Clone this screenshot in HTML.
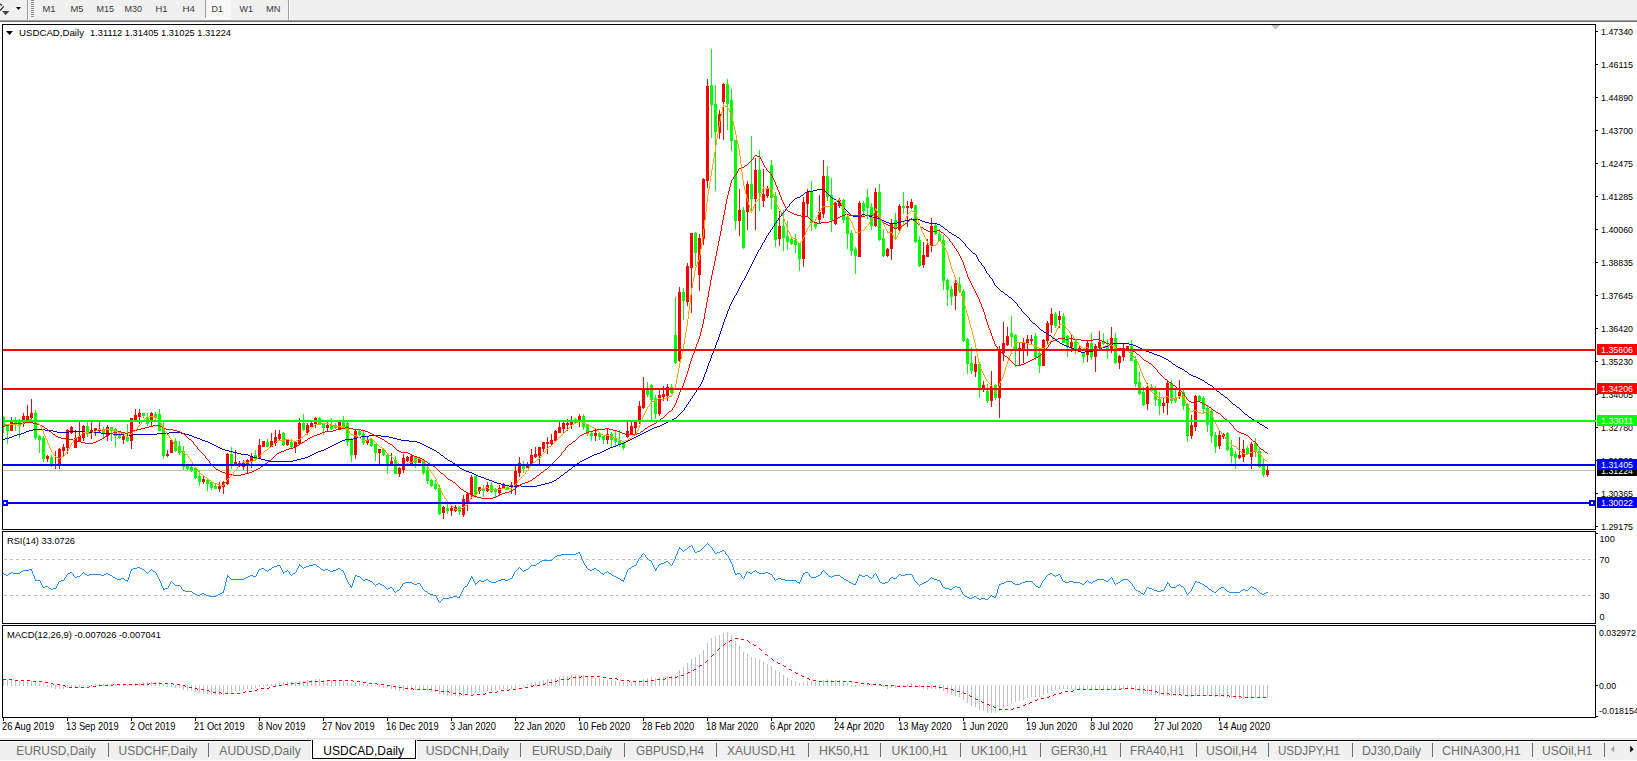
<!DOCTYPE html><html><head><meta charset="utf-8"><style>html,body{margin:0;padding:0;background:#fff;}body{width:1637px;height:761px;overflow:hidden;position:relative;}svg{position:absolute;left:0;top:0;display:block}text{font-family:"Liberation Sans", Arial, sans-serif;}</style></head><body>
<svg width="1637" height="761" viewBox="0 0 1637 761" shape-rendering="crispEdges">
<rect x="0" y="0" width="1637" height="20" fill="#f0f0f0"/>
<rect x="0" y="20" width="1637" height="1" fill="#a0a0a0"/>
<rect x="0" y="21" width="1637" height="1" fill="#696969"/>
<rect x="27" y="0" width="1" height="20" fill="#a0a0a0"/><rect x="28" y="0" width="1" height="20" fill="#ffffff"/>
<rect x="31" y="0" width="3" height="1" fill="#909090"/>
<rect x="31" y="2" width="3" height="1" fill="#909090"/>
<rect x="31" y="4" width="3" height="1" fill="#909090"/>
<rect x="31" y="6" width="3" height="1" fill="#909090"/>
<rect x="31" y="8" width="3" height="1" fill="#909090"/>
<rect x="31" y="10" width="3" height="1" fill="#909090"/>
<rect x="31" y="12" width="3" height="1" fill="#909090"/>
<rect x="31" y="14" width="3" height="1" fill="#909090"/>
<rect x="31" y="16" width="3" height="1" fill="#909090"/>
<g shape-rendering="auto"><path d="M0 4.2 L1.9 5.4 M3.7 6.4 L0.2 10.6" stroke="#fff" stroke-width="3.2" fill="none" opacity="0.85"/><path d="M0 4.2 L1.9 5.4 M3.7 6.4 L0.2 10.6" stroke="#2a2a2a" stroke-width="1.4" fill="none"/><path d="M2 11 L9.5 11 L5.6 15.3 Z" fill="#4a4a4a" stroke="#fff" stroke-width="1.2" stroke-linejoin="round" paint-order="stroke"/><path d="M16 7 L21 7 L18.5 10 Z" fill="#000" stroke="#fff" stroke-width="1" paint-order="stroke"/></g>
<rect x="205" y="0" width="1" height="18" fill="#a0a0a0"/>
<rect x="206" y="0" width="25" height="18" fill="#f7f7f7"/>
<rect x="205" y="18" width="26" height="1" fill="#ffffff"/>
<rect x="288" y="0" width="1" height="20" fill="#a0a0a0"/><rect x="289" y="0" width="1" height="20" fill="#ffffff"/>
<text x="42.5" y="12" font-size="9.6" fill="#3a3a3a" textLength="13" lengthAdjust="spacingAndGlyphs">M1</text>
<text x="70.5" y="12" font-size="9.6" fill="#3a3a3a" textLength="13" lengthAdjust="spacingAndGlyphs">M5</text>
<text x="96.5" y="12" font-size="9.6" fill="#3a3a3a" textLength="17.5" lengthAdjust="spacingAndGlyphs">M15</text>
<text x="124.5" y="12" font-size="9.6" fill="#3a3a3a" textLength="17.5" lengthAdjust="spacingAndGlyphs">M30</text>
<text x="155.5" y="12" font-size="9.6" fill="#3a3a3a" textLength="12" lengthAdjust="spacingAndGlyphs">H1</text>
<text x="182.5" y="12" font-size="9.6" fill="#3a3a3a" textLength="12.5" lengthAdjust="spacingAndGlyphs">H4</text>
<text x="211.5" y="12" font-size="9.6" fill="#3a3a3a" textLength="11.5" lengthAdjust="spacingAndGlyphs">D1</text>
<text x="239.5" y="12" font-size="9.6" fill="#3a3a3a" textLength="13.5" lengthAdjust="spacingAndGlyphs">W1</text>
<text x="266" y="12" font-size="9.6" fill="#3a3a3a" textLength="14.5" lengthAdjust="spacingAndGlyphs">MN</text>
<rect x="2.5" y="24.5" width="1593" height="505" fill="#fff" stroke="#000" stroke-width="1"/>
<rect x="2.5" y="531.5" width="1593" height="92" fill="#fff" stroke="#000" stroke-width="1"/>
<rect x="2.5" y="625.5" width="1593" height="92" fill="#fff" stroke="#000" stroke-width="1"/>
<rect x="3" y="470" width="1592" height="1" fill="#c0c0c0"/>
<rect x="3" y="416" width="1" height="17" fill="#00ff00"/>
<rect x="2" y="417" width="3" height="9" fill="#00ff00"/>
<rect x="7" y="425" width="1" height="19" fill="#00ff00"/>
<rect x="6" y="426" width="3" height="5" fill="#00ff00"/>
<rect x="11" y="417" width="1" height="14" fill="#ff0000"/>
<rect x="10" y="422" width="3" height="9" fill="#ff0000"/>
<rect x="15" y="417" width="1" height="14" fill="#00ff00"/>
<rect x="14" y="422" width="3" height="2" fill="#00ff00"/>
<rect x="19" y="419" width="1" height="19" fill="#00ff00"/>
<rect x="18" y="421" width="3" height="5" fill="#00ff00"/>
<rect x="23" y="413" width="1" height="14" fill="#ff0000"/>
<rect x="22" y="416" width="3" height="5" fill="#ff0000"/>
<rect x="27" y="405" width="1" height="15" fill="#ff0000"/>
<rect x="26" y="416" width="3" height="4" fill="#ff0000"/>
<rect x="31" y="399" width="1" height="20" fill="#ff0000"/>
<rect x="30" y="413" width="3" height="5" fill="#ff0000"/>
<rect x="35" y="410" width="1" height="30" fill="#00ff00"/>
<rect x="34" y="413" width="3" height="25" fill="#00ff00"/>
<rect x="39" y="435" width="1" height="18" fill="#00ff00"/>
<rect x="38" y="436" width="3" height="4" fill="#00ff00"/>
<rect x="43" y="436" width="1" height="26" fill="#00ff00"/>
<rect x="42" y="438" width="3" height="21" fill="#00ff00"/>
<rect x="47" y="455" width="1" height="7" fill="#ff0000"/>
<rect x="46" y="456" width="3" height="3" fill="#ff0000"/>
<rect x="51" y="455" width="1" height="12" fill="#00ff00"/>
<rect x="50" y="457" width="3" height="9" fill="#00ff00"/>
<rect x="55" y="451" width="1" height="18" fill="#ff0000"/>
<rect x="54" y="464" width="3" height="2" fill="#ff0000"/>
<rect x="59" y="448" width="1" height="21" fill="#ff0000"/>
<rect x="58" y="449" width="3" height="17" fill="#ff0000"/>
<rect x="63" y="444" width="1" height="13" fill="#ff0000"/>
<rect x="62" y="447" width="3" height="4" fill="#ff0000"/>
<rect x="67" y="429" width="1" height="25" fill="#ff0000"/>
<rect x="66" y="430" width="3" height="18" fill="#ff0000"/>
<rect x="71" y="426" width="1" height="8" fill="#ff0000"/>
<rect x="70" y="427" width="3" height="6" fill="#ff0000"/>
<rect x="75" y="430" width="1" height="18" fill="#ff0000"/>
<rect x="74" y="438" width="3" height="10" fill="#ff0000"/>
<rect x="79" y="422" width="1" height="19" fill="#ff0000"/>
<rect x="78" y="436" width="3" height="5" fill="#ff0000"/>
<rect x="83" y="425" width="1" height="16" fill="#ff0000"/>
<rect x="82" y="426" width="3" height="12" fill="#ff0000"/>
<rect x="87" y="420" width="1" height="17" fill="#00ff00"/>
<rect x="86" y="426" width="3" height="8" fill="#00ff00"/>
<rect x="91" y="422" width="1" height="17" fill="#ff0000"/>
<rect x="90" y="430" width="3" height="3" fill="#ff0000"/>
<rect x="95" y="428" width="1" height="8" fill="#ff0000"/>
<rect x="94" y="428" width="3" height="3" fill="#ff0000"/>
<rect x="99" y="422" width="1" height="11" fill="#ff0000"/>
<rect x="98" y="429" width="3" height="2" fill="#ff0000"/>
<rect x="103" y="427" width="1" height="11" fill="#00ff00"/>
<rect x="102" y="429" width="3" height="4" fill="#00ff00"/>
<rect x="107" y="425" width="1" height="16" fill="#ff0000"/>
<rect x="106" y="427" width="3" height="9" fill="#ff0000"/>
<rect x="111" y="427" width="1" height="14" fill="#00ff00"/>
<rect x="110" y="427" width="3" height="4" fill="#00ff00"/>
<rect x="115" y="428" width="1" height="19" fill="#00ff00"/>
<rect x="114" y="429" width="3" height="7" fill="#00ff00"/>
<rect x="119" y="432" width="1" height="7" fill="#00ff00"/>
<rect x="118" y="435" width="3" height="3" fill="#00ff00"/>
<rect x="123" y="435" width="1" height="9" fill="#ff0000"/>
<rect x="122" y="436" width="3" height="4" fill="#ff0000"/>
<rect x="127" y="424" width="1" height="18" fill="#00ff00"/>
<rect x="126" y="437" width="3" height="4" fill="#00ff00"/>
<rect x="131" y="418" width="1" height="31" fill="#ff0000"/>
<rect x="130" y="418" width="3" height="23" fill="#ff0000"/>
<rect x="135" y="409" width="1" height="12" fill="#ff0000"/>
<rect x="134" y="415" width="3" height="6" fill="#ff0000"/>
<rect x="139" y="409" width="1" height="15" fill="#ff0000"/>
<rect x="138" y="413" width="3" height="4" fill="#ff0000"/>
<rect x="143" y="413" width="1" height="5" fill="#00ff00"/>
<rect x="142" y="413" width="3" height="3" fill="#00ff00"/>
<rect x="147" y="413" width="1" height="13" fill="#00ff00"/>
<rect x="146" y="417" width="3" height="7" fill="#00ff00"/>
<rect x="151" y="412" width="1" height="15" fill="#ff0000"/>
<rect x="150" y="413" width="3" height="8" fill="#ff0000"/>
<rect x="155" y="412" width="1" height="10" fill="#00ff00"/>
<rect x="154" y="414" width="3" height="4" fill="#00ff00"/>
<rect x="159" y="409" width="1" height="22" fill="#00ff00"/>
<rect x="158" y="414" width="3" height="17" fill="#00ff00"/>
<rect x="163" y="422" width="1" height="37" fill="#00ff00"/>
<rect x="162" y="428" width="3" height="28" fill="#00ff00"/>
<rect x="167" y="450" width="1" height="7" fill="#ff0000"/>
<rect x="166" y="454" width="3" height="2" fill="#ff0000"/>
<rect x="171" y="440" width="1" height="13" fill="#ff0000"/>
<rect x="170" y="440" width="3" height="13" fill="#ff0000"/>
<rect x="175" y="438" width="1" height="14" fill="#00ff00"/>
<rect x="174" y="441" width="3" height="10" fill="#00ff00"/>
<rect x="179" y="441" width="1" height="14" fill="#00ff00"/>
<rect x="178" y="446" width="3" height="7" fill="#00ff00"/>
<rect x="183" y="446" width="1" height="24" fill="#00ff00"/>
<rect x="182" y="451" width="3" height="16" fill="#00ff00"/>
<rect x="187" y="465" width="1" height="6" fill="#00ff00"/>
<rect x="186" y="466" width="3" height="3" fill="#00ff00"/>
<rect x="191" y="466" width="1" height="6" fill="#00ff00"/>
<rect x="190" y="467" width="3" height="4" fill="#00ff00"/>
<rect x="195" y="467" width="1" height="12" fill="#00ff00"/>
<rect x="194" y="468" width="3" height="10" fill="#00ff00"/>
<rect x="199" y="470" width="1" height="16" fill="#00ff00"/>
<rect x="198" y="476" width="3" height="6" fill="#00ff00"/>
<rect x="203" y="475" width="1" height="9" fill="#ff0000"/>
<rect x="202" y="479" width="3" height="3" fill="#ff0000"/>
<rect x="207" y="478" width="1" height="13" fill="#00ff00"/>
<rect x="206" y="480" width="3" height="4" fill="#00ff00"/>
<rect x="211" y="481" width="1" height="9" fill="#00ff00"/>
<rect x="210" y="482" width="3" height="6" fill="#00ff00"/>
<rect x="215" y="484" width="1" height="5" fill="#00ff00"/>
<rect x="214" y="486" width="3" height="3" fill="#00ff00"/>
<rect x="219" y="482" width="1" height="10" fill="#ff0000"/>
<rect x="218" y="486" width="3" height="3" fill="#ff0000"/>
<rect x="223" y="481" width="1" height="13" fill="#ff0000"/>
<rect x="222" y="482" width="3" height="5" fill="#ff0000"/>
<rect x="227" y="453" width="1" height="32" fill="#ff0000"/>
<rect x="226" y="454" width="3" height="30" fill="#ff0000"/>
<rect x="231" y="447" width="1" height="22" fill="#00ff00"/>
<rect x="230" y="454" width="3" height="11" fill="#00ff00"/>
<rect x="235" y="450" width="1" height="15" fill="#ff0000"/>
<rect x="234" y="462" width="3" height="3" fill="#ff0000"/>
<rect x="239" y="461" width="1" height="6" fill="#ff0000"/>
<rect x="238" y="463" width="3" height="2" fill="#ff0000"/>
<rect x="243" y="460" width="1" height="10" fill="#ff0000"/>
<rect x="242" y="463" width="3" height="4" fill="#ff0000"/>
<rect x="247" y="459" width="1" height="15" fill="#ff0000"/>
<rect x="246" y="460" width="3" height="4" fill="#ff0000"/>
<rect x="251" y="453" width="1" height="15" fill="#ff0000"/>
<rect x="250" y="456" width="3" height="6" fill="#ff0000"/>
<rect x="255" y="450" width="1" height="11" fill="#00ff00"/>
<rect x="254" y="455" width="3" height="4" fill="#00ff00"/>
<rect x="259" y="439" width="1" height="20" fill="#ff0000"/>
<rect x="258" y="445" width="3" height="13" fill="#ff0000"/>
<rect x="263" y="441" width="1" height="6" fill="#ff0000"/>
<rect x="262" y="441" width="3" height="6" fill="#ff0000"/>
<rect x="267" y="439" width="1" height="8" fill="#00ff00"/>
<rect x="266" y="442" width="3" height="5" fill="#00ff00"/>
<rect x="271" y="433" width="1" height="14" fill="#ff0000"/>
<rect x="270" y="441" width="3" height="6" fill="#ff0000"/>
<rect x="275" y="430" width="1" height="16" fill="#ff0000"/>
<rect x="274" y="437" width="3" height="6" fill="#ff0000"/>
<rect x="279" y="430" width="1" height="11" fill="#ff0000"/>
<rect x="278" y="434" width="3" height="5" fill="#ff0000"/>
<rect x="283" y="432" width="1" height="14" fill="#00ff00"/>
<rect x="282" y="433" width="3" height="12" fill="#00ff00"/>
<rect x="287" y="439" width="1" height="7" fill="#ff0000"/>
<rect x="286" y="440" width="3" height="5" fill="#ff0000"/>
<rect x="291" y="439" width="1" height="9" fill="#00ff00"/>
<rect x="290" y="442" width="3" height="5" fill="#00ff00"/>
<rect x="295" y="441" width="1" height="12" fill="#ff0000"/>
<rect x="294" y="442" width="3" height="5" fill="#ff0000"/>
<rect x="299" y="418" width="1" height="26" fill="#ff0000"/>
<rect x="298" y="423" width="3" height="21" fill="#ff0000"/>
<rect x="303" y="414" width="1" height="17" fill="#00ff00"/>
<rect x="302" y="423" width="3" height="7" fill="#00ff00"/>
<rect x="307" y="423" width="1" height="12" fill="#ff0000"/>
<rect x="306" y="425" width="3" height="8" fill="#ff0000"/>
<rect x="311" y="422" width="1" height="5" fill="#ff0000"/>
<rect x="310" y="423" width="3" height="4" fill="#ff0000"/>
<rect x="315" y="417" width="1" height="11" fill="#ff0000"/>
<rect x="314" y="418" width="3" height="6" fill="#ff0000"/>
<rect x="319" y="417" width="1" height="8" fill="#00ff00"/>
<rect x="318" y="418" width="3" height="7" fill="#00ff00"/>
<rect x="323" y="423" width="1" height="12" fill="#00ff00"/>
<rect x="322" y="424" width="3" height="4" fill="#00ff00"/>
<rect x="327" y="422" width="1" height="9" fill="#ff0000"/>
<rect x="326" y="425" width="3" height="3" fill="#ff0000"/>
<rect x="331" y="418" width="1" height="12" fill="#00ff00"/>
<rect x="330" y="425" width="3" height="4" fill="#00ff00"/>
<rect x="335" y="423" width="1" height="6" fill="#00ff00"/>
<rect x="334" y="425" width="3" height="3" fill="#00ff00"/>
<rect x="339" y="422" width="1" height="8" fill="#ff0000"/>
<rect x="338" y="422" width="3" height="8" fill="#ff0000"/>
<rect x="343" y="416" width="1" height="12" fill="#00ff00"/>
<rect x="342" y="422" width="3" height="6" fill="#00ff00"/>
<rect x="347" y="422" width="1" height="24" fill="#00ff00"/>
<rect x="346" y="423" width="3" height="19" fill="#00ff00"/>
<rect x="351" y="438" width="1" height="24" fill="#00ff00"/>
<rect x="350" y="440" width="3" height="15" fill="#00ff00"/>
<rect x="355" y="430" width="1" height="29" fill="#ff0000"/>
<rect x="354" y="431" width="3" height="24" fill="#ff0000"/>
<rect x="359" y="430" width="1" height="6" fill="#00ff00"/>
<rect x="358" y="431" width="3" height="4" fill="#00ff00"/>
<rect x="363" y="431" width="1" height="14" fill="#00ff00"/>
<rect x="362" y="434" width="3" height="9" fill="#00ff00"/>
<rect x="367" y="436" width="1" height="9" fill="#ff0000"/>
<rect x="366" y="440" width="3" height="3" fill="#ff0000"/>
<rect x="371" y="439" width="1" height="8" fill="#00ff00"/>
<rect x="370" y="439" width="3" height="7" fill="#00ff00"/>
<rect x="375" y="444" width="1" height="17" fill="#00ff00"/>
<rect x="374" y="444" width="3" height="9" fill="#00ff00"/>
<rect x="379" y="449" width="1" height="15" fill="#ff0000"/>
<rect x="378" y="449" width="3" height="4" fill="#ff0000"/>
<rect x="383" y="449" width="1" height="7" fill="#00ff00"/>
<rect x="382" y="449" width="3" height="6" fill="#00ff00"/>
<rect x="387" y="453" width="1" height="21" fill="#00ff00"/>
<rect x="386" y="455" width="3" height="9" fill="#00ff00"/>
<rect x="391" y="453" width="1" height="12" fill="#ff0000"/>
<rect x="390" y="461" width="3" height="3" fill="#ff0000"/>
<rect x="395" y="456" width="1" height="18" fill="#00ff00"/>
<rect x="394" y="460" width="3" height="14" fill="#00ff00"/>
<rect x="399" y="467" width="1" height="10" fill="#ff0000"/>
<rect x="398" y="468" width="3" height="6" fill="#ff0000"/>
<rect x="403" y="454" width="1" height="19" fill="#ff0000"/>
<rect x="402" y="458" width="3" height="12" fill="#ff0000"/>
<rect x="407" y="456" width="1" height="6" fill="#ff0000"/>
<rect x="406" y="457" width="3" height="4" fill="#ff0000"/>
<rect x="411" y="455" width="1" height="9" fill="#ff0000"/>
<rect x="410" y="456" width="3" height="8" fill="#ff0000"/>
<rect x="415" y="456" width="1" height="12" fill="#00ff00"/>
<rect x="414" y="457" width="3" height="6" fill="#00ff00"/>
<rect x="419" y="458" width="1" height="5" fill="#ff0000"/>
<rect x="418" y="459" width="3" height="4" fill="#ff0000"/>
<rect x="423" y="460" width="1" height="15" fill="#00ff00"/>
<rect x="422" y="460" width="3" height="13" fill="#00ff00"/>
<rect x="427" y="466" width="1" height="18" fill="#00ff00"/>
<rect x="426" y="470" width="3" height="11" fill="#00ff00"/>
<rect x="431" y="479" width="1" height="8" fill="#00ff00"/>
<rect x="430" y="480" width="3" height="6" fill="#00ff00"/>
<rect x="435" y="480" width="1" height="10" fill="#00ff00"/>
<rect x="434" y="484" width="3" height="5" fill="#00ff00"/>
<rect x="439" y="485" width="1" height="30" fill="#00ff00"/>
<rect x="438" y="488" width="3" height="26" fill="#00ff00"/>
<rect x="443" y="506" width="1" height="13" fill="#ff0000"/>
<rect x="442" y="507" width="3" height="6" fill="#ff0000"/>
<rect x="447" y="502" width="1" height="12" fill="#00ff00"/>
<rect x="446" y="508" width="3" height="3" fill="#00ff00"/>
<rect x="451" y="505" width="1" height="11" fill="#ff0000"/>
<rect x="450" y="508" width="3" height="3" fill="#ff0000"/>
<rect x="455" y="505" width="1" height="7" fill="#ff0000"/>
<rect x="454" y="507" width="3" height="4" fill="#ff0000"/>
<rect x="459" y="506" width="1" height="9" fill="#00ff00"/>
<rect x="458" y="507" width="3" height="5" fill="#00ff00"/>
<rect x="463" y="495" width="1" height="22" fill="#ff0000"/>
<rect x="462" y="499" width="3" height="16" fill="#ff0000"/>
<rect x="467" y="493" width="1" height="18" fill="#ff0000"/>
<rect x="466" y="494" width="3" height="9" fill="#ff0000"/>
<rect x="471" y="475" width="1" height="24" fill="#ff0000"/>
<rect x="470" y="477" width="3" height="18" fill="#ff0000"/>
<rect x="475" y="476" width="1" height="22" fill="#00ff00"/>
<rect x="474" y="476" width="3" height="19" fill="#00ff00"/>
<rect x="479" y="487" width="1" height="7" fill="#ff0000"/>
<rect x="478" y="487" width="3" height="4" fill="#ff0000"/>
<rect x="483" y="485" width="1" height="12" fill="#00ff00"/>
<rect x="482" y="488" width="3" height="3" fill="#00ff00"/>
<rect x="487" y="482" width="1" height="10" fill="#ff0000"/>
<rect x="486" y="485" width="3" height="6" fill="#ff0000"/>
<rect x="491" y="482" width="1" height="11" fill="#00ff00"/>
<rect x="490" y="485" width="3" height="7" fill="#00ff00"/>
<rect x="495" y="488" width="1" height="9" fill="#00ff00"/>
<rect x="494" y="490" width="3" height="2" fill="#00ff00"/>
<rect x="499" y="485" width="1" height="10" fill="#ff0000"/>
<rect x="498" y="488" width="3" height="5" fill="#ff0000"/>
<rect x="503" y="483" width="1" height="6" fill="#ff0000"/>
<rect x="502" y="485" width="3" height="4" fill="#ff0000"/>
<rect x="507" y="485" width="1" height="5" fill="#00ff00"/>
<rect x="506" y="487" width="3" height="3" fill="#00ff00"/>
<rect x="511" y="482" width="1" height="12" fill="#ff0000"/>
<rect x="510" y="485" width="3" height="2" fill="#ff0000"/>
<rect x="515" y="466" width="1" height="29" fill="#ff0000"/>
<rect x="514" y="471" width="3" height="16" fill="#ff0000"/>
<rect x="519" y="457" width="1" height="20" fill="#ff0000"/>
<rect x="518" y="463" width="3" height="10" fill="#ff0000"/>
<rect x="523" y="461" width="1" height="12" fill="#00ff00"/>
<rect x="522" y="464" width="3" height="5" fill="#00ff00"/>
<rect x="527" y="462" width="1" height="6" fill="#ff0000"/>
<rect x="526" y="464" width="3" height="4" fill="#ff0000"/>
<rect x="531" y="449" width="1" height="17" fill="#ff0000"/>
<rect x="530" y="455" width="3" height="10" fill="#ff0000"/>
<rect x="535" y="447" width="1" height="11" fill="#ff0000"/>
<rect x="534" y="454" width="3" height="3" fill="#ff0000"/>
<rect x="539" y="447" width="1" height="17" fill="#ff0000"/>
<rect x="538" y="447" width="3" height="9" fill="#ff0000"/>
<rect x="543" y="442" width="1" height="10" fill="#ff0000"/>
<rect x="542" y="442" width="3" height="7" fill="#ff0000"/>
<rect x="547" y="437" width="1" height="17" fill="#ff0000"/>
<rect x="546" y="442" width="3" height="2" fill="#ff0000"/>
<rect x="551" y="434" width="1" height="12" fill="#ff0000"/>
<rect x="550" y="440" width="3" height="4" fill="#ff0000"/>
<rect x="555" y="430" width="1" height="11" fill="#ff0000"/>
<rect x="554" y="431" width="3" height="10" fill="#ff0000"/>
<rect x="559" y="422" width="1" height="11" fill="#ff0000"/>
<rect x="558" y="427" width="3" height="6" fill="#ff0000"/>
<rect x="563" y="422" width="1" height="12" fill="#ff0000"/>
<rect x="562" y="423" width="3" height="6" fill="#ff0000"/>
<rect x="567" y="419" width="1" height="12" fill="#ff0000"/>
<rect x="566" y="423" width="3" height="2" fill="#ff0000"/>
<rect x="571" y="416" width="1" height="13" fill="#ff0000"/>
<rect x="570" y="422" width="3" height="3" fill="#ff0000"/>
<rect x="575" y="418" width="1" height="6" fill="#00ff00"/>
<rect x="574" y="419" width="3" height="4" fill="#00ff00"/>
<rect x="579" y="414" width="1" height="13" fill="#ff0000"/>
<rect x="578" y="416" width="3" height="5" fill="#ff0000"/>
<rect x="583" y="414" width="1" height="16" fill="#00ff00"/>
<rect x="582" y="416" width="3" height="11" fill="#00ff00"/>
<rect x="587" y="424" width="1" height="12" fill="#00ff00"/>
<rect x="586" y="424" width="3" height="10" fill="#00ff00"/>
<rect x="591" y="432" width="1" height="9" fill="#00ff00"/>
<rect x="590" y="433" width="3" height="3" fill="#00ff00"/>
<rect x="595" y="429" width="1" height="12" fill="#ff0000"/>
<rect x="594" y="433" width="3" height="3" fill="#ff0000"/>
<rect x="599" y="432" width="1" height="8" fill="#00ff00"/>
<rect x="598" y="433" width="3" height="4" fill="#00ff00"/>
<rect x="603" y="435" width="1" height="9" fill="#00ff00"/>
<rect x="602" y="436" width="3" height="4" fill="#00ff00"/>
<rect x="607" y="428" width="1" height="16" fill="#ff0000"/>
<rect x="606" y="434" width="3" height="6" fill="#ff0000"/>
<rect x="611" y="432" width="1" height="15" fill="#00ff00"/>
<rect x="610" y="434" width="3" height="6" fill="#00ff00"/>
<rect x="615" y="431" width="1" height="16" fill="#00ff00"/>
<rect x="614" y="438" width="3" height="4" fill="#00ff00"/>
<rect x="619" y="430" width="1" height="17" fill="#00ff00"/>
<rect x="618" y="441" width="3" height="3" fill="#00ff00"/>
<rect x="623" y="442" width="1" height="8" fill="#00ff00"/>
<rect x="622" y="443" width="3" height="5" fill="#00ff00"/>
<rect x="627" y="422" width="1" height="16" fill="#ff0000"/>
<rect x="626" y="431" width="3" height="6" fill="#ff0000"/>
<rect x="631" y="422" width="1" height="12" fill="#ff0000"/>
<rect x="630" y="426" width="3" height="8" fill="#ff0000"/>
<rect x="635" y="421" width="1" height="13" fill="#ff0000"/>
<rect x="634" y="422" width="3" height="6" fill="#ff0000"/>
<rect x="639" y="401" width="1" height="23" fill="#ff0000"/>
<rect x="638" y="406" width="3" height="15" fill="#ff0000"/>
<rect x="643" y="377" width="1" height="32" fill="#ff0000"/>
<rect x="642" y="389" width="3" height="19" fill="#ff0000"/>
<rect x="647" y="382" width="1" height="15" fill="#00ff00"/>
<rect x="646" y="389" width="3" height="6" fill="#00ff00"/>
<rect x="651" y="384" width="1" height="36" fill="#00ff00"/>
<rect x="650" y="385" width="3" height="15" fill="#00ff00"/>
<rect x="655" y="395" width="1" height="24" fill="#00ff00"/>
<rect x="654" y="398" width="3" height="16" fill="#00ff00"/>
<rect x="659" y="390" width="1" height="26" fill="#ff0000"/>
<rect x="658" y="395" width="3" height="19" fill="#ff0000"/>
<rect x="663" y="386" width="1" height="15" fill="#ff0000"/>
<rect x="662" y="394" width="3" height="3" fill="#ff0000"/>
<rect x="667" y="384" width="1" height="17" fill="#ff0000"/>
<rect x="666" y="387" width="3" height="9" fill="#ff0000"/>
<rect x="671" y="384" width="1" height="10" fill="#00ff00"/>
<rect x="670" y="387" width="3" height="6" fill="#00ff00"/>
<rect x="675" y="297" width="1" height="67" fill="#00ff00"/>
<rect x="674" y="335" width="3" height="28" fill="#00ff00"/>
<rect x="679" y="287" width="1" height="75" fill="#ff0000"/>
<rect x="678" y="292" width="3" height="69" fill="#ff0000"/>
<rect x="683" y="288" width="1" height="32" fill="#00ff00"/>
<rect x="682" y="292" width="3" height="9" fill="#00ff00"/>
<rect x="687" y="263" width="1" height="43" fill="#ff0000"/>
<rect x="686" y="266" width="3" height="36" fill="#ff0000"/>
<rect x="691" y="233" width="1" height="80" fill="#ff0000"/>
<rect x="690" y="233" width="3" height="35" fill="#ff0000"/>
<rect x="695" y="232" width="1" height="34" fill="#00ff00"/>
<rect x="694" y="233" width="3" height="20" fill="#00ff00"/>
<rect x="699" y="234" width="1" height="57" fill="#ff0000"/>
<rect x="698" y="238" width="3" height="37" fill="#ff0000"/>
<rect x="703" y="178" width="1" height="67" fill="#ff0000"/>
<rect x="702" y="179" width="3" height="60" fill="#ff0000"/>
<rect x="707" y="79" width="1" height="109" fill="#ff0000"/>
<rect x="706" y="86" width="3" height="95" fill="#ff0000"/>
<rect x="711" y="49" width="1" height="89" fill="#00ff00"/>
<rect x="710" y="85" width="3" height="20" fill="#00ff00"/>
<rect x="715" y="85" width="1" height="106" fill="#00ff00"/>
<rect x="714" y="104" width="3" height="28" fill="#00ff00"/>
<rect x="719" y="110" width="1" height="29" fill="#ff0000"/>
<rect x="718" y="114" width="3" height="19" fill="#ff0000"/>
<rect x="723" y="83" width="1" height="57" fill="#ff0000"/>
<rect x="722" y="84" width="3" height="18" fill="#ff0000"/>
<rect x="727" y="79" width="1" height="51" fill="#00ff00"/>
<rect x="726" y="84" width="3" height="20" fill="#00ff00"/>
<rect x="731" y="89" width="1" height="62" fill="#00ff00"/>
<rect x="730" y="100" width="3" height="41" fill="#00ff00"/>
<rect x="735" y="140" width="1" height="90" fill="#00ff00"/>
<rect x="734" y="140" width="3" height="81" fill="#00ff00"/>
<rect x="739" y="189" width="1" height="47" fill="#ff0000"/>
<rect x="738" y="210" width="3" height="11" fill="#ff0000"/>
<rect x="743" y="207" width="1" height="42" fill="#00ff00"/>
<rect x="742" y="210" width="3" height="38" fill="#00ff00"/>
<rect x="747" y="181" width="1" height="49" fill="#ff0000"/>
<rect x="746" y="184" width="3" height="28" fill="#ff0000"/>
<rect x="751" y="136" width="1" height="75" fill="#00ff00"/>
<rect x="750" y="184" width="3" height="15" fill="#00ff00"/>
<rect x="755" y="158" width="1" height="72" fill="#ff0000"/>
<rect x="754" y="170" width="3" height="29" fill="#ff0000"/>
<rect x="759" y="150" width="1" height="61" fill="#00ff00"/>
<rect x="758" y="170" width="3" height="23" fill="#00ff00"/>
<rect x="763" y="169" width="1" height="38" fill="#ff0000"/>
<rect x="762" y="194" width="3" height="7" fill="#ff0000"/>
<rect x="767" y="186" width="1" height="12" fill="#ff0000"/>
<rect x="766" y="188" width="3" height="8" fill="#ff0000"/>
<rect x="771" y="160" width="1" height="49" fill="#00ff00"/>
<rect x="770" y="165" width="3" height="33" fill="#00ff00"/>
<rect x="775" y="192" width="1" height="55" fill="#00ff00"/>
<rect x="774" y="196" width="3" height="44" fill="#00ff00"/>
<rect x="779" y="211" width="1" height="35" fill="#ff0000"/>
<rect x="778" y="226" width="3" height="13" fill="#ff0000"/>
<rect x="783" y="210" width="1" height="41" fill="#00ff00"/>
<rect x="782" y="226" width="3" height="12" fill="#00ff00"/>
<rect x="787" y="221" width="1" height="29" fill="#00ff00"/>
<rect x="786" y="236" width="3" height="6" fill="#00ff00"/>
<rect x="791" y="238" width="1" height="7" fill="#00ff00"/>
<rect x="790" y="239" width="3" height="5" fill="#00ff00"/>
<rect x="795" y="234" width="1" height="19" fill="#00ff00"/>
<rect x="794" y="240" width="3" height="5" fill="#00ff00"/>
<rect x="799" y="243" width="1" height="28" fill="#00ff00"/>
<rect x="798" y="244" width="3" height="15" fill="#00ff00"/>
<rect x="803" y="197" width="1" height="70" fill="#ff0000"/>
<rect x="802" y="202" width="3" height="57" fill="#ff0000"/>
<rect x="807" y="189" width="1" height="28" fill="#ff0000"/>
<rect x="806" y="192" width="3" height="12" fill="#ff0000"/>
<rect x="811" y="181" width="1" height="50" fill="#00ff00"/>
<rect x="810" y="192" width="3" height="31" fill="#00ff00"/>
<rect x="815" y="223" width="1" height="6" fill="#00ff00"/>
<rect x="814" y="223" width="3" height="4" fill="#00ff00"/>
<rect x="819" y="195" width="1" height="29" fill="#ff0000"/>
<rect x="818" y="212" width="3" height="8" fill="#ff0000"/>
<rect x="823" y="160" width="1" height="58" fill="#ff0000"/>
<rect x="822" y="176" width="3" height="38" fill="#ff0000"/>
<rect x="827" y="166" width="1" height="35" fill="#00ff00"/>
<rect x="826" y="176" width="3" height="21" fill="#00ff00"/>
<rect x="831" y="178" width="1" height="54" fill="#00ff00"/>
<rect x="830" y="195" width="3" height="25" fill="#00ff00"/>
<rect x="835" y="201" width="1" height="24" fill="#ff0000"/>
<rect x="834" y="203" width="3" height="21" fill="#ff0000"/>
<rect x="839" y="198" width="1" height="10" fill="#ff0000"/>
<rect x="838" y="200" width="3" height="6" fill="#ff0000"/>
<rect x="843" y="199" width="1" height="24" fill="#00ff00"/>
<rect x="842" y="200" width="3" height="20" fill="#00ff00"/>
<rect x="847" y="214" width="1" height="35" fill="#00ff00"/>
<rect x="846" y="217" width="3" height="17" fill="#00ff00"/>
<rect x="851" y="230" width="1" height="26" fill="#00ff00"/>
<rect x="850" y="233" width="3" height="18" fill="#00ff00"/>
<rect x="855" y="247" width="1" height="27" fill="#00ff00"/>
<rect x="854" y="249" width="3" height="7" fill="#00ff00"/>
<rect x="859" y="201" width="1" height="56" fill="#ff0000"/>
<rect x="858" y="203" width="3" height="54" fill="#ff0000"/>
<rect x="863" y="201" width="1" height="16" fill="#00ff00"/>
<rect x="862" y="203" width="3" height="8" fill="#00ff00"/>
<rect x="867" y="189" width="1" height="30" fill="#00ff00"/>
<rect x="866" y="197" width="3" height="11" fill="#00ff00"/>
<rect x="871" y="203" width="1" height="27" fill="#00ff00"/>
<rect x="870" y="207" width="3" height="19" fill="#00ff00"/>
<rect x="875" y="188" width="1" height="39" fill="#ff0000"/>
<rect x="874" y="192" width="3" height="34" fill="#ff0000"/>
<rect x="879" y="184" width="1" height="57" fill="#00ff00"/>
<rect x="878" y="192" width="3" height="48" fill="#00ff00"/>
<rect x="883" y="229" width="1" height="28" fill="#00ff00"/>
<rect x="882" y="238" width="3" height="18" fill="#00ff00"/>
<rect x="887" y="248" width="1" height="9" fill="#ff0000"/>
<rect x="886" y="249" width="3" height="7" fill="#ff0000"/>
<rect x="891" y="219" width="1" height="41" fill="#ff0000"/>
<rect x="890" y="224" width="3" height="25" fill="#ff0000"/>
<rect x="895" y="213" width="1" height="26" fill="#00ff00"/>
<rect x="894" y="220" width="3" height="9" fill="#00ff00"/>
<rect x="899" y="204" width="1" height="27" fill="#ff0000"/>
<rect x="898" y="206" width="3" height="24" fill="#ff0000"/>
<rect x="903" y="192" width="1" height="22" fill="#00ff00"/>
<rect x="902" y="206" width="3" height="2" fill="#00ff00"/>
<rect x="907" y="201" width="1" height="26" fill="#ff0000"/>
<rect x="906" y="206" width="3" height="2" fill="#ff0000"/>
<rect x="911" y="199" width="1" height="10" fill="#ff0000"/>
<rect x="910" y="202" width="3" height="6" fill="#ff0000"/>
<rect x="915" y="205" width="1" height="38" fill="#00ff00"/>
<rect x="914" y="205" width="3" height="37" fill="#00ff00"/>
<rect x="919" y="236" width="1" height="31" fill="#00ff00"/>
<rect x="918" y="240" width="3" height="26" fill="#00ff00"/>
<rect x="923" y="242" width="1" height="26" fill="#ff0000"/>
<rect x="922" y="255" width="3" height="10" fill="#ff0000"/>
<rect x="927" y="239" width="1" height="18" fill="#ff0000"/>
<rect x="926" y="245" width="3" height="12" fill="#ff0000"/>
<rect x="931" y="218" width="1" height="34" fill="#ff0000"/>
<rect x="930" y="226" width="3" height="20" fill="#ff0000"/>
<rect x="935" y="224" width="1" height="11" fill="#00ff00"/>
<rect x="934" y="225" width="3" height="9" fill="#00ff00"/>
<rect x="939" y="229" width="1" height="12" fill="#00ff00"/>
<rect x="938" y="234" width="3" height="7" fill="#00ff00"/>
<rect x="943" y="235" width="1" height="55" fill="#00ff00"/>
<rect x="942" y="240" width="3" height="41" fill="#00ff00"/>
<rect x="947" y="279" width="1" height="27" fill="#00ff00"/>
<rect x="946" y="280" width="3" height="10" fill="#00ff00"/>
<rect x="951" y="286" width="1" height="19" fill="#00ff00"/>
<rect x="950" y="289" width="3" height="8" fill="#00ff00"/>
<rect x="955" y="279" width="1" height="31" fill="#ff0000"/>
<rect x="954" y="283" width="3" height="13" fill="#ff0000"/>
<rect x="959" y="277" width="1" height="16" fill="#00ff00"/>
<rect x="958" y="284" width="3" height="7" fill="#00ff00"/>
<rect x="963" y="289" width="1" height="53" fill="#00ff00"/>
<rect x="962" y="291" width="3" height="50" fill="#00ff00"/>
<rect x="967" y="338" width="1" height="36" fill="#00ff00"/>
<rect x="966" y="339" width="3" height="25" fill="#00ff00"/>
<rect x="971" y="347" width="1" height="27" fill="#00ff00"/>
<rect x="970" y="363" width="3" height="8" fill="#00ff00"/>
<rect x="975" y="356" width="1" height="21" fill="#ff0000"/>
<rect x="974" y="364" width="3" height="8" fill="#ff0000"/>
<rect x="979" y="362" width="1" height="36" fill="#00ff00"/>
<rect x="978" y="364" width="3" height="25" fill="#00ff00"/>
<rect x="983" y="381" width="1" height="11" fill="#ff0000"/>
<rect x="982" y="385" width="3" height="5" fill="#ff0000"/>
<rect x="987" y="384" width="1" height="19" fill="#00ff00"/>
<rect x="986" y="391" width="3" height="10" fill="#00ff00"/>
<rect x="991" y="371" width="1" height="36" fill="#ff0000"/>
<rect x="990" y="386" width="3" height="15" fill="#ff0000"/>
<rect x="995" y="384" width="1" height="16" fill="#00ff00"/>
<rect x="994" y="385" width="3" height="13" fill="#00ff00"/>
<rect x="999" y="346" width="1" height="72" fill="#ff0000"/>
<rect x="998" y="349" width="3" height="49" fill="#ff0000"/>
<rect x="1003" y="322" width="1" height="39" fill="#ff0000"/>
<rect x="1002" y="343" width="3" height="10" fill="#ff0000"/>
<rect x="1007" y="327" width="1" height="19" fill="#ff0000"/>
<rect x="1006" y="336" width="3" height="9" fill="#ff0000"/>
<rect x="1011" y="316" width="1" height="31" fill="#00ff00"/>
<rect x="1010" y="333" width="3" height="4" fill="#00ff00"/>
<rect x="1015" y="334" width="1" height="33" fill="#00ff00"/>
<rect x="1014" y="335" width="3" height="14" fill="#00ff00"/>
<rect x="1019" y="342" width="1" height="24" fill="#ff0000"/>
<rect x="1018" y="348" width="3" height="3" fill="#ff0000"/>
<rect x="1023" y="338" width="1" height="25" fill="#ff0000"/>
<rect x="1022" y="343" width="3" height="7" fill="#ff0000"/>
<rect x="1027" y="335" width="1" height="21" fill="#ff0000"/>
<rect x="1026" y="339" width="3" height="4" fill="#ff0000"/>
<rect x="1031" y="335" width="1" height="10" fill="#ff0000"/>
<rect x="1030" y="339" width="3" height="2" fill="#ff0000"/>
<rect x="1035" y="333" width="1" height="27" fill="#00ff00"/>
<rect x="1034" y="336" width="3" height="21" fill="#00ff00"/>
<rect x="1039" y="349" width="1" height="24" fill="#00ff00"/>
<rect x="1038" y="353" width="3" height="13" fill="#00ff00"/>
<rect x="1043" y="339" width="1" height="27" fill="#ff0000"/>
<rect x="1042" y="340" width="3" height="26" fill="#ff0000"/>
<rect x="1047" y="321" width="1" height="24" fill="#ff0000"/>
<rect x="1046" y="323" width="3" height="18" fill="#ff0000"/>
<rect x="1051" y="308" width="1" height="25" fill="#ff0000"/>
<rect x="1050" y="314" width="3" height="11" fill="#ff0000"/>
<rect x="1055" y="312" width="1" height="16" fill="#00ff00"/>
<rect x="1054" y="314" width="3" height="12" fill="#00ff00"/>
<rect x="1059" y="311" width="1" height="17" fill="#ff0000"/>
<rect x="1058" y="316" width="3" height="4" fill="#ff0000"/>
<rect x="1063" y="313" width="1" height="30" fill="#00ff00"/>
<rect x="1062" y="316" width="3" height="27" fill="#00ff00"/>
<rect x="1067" y="335" width="1" height="22" fill="#00ff00"/>
<rect x="1066" y="336" width="3" height="11" fill="#00ff00"/>
<rect x="1071" y="334" width="1" height="18" fill="#ff0000"/>
<rect x="1070" y="342" width="3" height="5" fill="#ff0000"/>
<rect x="1075" y="340" width="1" height="14" fill="#00ff00"/>
<rect x="1074" y="342" width="3" height="8" fill="#00ff00"/>
<rect x="1079" y="345" width="1" height="6" fill="#ff0000"/>
<rect x="1078" y="348" width="3" height="1" fill="#ff0000"/>
<rect x="1083" y="352" width="1" height="11" fill="#00ff00"/>
<rect x="1082" y="352" width="3" height="5" fill="#00ff00"/>
<rect x="1087" y="340" width="1" height="22" fill="#ff0000"/>
<rect x="1086" y="343" width="3" height="12" fill="#ff0000"/>
<rect x="1091" y="333" width="1" height="27" fill="#00ff00"/>
<rect x="1090" y="343" width="3" height="14" fill="#00ff00"/>
<rect x="1095" y="344" width="1" height="28" fill="#ff0000"/>
<rect x="1094" y="346" width="3" height="11" fill="#ff0000"/>
<rect x="1099" y="331" width="1" height="18" fill="#ff0000"/>
<rect x="1098" y="342" width="3" height="6" fill="#ff0000"/>
<rect x="1103" y="333" width="1" height="12" fill="#00ff00"/>
<rect x="1102" y="341" width="3" height="3" fill="#00ff00"/>
<rect x="1107" y="339" width="1" height="20" fill="#00ff00"/>
<rect x="1106" y="346" width="3" height="3" fill="#00ff00"/>
<rect x="1111" y="327" width="1" height="26" fill="#ff0000"/>
<rect x="1110" y="338" width="3" height="12" fill="#ff0000"/>
<rect x="1115" y="333" width="1" height="31" fill="#00ff00"/>
<rect x="1114" y="338" width="3" height="25" fill="#00ff00"/>
<rect x="1119" y="355" width="1" height="14" fill="#ff0000"/>
<rect x="1118" y="356" width="3" height="7" fill="#ff0000"/>
<rect x="1123" y="344" width="1" height="17" fill="#ff0000"/>
<rect x="1122" y="348" width="3" height="9" fill="#ff0000"/>
<rect x="1127" y="346" width="1" height="3" fill="#ff0000"/>
<rect x="1126" y="346" width="3" height="3" fill="#ff0000"/>
<rect x="1131" y="340" width="1" height="21" fill="#00ff00"/>
<rect x="1130" y="346" width="3" height="15" fill="#00ff00"/>
<rect x="1135" y="356" width="1" height="31" fill="#00ff00"/>
<rect x="1134" y="360" width="3" height="24" fill="#00ff00"/>
<rect x="1139" y="372" width="1" height="23" fill="#00ff00"/>
<rect x="1138" y="382" width="3" height="12" fill="#00ff00"/>
<rect x="1143" y="387" width="1" height="19" fill="#00ff00"/>
<rect x="1142" y="392" width="3" height="13" fill="#00ff00"/>
<rect x="1147" y="383" width="1" height="27" fill="#ff0000"/>
<rect x="1146" y="387" width="3" height="17" fill="#ff0000"/>
<rect x="1151" y="384" width="1" height="7" fill="#00ff00"/>
<rect x="1150" y="387" width="3" height="4" fill="#00ff00"/>
<rect x="1155" y="386" width="1" height="20" fill="#00ff00"/>
<rect x="1154" y="390" width="3" height="10" fill="#00ff00"/>
<rect x="1159" y="392" width="1" height="23" fill="#00ff00"/>
<rect x="1158" y="399" width="3" height="7" fill="#00ff00"/>
<rect x="1163" y="398" width="1" height="15" fill="#ff0000"/>
<rect x="1162" y="403" width="3" height="3" fill="#ff0000"/>
<rect x="1167" y="380" width="1" height="35" fill="#ff0000"/>
<rect x="1166" y="383" width="3" height="20" fill="#ff0000"/>
<rect x="1171" y="380" width="1" height="24" fill="#00ff00"/>
<rect x="1170" y="383" width="3" height="18" fill="#00ff00"/>
<rect x="1175" y="390" width="1" height="13" fill="#00ff00"/>
<rect x="1174" y="398" width="3" height="3" fill="#00ff00"/>
<rect x="1179" y="380" width="1" height="19" fill="#ff0000"/>
<rect x="1178" y="392" width="3" height="4" fill="#ff0000"/>
<rect x="1183" y="390" width="1" height="20" fill="#00ff00"/>
<rect x="1182" y="392" width="3" height="14" fill="#00ff00"/>
<rect x="1187" y="403" width="1" height="39" fill="#00ff00"/>
<rect x="1186" y="404" width="3" height="32" fill="#00ff00"/>
<rect x="1191" y="415" width="1" height="24" fill="#ff0000"/>
<rect x="1190" y="425" width="3" height="11" fill="#ff0000"/>
<rect x="1195" y="395" width="1" height="36" fill="#ff0000"/>
<rect x="1194" y="396" width="3" height="31" fill="#ff0000"/>
<rect x="1199" y="395" width="1" height="6" fill="#00ff00"/>
<rect x="1198" y="396" width="3" height="5" fill="#00ff00"/>
<rect x="1203" y="396" width="1" height="17" fill="#00ff00"/>
<rect x="1202" y="398" width="3" height="11" fill="#00ff00"/>
<rect x="1207" y="405" width="1" height="27" fill="#00ff00"/>
<rect x="1206" y="408" width="3" height="17" fill="#00ff00"/>
<rect x="1211" y="409" width="1" height="34" fill="#00ff00"/>
<rect x="1210" y="411" width="3" height="25" fill="#00ff00"/>
<rect x="1215" y="432" width="1" height="21" fill="#00ff00"/>
<rect x="1214" y="435" width="3" height="12" fill="#00ff00"/>
<rect x="1219" y="430" width="1" height="19" fill="#ff0000"/>
<rect x="1218" y="435" width="3" height="11" fill="#ff0000"/>
<rect x="1223" y="433" width="1" height="6" fill="#ff0000"/>
<rect x="1222" y="434" width="3" height="3" fill="#ff0000"/>
<rect x="1227" y="432" width="1" height="19" fill="#00ff00"/>
<rect x="1226" y="433" width="3" height="17" fill="#00ff00"/>
<rect x="1231" y="440" width="1" height="23" fill="#00ff00"/>
<rect x="1230" y="448" width="3" height="8" fill="#00ff00"/>
<rect x="1235" y="451" width="1" height="18" fill="#00ff00"/>
<rect x="1234" y="454" width="3" height="4" fill="#00ff00"/>
<rect x="1239" y="437" width="1" height="22" fill="#ff0000"/>
<rect x="1238" y="455" width="3" height="3" fill="#ff0000"/>
<rect x="1243" y="440" width="1" height="22" fill="#ff0000"/>
<rect x="1242" y="449" width="3" height="8" fill="#ff0000"/>
<rect x="1247" y="446" width="1" height="8" fill="#00ff00"/>
<rect x="1246" y="448" width="3" height="6" fill="#00ff00"/>
<rect x="1251" y="442" width="1" height="27" fill="#ff0000"/>
<rect x="1250" y="444" width="3" height="13" fill="#ff0000"/>
<rect x="1255" y="438" width="1" height="19" fill="#00ff00"/>
<rect x="1254" y="443" width="3" height="9" fill="#00ff00"/>
<rect x="1259" y="447" width="1" height="21" fill="#00ff00"/>
<rect x="1258" y="451" width="3" height="16" fill="#00ff00"/>
<rect x="1263" y="458" width="1" height="19" fill="#00ff00"/>
<rect x="1262" y="464" width="3" height="11" fill="#00ff00"/>
<rect x="1267" y="466" width="1" height="11" fill="#ff0000"/>
<rect x="1266" y="470" width="3" height="5" fill="#ff0000"/>
<path d="M817 189h7v1h-7zM813 190h4v1h-4zM824 190h1v1h-1zM807 191h6v1h-6zM825 191h1v1h-1zM805 192h2v1h-2zM826 192h1v1h-1zM804 193h1v1h-1zM827 193h1v1h-1zM803 194h1v1h-1zM828 194h1v1h-1zM801 195h2v1h-2zM829 195h1v1h-1zM800 196h1v1h-1zM830 196h1v1h-1zM797 197h3v1h-3zM831 197h1v1h-1zM795 198h2v1h-2zM832 198h2v1h-2zM794 199h1v1h-1zM834 199h2v1h-2zM793 200h1v1h-1zM836 200h1v1h-1zM792 201h1v1h-1zM837 201h2v1h-2zM791 202h1v1h-1zM839 202h1v1h-1zM790 203h1v1h-1zM840 203h1v1h-1zM789 204h1v1h-1zM841 204h1v1h-1zM789 205h1v1h-1zM841 205h1v1h-1zM788 206h1v1h-1zM842 206h1v1h-1zM787 207h1v1h-1zM843 207h1v1h-1zM786 208h1v1h-1zM844 208h1v1h-1zM785 209h1v1h-1zM845 209h1v1h-1zM785 210h1v1h-1zM846 210h1v1h-1zM784 211h1v1h-1zM847 211h1v1h-1zM783 212h1v1h-1zM848 212h1v1h-1zM782 213h1v1h-1zM849 213h1v1h-1zM781 214h1v1h-1zM850 214h1v1h-1zM862 214h3v1h-3zM781 215h1v1h-1zM851 215h2v1h-2zM860 215h2v1h-2zM865 215h4v1h-4zM780 216h1v1h-1zM853 216h7v1h-7zM869 216h4v1h-4zM779 217h1v1h-1zM873 217h4v1h-4zM778 218h1v1h-1zM877 218h3v1h-3zM778 219h1v1h-1zM880 219h2v1h-2zM909 219h11v1h-11zM777 220h1v1h-1zM882 220h2v1h-2zM905 220h4v1h-4zM920 220h2v1h-2zM776 221h1v1h-1zM884 221h2v1h-2zM901 221h4v1h-4zM922 221h3v1h-3zM776 222h1v1h-1zM886 222h3v1h-3zM897 222h4v1h-4zM925 222h4v1h-4zM775 223h1v1h-1zM889 223h8v1h-8zM929 223h8v1h-8zM774 224h1v1h-1zM937 224h3v1h-3zM774 225h1v1h-1zM940 225h1v1h-1zM773 226h1v1h-1zM941 226h2v1h-2zM772 227h1v1h-1zM943 227h1v1h-1zM772 228h1v1h-1zM944 228h1v1h-1zM771 229h1v1h-1zM945 229h2v1h-2zM770 230h1v1h-1zM947 230h1v1h-1zM770 231h1v1h-1zM948 231h1v1h-1zM769 232h1v1h-1zM949 232h2v1h-2zM768 233h1v1h-1zM951 233h1v1h-1zM768 234h1v1h-1zM952 234h2v1h-2zM767 235h1v1h-1zM954 235h2v1h-2zM766 236h1v1h-1zM956 236h1v1h-1zM766 237h1v1h-1zM957 237h2v1h-2zM765 238h1v1h-1zM959 238h1v1h-1zM765 239h1v1h-1zM960 239h1v1h-1zM764 240h1v1h-1zM961 240h1v1h-1zM764 241h1v1h-1zM962 241h1v1h-1zM763 242h1v1h-1zM963 242h1v1h-1zM762 243h1v1h-1zM964 243h1v1h-1zM762 244h1v1h-1zM965 244h1v1h-1zM761 245h1v1h-1zM965 245h1v1h-1zM761 246h1v1h-1zM966 246h1v1h-1zM760 247h1v1h-1zM967 247h1v1h-1zM760 248h1v1h-1zM968 248h1v1h-1zM759 249h1v1h-1zM969 249h1v1h-1zM758 250h1v1h-1zM970 250h1v1h-1zM758 251h1v1h-1zM971 251h1v1h-1zM757 252h1v1h-1zM972 252h1v1h-1zM757 253h1v1h-1zM973 253h2v1h-2zM756 254h1v1h-1zM975 254h1v1h-1zM756 255h1v1h-1zM976 255h1v1h-1zM755 256h1v1h-1zM976 256h1v1h-1zM755 257h1v1h-1zM977 257h1v1h-1zM754 258h1v1h-1zM977 258h1v1h-1zM754 259h1v1h-1zM978 259h1v1h-1zM753 260h1v1h-1zM978 260h1v1h-1zM753 261h1v1h-1zM979 261h1v1h-1zM752 262h1v1h-1zM980 262h1v1h-1zM752 263h1v1h-1zM981 263h1v1h-1zM751 264h1v1h-1zM981 264h1v1h-1zM751 265h1v1h-1zM982 265h1v1h-1zM750 266h1v1h-1zM983 266h1v1h-1zM750 267h1v1h-1zM984 267h1v1h-1zM749 268h1v1h-1zM984 268h1v1h-1zM749 269h1v1h-1zM985 269h1v1h-1zM748 270h1v1h-1zM985 270h1v1h-1zM748 271h1v1h-1zM986 271h1v1h-1zM747 272h1v1h-1zM986 272h1v1h-1zM747 273h1v1h-1zM987 273h1v1h-1zM746 274h1v1h-1zM988 274h1v1h-1zM746 275h1v1h-1zM989 275h1v1h-1zM745 276h1v1h-1zM989 276h1v1h-1zM745 277h1v1h-1zM990 277h1v1h-1zM744 278h1v1h-1zM991 278h1v1h-1zM744 279h1v1h-1zM992 279h1v1h-1zM743 280h1v1h-1zM992 280h1v1h-1zM742 281h1v1h-1zM993 281h1v1h-1zM742 282h1v1h-1zM993 282h1v1h-1zM741 283h1v1h-1zM994 283h1v1h-1zM741 284h1v1h-1zM994 284h1v1h-1zM740 285h1v1h-1zM995 285h1v1h-1zM740 286h1v1h-1zM996 286h1v1h-1zM739 287h1v1h-1zM997 287h1v1h-1zM739 288h1v1h-1zM998 288h1v1h-1zM738 289h1v1h-1zM999 289h1v1h-1zM738 290h1v1h-1zM1000 290h1v1h-1zM737 291h1v1h-1zM1001 291h2v1h-2zM737 292h1v1h-1zM1003 292h1v1h-1zM736 293h1v1h-1zM1004 293h1v1h-1zM736 294h1v1h-1zM1005 294h2v1h-2zM735 295h1v1h-1zM1007 295h1v1h-1zM734 296h1v1h-1zM1008 296h1v1h-1zM734 297h1v1h-1zM1009 297h2v1h-2zM733 298h1v1h-1zM1011 298h1v1h-1zM733 299h1v1h-1zM1012 299h1v1h-1zM732 300h1v1h-1zM1013 300h1v1h-1zM732 301h1v1h-1zM1014 301h1v1h-1zM731 302h1v1h-1zM1015 302h1v1h-1zM731 303h1v1h-1zM1016 303h1v1h-1zM730 304h1v1h-1zM1017 304h1v1h-1zM730 305h1v1h-1zM1017 305h1v1h-1zM729 306h1v1h-1zM1018 306h1v1h-1zM729 307h1v1h-1zM1019 307h1v1h-1zM729 308h1v1h-1zM1020 308h1v1h-1zM728 309h1v1h-1zM1021 309h1v1h-1zM728 310h1v1h-1zM1021 310h1v1h-1zM727 311h1v1h-1zM1022 311h1v1h-1zM727 312h1v1h-1zM1023 312h1v1h-1zM727 313h1v1h-1zM1024 313h1v1h-1zM726 314h1v1h-1zM1025 314h1v1h-1zM726 315h1v1h-1zM1026 315h1v1h-1zM726 316h1v1h-1zM1027 316h1v1h-1zM725 317h1v1h-1zM1028 317h1v1h-1zM725 318h1v1h-1zM1029 318h1v1h-1zM724 319h1v1h-1zM1029 319h1v1h-1zM724 320h1v1h-1zM1030 320h1v1h-1zM724 321h1v1h-1zM1031 321h1v1h-1zM723 322h1v1h-1zM1032 322h1v1h-1zM723 323h1v1h-1zM1033 323h2v1h-2zM723 324h1v1h-1zM1035 324h1v1h-1zM722 325h1v1h-1zM1036 325h1v1h-1zM722 326h1v1h-1zM1037 326h1v1h-1zM722 327h1v1h-1zM1038 327h1v1h-1zM721 328h1v1h-1zM1039 328h1v1h-1zM721 329h1v1h-1zM1040 329h1v1h-1zM721 330h1v1h-1zM1041 330h2v1h-2zM720 331h1v1h-1zM1043 331h1v1h-1zM720 332h1v1h-1zM1044 332h2v1h-2zM720 333h1v1h-1zM1046 333h2v1h-2zM719 334h1v1h-1zM1048 334h1v1h-1zM719 335h1v1h-1zM1049 335h2v1h-2zM719 336h1v1h-1zM1051 336h1v1h-1zM718 337h1v1h-1zM1052 337h1v1h-1zM718 338h1v1h-1zM1053 338h2v1h-2zM718 339h1v1h-1zM1055 339h1v1h-1zM717 340h1v1h-1zM1056 340h1v1h-1zM717 341h1v1h-1zM1057 341h2v1h-2zM716 342h1v1h-1zM1059 342h1v1h-1zM716 343h1v1h-1zM1060 343h2v1h-2zM1113 343h16v1h-16zM716 344h1v1h-1zM1062 344h2v1h-2zM1110 344h3v1h-3zM1129 344h4v1h-4zM715 345h1v1h-1zM1064 345h2v1h-2zM1108 345h2v1h-2zM1133 345h3v1h-3zM715 346h1v1h-1zM1066 346h3v1h-3zM1105 346h3v1h-3zM1136 346h2v1h-2zM715 347h1v1h-1zM1069 347h3v1h-3zM1102 347h3v1h-3zM1138 347h2v1h-2zM714 348h1v1h-1zM1072 348h2v1h-2zM1100 348h2v1h-2zM1140 348h2v1h-2zM714 349h1v1h-1zM1074 349h2v1h-2zM1097 349h3v1h-3zM1142 349h2v1h-2zM713 350h1v1h-1zM1076 350h2v1h-2zM1093 350h4v1h-4zM1144 350h2v1h-2zM713 351h1v1h-1zM1078 351h3v1h-3zM1085 351h8v1h-8zM1146 351h3v1h-3zM713 352h1v1h-1zM1081 352h4v1h-4zM1149 352h3v1h-3zM712 353h1v1h-1zM1152 353h2v1h-2zM712 354h1v1h-1zM1154 354h3v1h-3zM711 355h1v1h-1zM1157 355h3v1h-3zM711 356h1v1h-1zM1160 356h2v1h-2zM711 357h1v1h-1zM1162 357h2v1h-2zM710 358h1v1h-1zM1164 358h2v1h-2zM710 359h1v1h-1zM1166 359h2v1h-2zM710 360h1v1h-1zM1168 360h1v1h-1zM709 361h1v1h-1zM1169 361h2v1h-2zM709 362h1v1h-1zM1171 362h1v1h-1zM708 363h1v1h-1zM1172 363h1v1h-1zM708 364h1v1h-1zM1173 364h2v1h-2zM708 365h1v1h-1zM1175 365h1v1h-1zM707 366h1v1h-1zM1176 366h2v1h-2zM707 367h1v1h-1zM1178 367h2v1h-2zM707 368h1v1h-1zM1180 368h2v1h-2zM706 369h1v1h-1zM1182 369h2v1h-2zM706 370h1v1h-1zM1184 370h1v1h-1zM706 371h1v1h-1zM1185 371h2v1h-2zM705 372h1v1h-1zM1187 372h1v1h-1zM705 373h1v1h-1zM1188 373h1v1h-1zM704 374h1v1h-1zM1189 374h2v1h-2zM704 375h1v1h-1zM1191 375h2v1h-2zM704 376h1v1h-1zM1193 376h3v1h-3zM703 377h1v1h-1zM1196 377h2v1h-2zM703 378h1v1h-1zM1198 378h2v1h-2zM703 379h1v1h-1zM1200 379h2v1h-2zM702 380h1v1h-1zM1202 380h2v1h-2zM702 381h1v1h-1zM1204 381h1v1h-1zM701 382h1v1h-1zM1205 382h2v1h-2zM701 383h1v1h-1zM1207 383h1v1h-1zM700 384h1v1h-1zM1208 384h2v1h-2zM700 385h1v1h-1zM1210 385h2v1h-2zM699 386h1v1h-1zM1212 386h1v1h-1zM698 387h1v1h-1zM1213 387h1v1h-1zM698 388h1v1h-1zM1214 388h1v1h-1zM697 389h1v1h-1zM1215 389h1v1h-1zM696 390h1v1h-1zM1216 390h1v1h-1zM696 391h1v1h-1zM1217 391h2v1h-2zM695 392h1v1h-1zM1219 392h1v1h-1zM694 393h1v1h-1zM1220 393h1v1h-1zM694 394h1v1h-1zM1221 394h2v1h-2zM693 395h1v1h-1zM1223 395h1v1h-1zM692 396h1v1h-1zM1224 396h1v1h-1zM692 397h1v1h-1zM1225 397h2v1h-2zM691 398h1v1h-1zM1227 398h1v1h-1zM690 399h1v1h-1zM1228 399h1v1h-1zM690 400h1v1h-1zM1229 400h1v1h-1zM689 401h1v1h-1zM1230 401h1v1h-1zM688 402h1v1h-1zM1231 402h1v1h-1zM688 403h1v1h-1zM1232 403h1v1h-1zM687 404h1v1h-1zM1233 404h2v1h-2zM686 405h1v1h-1zM1235 405h1v1h-1zM686 406h1v1h-1zM1236 406h1v1h-1zM685 407h1v1h-1zM1237 407h2v1h-2zM684 408h1v1h-1zM1239 408h1v1h-1zM684 409h1v1h-1zM1240 409h1v1h-1zM683 410h1v1h-1zM1241 410h1v1h-1zM682 411h1v1h-1zM1242 411h1v1h-1zM681 412h1v1h-1zM1243 412h1v1h-1zM680 413h1v1h-1zM1244 413h1v1h-1zM679 414h1v1h-1zM1245 414h2v1h-2zM678 415h1v1h-1zM1247 415h1v1h-1zM677 416h1v1h-1zM1248 416h1v1h-1zM676 417h1v1h-1zM1249 417h2v1h-2zM674 418h2v1h-2zM1251 418h1v1h-1zM672 419h2v1h-2zM1252 419h2v1h-2zM670 420h2v1h-2zM1254 420h2v1h-2zM668 421h2v1h-2zM1256 421h1v1h-1zM666 422h2v1h-2zM1257 422h2v1h-2zM664 423h2v1h-2zM1259 423h1v1h-1zM662 424h2v1h-2zM1260 424h2v1h-2zM660 425h2v1h-2zM1262 425h2v1h-2zM657 426h3v1h-3zM1264 426h1v1h-1zM654 427h3v1h-3zM1265 427h2v1h-2zM652 428h2v1h-2zM1267 428h1v1h-1zM33 429h12v1h-12zM650 429h2v1h-2zM29 430h4v1h-4zM45 430h8v1h-8zM648 430h2v1h-2zM26 431h3v1h-3zM53 431h4v1h-4zM69 431h16v1h-16zM646 431h2v1h-2zM24 432h2v1h-2zM57 432h12v1h-12zM85 432h16v1h-16zM169 432h12v1h-12zM644 432h2v1h-2zM21 433h3v1h-3zM101 433h12v1h-12zM157 433h12v1h-12zM181 433h4v1h-4zM642 433h2v1h-2zM17 434h4v1h-4zM113 434h12v1h-12zM133 434h24v1h-24zM185 434h4v1h-4zM640 434h2v1h-2zM14 435h3v1h-3zM125 435h8v1h-8zM189 435h3v1h-3zM369 435h12v1h-12zM638 435h2v1h-2zM12 436h2v1h-2zM192 436h2v1h-2zM361 436h8v1h-8zM381 436h8v1h-8zM636 436h2v1h-2zM9 437h3v1h-3zM194 437h3v1h-3zM357 437h4v1h-4zM389 437h4v1h-4zM634 437h2v1h-2zM5 438h4v1h-4zM197 438h3v1h-3zM353 438h4v1h-4zM393 438h4v1h-4zM632 438h2v1h-2zM3 439h2v1h-2zM200 439h2v1h-2zM345 439h8v1h-8zM397 439h4v1h-4zM630 439h2v1h-2zM202 440h3v1h-3zM342 440h3v1h-3zM401 440h8v1h-8zM628 440h2v1h-2zM205 441h3v1h-3zM340 441h2v1h-2zM409 441h8v1h-8zM626 441h2v1h-2zM208 442h2v1h-2zM338 442h2v1h-2zM417 442h3v1h-3zM624 442h2v1h-2zM210 443h2v1h-2zM336 443h2v1h-2zM420 443h2v1h-2zM621 443h3v1h-3zM212 444h2v1h-2zM334 444h2v1h-2zM422 444h2v1h-2zM618 444h3v1h-3zM214 445h2v1h-2zM332 445h2v1h-2zM424 445h2v1h-2zM616 445h2v1h-2zM216 446h2v1h-2zM330 446h2v1h-2zM426 446h2v1h-2zM613 446h3v1h-3zM218 447h2v1h-2zM328 447h2v1h-2zM428 447h2v1h-2zM610 447h3v1h-3zM220 448h2v1h-2zM326 448h2v1h-2zM430 448h2v1h-2zM608 448h2v1h-2zM222 449h3v1h-3zM324 449h2v1h-2zM432 449h2v1h-2zM606 449h2v1h-2zM225 450h4v1h-4zM321 450h3v1h-3zM434 450h2v1h-2zM604 450h2v1h-2zM229 451h4v1h-4zM318 451h3v1h-3zM436 451h1v1h-1zM602 451h2v1h-2zM233 452h4v1h-4zM316 452h2v1h-2zM437 452h2v1h-2zM600 452h2v1h-2zM237 453h4v1h-4zM314 453h2v1h-2zM439 453h1v1h-1zM597 453h3v1h-3zM241 454h7v1h-7zM312 454h2v1h-2zM440 454h1v1h-1zM594 454h3v1h-3zM248 455h2v1h-2zM310 455h2v1h-2zM441 455h2v1h-2zM592 455h2v1h-2zM250 456h3v1h-3zM308 456h2v1h-2zM443 456h1v1h-1zM590 456h2v1h-2zM253 457h4v1h-4zM305 457h3v1h-3zM444 457h1v1h-1zM588 457h2v1h-2zM257 458h4v1h-4zM301 458h4v1h-4zM445 458h2v1h-2zM586 458h2v1h-2zM261 459h4v1h-4zM297 459h4v1h-4zM447 459h1v1h-1zM584 459h2v1h-2zM265 460h4v1h-4zM293 460h4v1h-4zM448 460h2v1h-2zM582 460h2v1h-2zM269 461h24v1h-24zM450 461h2v1h-2zM580 461h2v1h-2zM452 462h1v1h-1zM579 462h1v1h-1zM453 463h2v1h-2zM577 463h2v1h-2zM455 464h1v1h-1zM576 464h1v1h-1zM456 465h1v1h-1zM575 465h1v1h-1zM457 466h2v1h-2zM573 466h2v1h-2zM459 467h1v1h-1zM572 467h1v1h-1zM460 468h2v1h-2zM571 468h1v1h-1zM462 469h2v1h-2zM569 469h2v1h-2zM464 470h2v1h-2zM568 470h1v1h-1zM466 471h3v1h-3zM567 471h1v1h-1zM469 472h3v1h-3zM565 472h2v1h-2zM472 473h2v1h-2zM564 473h1v1h-1zM474 474h2v1h-2zM563 474h1v1h-1zM476 475h2v1h-2zM561 475h2v1h-2zM478 476h3v1h-3zM560 476h1v1h-1zM481 477h3v1h-3zM559 477h1v1h-1zM484 478h2v1h-2zM557 478h2v1h-2zM486 479h3v1h-3zM556 479h1v1h-1zM489 480h3v1h-3zM554 480h2v1h-2zM492 481h2v1h-2zM552 481h2v1h-2zM494 482h3v1h-3zM549 482h3v1h-3zM497 483h4v1h-4zM545 483h4v1h-4zM501 484h4v1h-4zM541 484h4v1h-4zM505 485h4v1h-4zM517 485h4v1h-4zM537 485h4v1h-4zM509 486h8v1h-8zM521 486h16v1h-16z" fill="#0000c8"/>
<path d="M755 155h2v1h-2zM754 156h1v1h-1zM757 156h3v1h-3zM753 157h1v1h-1zM760 157h1v1h-1zM753 158h1v1h-1zM760 158h1v1h-1zM752 159h1v1h-1zM761 159h1v1h-1zM751 160h1v1h-1zM761 160h1v1h-1zM750 161h1v1h-1zM762 161h1v1h-1zM749 162h1v1h-1zM762 162h1v1h-1zM748 163h1v1h-1zM763 163h1v1h-1zM747 164h1v1h-1zM763 164h1v1h-1zM745 165h2v1h-2zM764 165h1v1h-1zM744 166h1v1h-1zM764 166h1v1h-1zM741 167h3v1h-3zM765 167h1v1h-1zM739 168h2v1h-2zM766 168h1v1h-1zM738 169h1v1h-1zM766 169h1v1h-1zM738 170h1v1h-1zM767 170h1v1h-1zM737 171h1v1h-1zM768 171h1v1h-1zM737 172h1v1h-1zM769 172h1v1h-1zM736 173h1v1h-1zM770 173h1v1h-1zM736 174h1v1h-1zM771 174h1v1h-1zM735 175h1v1h-1zM771 175h1v1h-1zM734 176h1v1h-1zM772 176h1v1h-1zM733 177h1v1h-1zM772 177h1v1h-1zM733 178h1v1h-1zM773 178h1v1h-1zM732 179h1v1h-1zM773 179h1v1h-1zM731 180h1v1h-1zM774 180h1v1h-1zM731 181h1v1h-1zM774 181h1v1h-1zM731 182h1v1h-1zM775 182h1v1h-1zM730 183h1v1h-1zM775 183h1v1h-1zM730 184h1v1h-1zM775 184h1v1h-1zM730 185h1v1h-1zM776 185h1v1h-1zM730 186h1v1h-1zM776 186h1v1h-1zM729 187h1v1h-1zM777 187h1v1h-1zM729 188h1v1h-1zM777 188h1v1h-1zM729 189h1v1h-1zM777 189h1v1h-1zM729 190h1v1h-1zM778 190h1v1h-1zM728 191h1v1h-1zM778 191h1v1h-1zM728 192h1v1h-1zM779 192h1v1h-1zM728 193h1v1h-1zM779 193h1v1h-1zM728 194h1v1h-1zM779 194h1v1h-1zM727 195h1v1h-1zM780 195h1v1h-1zM727 196h1v1h-1zM780 196h1v1h-1zM727 197h1v1h-1zM781 197h1v1h-1zM727 198h1v1h-1zM781 198h1v1h-1zM726 199h1v1h-1zM781 199h1v1h-1zM726 200h1v1h-1zM782 200h1v1h-1zM726 201h1v1h-1zM782 201h1v1h-1zM726 202h1v1h-1zM783 202h1v1h-1zM726 203h1v1h-1zM783 203h1v1h-1zM725 204h1v1h-1zM784 204h1v1h-1zM725 205h1v1h-1zM784 205h1v1h-1zM725 206h1v1h-1zM785 206h1v1h-1zM725 207h1v1h-1zM785 207h1v1h-1zM725 208h1v1h-1zM786 208h1v1h-1zM725 209h1v1h-1zM786 209h1v1h-1zM724 210h1v1h-1zM787 210h1v1h-1zM724 211h1v1h-1zM788 211h2v1h-2zM724 212h1v1h-1zM790 212h2v1h-2zM724 213h1v1h-1zM792 213h2v1h-2zM724 214h1v1h-1zM794 214h3v1h-3zM845 214h4v1h-4zM873 214h3v1h-3zM723 215h1v1h-1zM797 215h4v1h-4zM842 215h3v1h-3zM849 215h12v1h-12zM865 215h8v1h-8zM876 215h1v1h-1zM723 216h1v1h-1zM801 216h7v1h-7zM840 216h2v1h-2zM861 216h4v1h-4zM877 216h1v1h-1zM723 217h1v1h-1zM808 217h1v1h-1zM838 217h2v1h-2zM878 217h1v1h-1zM723 218h1v1h-1zM809 218h1v1h-1zM836 218h2v1h-2zM879 218h1v1h-1zM911 218h1v1h-1zM723 219h1v1h-1zM810 219h1v1h-1zM834 219h2v1h-2zM880 219h1v1h-1zM910 219h1v1h-1zM912 219h1v1h-1zM722 220h1v1h-1zM811 220h1v1h-1zM832 220h2v1h-2zM881 220h1v1h-1zM909 220h1v1h-1zM913 220h2v1h-2zM722 221h1v1h-1zM812 221h2v1h-2zM829 221h3v1h-3zM882 221h1v1h-1zM908 221h1v1h-1zM915 221h1v1h-1zM722 222h1v1h-1zM814 222h3v1h-3zM821 222h8v1h-8zM883 222h1v1h-1zM907 222h1v1h-1zM916 222h1v1h-1zM722 223h1v1h-1zM817 223h4v1h-4zM884 223h2v1h-2zM905 223h2v1h-2zM917 223h1v1h-1zM722 224h1v1h-1zM886 224h2v1h-2zM904 224h1v1h-1zM918 224h1v1h-1zM721 225h1v1h-1zM888 225h2v1h-2zM902 225h2v1h-2zM919 225h1v1h-1zM721 226h1v1h-1zM890 226h2v1h-2zM900 226h2v1h-2zM920 226h1v1h-1zM721 227h1v1h-1zM892 227h2v1h-2zM897 227h3v1h-3zM921 227h2v1h-2zM721 228h1v1h-1zM894 228h3v1h-3zM923 228h1v1h-1zM721 229h1v1h-1zM924 229h2v1h-2zM721 230h1v1h-1zM926 230h2v1h-2zM937 230h3v1h-3zM720 231h1v1h-1zM928 231h2v1h-2zM933 231h4v1h-4zM940 231h1v1h-1zM720 232h1v1h-1zM930 232h3v1h-3zM941 232h2v1h-2zM720 233h1v1h-1zM943 233h1v1h-1zM720 234h1v1h-1zM944 234h1v1h-1zM720 235h1v1h-1zM945 235h1v1h-1zM719 236h1v1h-1zM946 236h1v1h-1zM719 237h1v1h-1zM947 237h1v1h-1zM719 238h1v1h-1zM948 238h1v1h-1zM719 239h1v1h-1zM949 239h1v1h-1zM719 240h1v1h-1zM949 240h1v1h-1zM718 241h1v1h-1zM950 241h1v1h-1zM718 242h1v1h-1zM951 242h1v1h-1zM718 243h1v1h-1zM952 243h1v1h-1zM718 244h1v1h-1zM952 244h1v1h-1zM718 245h1v1h-1zM953 245h1v1h-1zM717 246h1v1h-1zM954 246h1v1h-1zM717 247h1v1h-1zM954 247h1v1h-1zM717 248h1v1h-1zM955 248h1v1h-1zM717 249h1v1h-1zM956 249h1v1h-1zM717 250h1v1h-1zM956 250h1v1h-1zM716 251h1v1h-1zM957 251h1v1h-1zM716 252h1v1h-1zM958 252h1v1h-1zM716 253h1v1h-1zM958 253h1v1h-1zM716 254h1v1h-1zM959 254h1v1h-1zM716 255h1v1h-1zM959 255h1v1h-1zM715 256h1v1h-1zM960 256h1v1h-1zM715 257h1v1h-1zM960 257h1v1h-1zM715 258h1v1h-1zM961 258h1v1h-1zM715 259h1v1h-1zM961 259h1v1h-1zM715 260h1v1h-1zM962 260h1v1h-1zM714 261h1v1h-1zM962 261h1v1h-1zM714 262h1v1h-1zM963 262h1v1h-1zM714 263h1v1h-1zM963 263h1v1h-1zM714 264h1v1h-1zM963 264h1v1h-1zM714 265h1v1h-1zM964 265h1v1h-1zM713 266h1v1h-1zM964 266h1v1h-1zM713 267h1v1h-1zM964 267h1v1h-1zM713 268h1v1h-1zM965 268h1v1h-1zM713 269h1v1h-1zM965 269h1v1h-1zM712 270h1v1h-1zM965 270h1v1h-1zM712 271h1v1h-1zM966 271h1v1h-1zM712 272h1v1h-1zM966 272h1v1h-1zM712 273h1v1h-1zM966 273h1v1h-1zM712 274h1v1h-1zM967 274h1v1h-1zM711 275h1v1h-1zM967 275h1v1h-1zM711 276h1v1h-1zM967 276h1v1h-1zM711 277h1v1h-1zM968 277h1v1h-1zM711 278h1v1h-1zM968 278h1v1h-1zM711 279h1v1h-1zM969 279h1v1h-1zM710 280h1v1h-1zM969 280h1v1h-1zM710 281h1v1h-1zM970 281h1v1h-1zM710 282h1v1h-1zM970 282h1v1h-1zM710 283h1v1h-1zM971 283h1v1h-1zM710 284h1v1h-1zM971 284h1v1h-1zM710 285h1v1h-1zM972 285h1v1h-1zM709 286h1v1h-1zM972 286h1v1h-1zM709 287h1v1h-1zM973 287h1v1h-1zM709 288h1v1h-1zM973 288h1v1h-1zM709 289h1v1h-1zM974 289h1v1h-1zM709 290h1v1h-1zM974 290h1v1h-1zM708 291h1v1h-1zM975 291h1v1h-1zM708 292h1v1h-1zM975 292h1v1h-1zM708 293h1v1h-1zM976 293h1v1h-1zM708 294h1v1h-1zM976 294h1v1h-1zM708 295h1v1h-1zM977 295h1v1h-1zM708 296h1v1h-1zM977 296h1v1h-1zM707 297h1v1h-1zM978 297h1v1h-1zM707 298h1v1h-1zM978 298h1v1h-1zM707 299h1v1h-1zM979 299h1v1h-1zM707 300h1v1h-1zM979 300h1v1h-1zM707 301h1v1h-1zM979 301h1v1h-1zM706 302h1v1h-1zM980 302h1v1h-1zM706 303h1v1h-1zM980 303h1v1h-1zM706 304h1v1h-1zM981 304h1v1h-1zM706 305h1v1h-1zM981 305h1v1h-1zM706 306h1v1h-1zM981 306h1v1h-1zM706 307h1v1h-1zM982 307h1v1h-1zM705 308h1v1h-1zM982 308h1v1h-1zM705 309h1v1h-1zM983 309h1v1h-1zM705 310h1v1h-1zM983 310h1v1h-1zM705 311h1v1h-1zM983 311h1v1h-1zM705 312h1v1h-1zM984 312h1v1h-1zM704 313h1v1h-1zM984 313h1v1h-1zM704 314h1v1h-1zM984 314h1v1h-1zM704 315h1v1h-1zM985 315h1v1h-1zM704 316h1v1h-1zM985 316h1v1h-1zM704 317h1v1h-1zM985 317h1v1h-1zM704 318h1v1h-1zM985 318h1v1h-1zM703 319h1v1h-1zM986 319h1v1h-1zM703 320h1v1h-1zM986 320h1v1h-1zM703 321h1v1h-1zM986 321h1v1h-1zM703 322h1v1h-1zM987 322h1v1h-1zM703 323h1v1h-1zM987 323h1v1h-1zM702 324h1v1h-1zM987 324h1v1h-1zM702 325h1v1h-1zM988 325h1v1h-1zM702 326h1v1h-1zM988 326h1v1h-1zM702 327h1v1h-1zM988 327h1v1h-1zM701 328h1v1h-1zM989 328h1v1h-1zM701 329h1v1h-1zM989 329h1v1h-1zM701 330h1v1h-1zM990 330h1v1h-1zM701 331h1v1h-1zM990 331h1v1h-1zM700 332h1v1h-1zM990 332h1v1h-1zM700 333h1v1h-1zM991 333h1v1h-1zM700 334h1v1h-1zM991 334h1v1h-1zM700 335h1v1h-1zM991 335h1v1h-1zM699 336h1v1h-1zM992 336h1v1h-1zM699 337h1v1h-1zM992 337h1v1h-1zM699 338h1v1h-1zM992 338h1v1h-1zM1058 338h7v1h-7zM1069 338h4v1h-4zM698 339h1v1h-1zM993 339h1v1h-1zM1056 339h2v1h-2zM1065 339h4v1h-4zM1073 339h8v1h-8zM1093 339h7v1h-7zM698 340h1v1h-1zM993 340h1v1h-1zM1053 340h3v1h-3zM1081 340h12v1h-12zM1100 340h2v1h-2zM698 341h1v1h-1zM994 341h1v1h-1zM1051 341h2v1h-2zM1102 341h2v1h-2zM697 342h1v1h-1zM994 342h1v1h-1zM1050 342h1v1h-1zM1104 342h2v1h-2zM697 343h1v1h-1zM994 343h1v1h-1zM1050 343h1v1h-1zM1106 343h3v1h-3zM696 344h1v1h-1zM995 344h1v1h-1zM1049 344h1v1h-1zM1109 344h3v1h-3zM696 345h1v1h-1zM995 345h1v1h-1zM1048 345h1v1h-1zM1112 345h1v1h-1zM696 346h1v1h-1zM996 346h1v1h-1zM1048 346h1v1h-1zM1113 346h2v1h-2zM695 347h1v1h-1zM997 347h1v1h-1zM1047 347h1v1h-1zM1115 347h2v1h-2zM695 348h1v1h-1zM997 348h1v1h-1zM1046 348h1v1h-1zM1117 348h8v1h-8zM695 349h1v1h-1zM998 349h1v1h-1zM1045 349h1v1h-1zM1125 349h7v1h-7zM694 350h1v1h-1zM999 350h1v1h-1zM1045 350h1v1h-1zM1132 350h1v1h-1zM694 351h1v1h-1zM1000 351h1v1h-1zM1044 351h1v1h-1zM1133 351h2v1h-2zM694 352h1v1h-1zM1001 352h1v1h-1zM1043 352h1v1h-1zM1135 352h1v1h-1zM693 353h1v1h-1zM1002 353h1v1h-1zM1042 353h1v1h-1zM1136 353h1v1h-1zM693 354h1v1h-1zM1003 354h1v1h-1zM1041 354h1v1h-1zM1137 354h2v1h-2zM692 355h1v1h-1zM1004 355h1v1h-1zM1040 355h1v1h-1zM1139 355h1v1h-1zM692 356h1v1h-1zM1005 356h2v1h-2zM1038 356h2v1h-2zM1140 356h1v1h-1zM692 357h1v1h-1zM1007 357h1v1h-1zM1036 357h2v1h-2zM1141 357h1v1h-1zM691 358h1v1h-1zM1008 358h1v1h-1zM1034 358h2v1h-2zM1142 358h1v1h-1zM691 359h1v1h-1zM1009 359h1v1h-1zM1032 359h2v1h-2zM1143 359h1v1h-1zM691 360h1v1h-1zM1010 360h1v1h-1zM1030 360h2v1h-2zM1144 360h2v1h-2zM690 361h1v1h-1zM1011 361h1v1h-1zM1028 361h2v1h-2zM1146 361h2v1h-2zM690 362h1v1h-1zM1012 362h1v1h-1zM1026 362h2v1h-2zM1148 362h1v1h-1zM690 363h1v1h-1zM1013 363h1v1h-1zM1024 363h2v1h-2zM1149 363h2v1h-2zM689 364h1v1h-1zM1014 364h1v1h-1zM1021 364h3v1h-3zM1151 364h1v1h-1zM689 365h1v1h-1zM1015 365h6v1h-6zM1152 365h1v1h-1zM689 366h1v1h-1zM1153 366h1v1h-1zM689 367h1v1h-1zM1154 367h1v1h-1zM688 368h1v1h-1zM1155 368h1v1h-1zM688 369h1v1h-1zM1156 369h1v1h-1zM688 370h1v1h-1zM1157 370h1v1h-1zM687 371h1v1h-1zM1157 371h1v1h-1zM687 372h1v1h-1zM1158 372h1v1h-1zM687 373h1v1h-1zM1159 373h1v1h-1zM686 374h1v1h-1zM1160 374h1v1h-1zM686 375h1v1h-1zM1161 375h1v1h-1zM686 376h1v1h-1zM1162 376h1v1h-1zM685 377h1v1h-1zM1163 377h1v1h-1zM685 378h1v1h-1zM1164 378h1v1h-1zM685 379h1v1h-1zM1165 379h2v1h-2zM684 380h1v1h-1zM1167 380h1v1h-1zM684 381h1v1h-1zM1168 381h1v1h-1zM684 382h1v1h-1zM1169 382h2v1h-2zM683 383h1v1h-1zM1171 383h1v1h-1zM683 384h1v1h-1zM1172 384h1v1h-1zM683 385h1v1h-1zM1173 385h2v1h-2zM682 386h1v1h-1zM1175 386h1v1h-1zM682 387h1v1h-1zM1176 387h1v1h-1zM681 388h1v1h-1zM1177 388h2v1h-2zM681 389h1v1h-1zM1179 389h1v1h-1zM680 390h1v1h-1zM1180 390h1v1h-1zM680 391h1v1h-1zM1181 391h1v1h-1zM679 392h1v1h-1zM1182 392h1v1h-1zM679 393h1v1h-1zM1183 393h1v1h-1zM679 394h1v1h-1zM1184 394h1v1h-1zM678 395h1v1h-1zM1184 395h1v1h-1zM678 396h1v1h-1zM1185 396h1v1h-1zM678 397h1v1h-1zM1186 397h1v1h-1zM677 398h1v1h-1zM1186 398h1v1h-1zM677 399h1v1h-1zM1187 399h1v1h-1zM676 400h1v1h-1zM1188 400h1v1h-1zM676 401h1v1h-1zM1189 401h2v1h-2zM1197 401h3v1h-3zM676 402h1v1h-1zM1191 402h6v1h-6zM1200 402h2v1h-2zM675 403h1v1h-1zM1202 403h2v1h-2zM675 404h1v1h-1zM1204 404h2v1h-2zM674 405h1v1h-1zM1206 405h2v1h-2zM674 406h1v1h-1zM1208 406h1v1h-1zM673 407h1v1h-1zM1209 407h2v1h-2zM672 408h1v1h-1zM1211 408h1v1h-1zM672 409h1v1h-1zM1212 409h1v1h-1zM671 410h1v1h-1zM1213 410h2v1h-2zM669 411h2v1h-2zM1215 411h1v1h-1zM668 412h1v1h-1zM1216 412h2v1h-2zM667 413h1v1h-1zM1218 413h2v1h-2zM666 414h1v1h-1zM1220 414h1v1h-1zM665 415h1v1h-1zM1221 415h1v1h-1zM664 416h1v1h-1zM1222 416h1v1h-1zM663 417h1v1h-1zM1223 417h1v1h-1zM661 418h2v1h-2zM1224 418h1v1h-1zM660 419h1v1h-1zM1225 419h2v1h-2zM659 420h1v1h-1zM1227 420h1v1h-1zM657 421h2v1h-2zM1228 421h1v1h-1zM25 422h8v1h-8zM656 422h1v1h-1zM1229 422h1v1h-1zM13 423h12v1h-12zM33 423h4v1h-4zM654 423h2v1h-2zM1230 423h1v1h-1zM9 424h4v1h-4zM37 424h3v1h-3zM652 424h2v1h-2zM1231 424h1v1h-1zM5 425h4v1h-4zM40 425h2v1h-2zM153 425h7v1h-7zM650 425h2v1h-2zM1232 425h1v1h-1zM3 426h2v1h-2zM42 426h2v1h-2zM149 426h4v1h-4zM160 426h2v1h-2zM648 426h2v1h-2zM1233 426h1v1h-1zM44 427h1v1h-1zM145 427h4v1h-4zM162 427h2v1h-2zM345 427h4v1h-4zM647 427h1v1h-1zM1233 427h1v1h-1zM45 428h2v1h-2zM141 428h4v1h-4zM164 428h2v1h-2zM338 428h7v1h-7zM349 428h4v1h-4zM605 428h4v1h-4zM645 428h2v1h-2zM1234 428h1v1h-1zM47 429h1v1h-1zM137 429h4v1h-4zM166 429h7v1h-7zM336 429h2v1h-2zM353 429h8v1h-8zM597 429h8v1h-8zM609 429h4v1h-4zM644 429h1v1h-1zM1235 429h1v1h-1zM48 430h1v1h-1zM133 430h4v1h-4zM173 430h4v1h-4zM333 430h3v1h-3zM361 430h4v1h-4zM593 430h4v1h-4zM613 430h4v1h-4zM643 430h1v1h-1zM1236 430h1v1h-1zM49 431h2v1h-2zM117 431h4v1h-4zM130 431h3v1h-3zM177 431h3v1h-3zM325 431h8v1h-8zM365 431h3v1h-3zM589 431h4v1h-4zM617 431h3v1h-3zM641 431h2v1h-2zM1237 431h2v1h-2zM51 432h1v1h-1zM113 432h4v1h-4zM121 432h4v1h-4zM128 432h2v1h-2zM180 432h2v1h-2zM322 432h3v1h-3zM368 432h2v1h-2zM586 432h3v1h-3zM620 432h2v1h-2zM640 432h1v1h-1zM1239 432h2v1h-2zM52 433h1v1h-1zM110 433h3v1h-3zM125 433h3v1h-3zM182 433h2v1h-2zM320 433h2v1h-2zM370 433h2v1h-2zM584 433h2v1h-2zM622 433h3v1h-3zM637 433h3v1h-3zM1241 433h3v1h-3zM53 434h2v1h-2zM108 434h2v1h-2zM184 434h1v1h-1zM317 434h3v1h-3zM372 434h2v1h-2zM582 434h2v1h-2zM625 434h12v1h-12zM1244 434h2v1h-2zM55 435h1v1h-1zM107 435h1v1h-1zM185 435h1v1h-1zM314 435h3v1h-3zM374 435h2v1h-2zM580 435h2v1h-2zM1246 435h2v1h-2zM56 436h2v1h-2zM105 436h2v1h-2zM186 436h1v1h-1zM312 436h2v1h-2zM376 436h2v1h-2zM579 436h1v1h-1zM1248 436h1v1h-1zM58 437h3v1h-3zM104 437h1v1h-1zM187 437h1v1h-1zM310 437h2v1h-2zM378 437h2v1h-2zM578 437h1v1h-1zM1249 437h1v1h-1zM61 438h8v1h-8zM102 438h2v1h-2zM188 438h1v1h-1zM308 438h2v1h-2zM380 438h2v1h-2zM577 438h1v1h-1zM1250 438h1v1h-1zM69 439h4v1h-4zM100 439h2v1h-2zM189 439h2v1h-2zM307 439h1v1h-1zM382 439h2v1h-2zM576 439h1v1h-1zM1251 439h1v1h-1zM73 440h4v1h-4zM98 440h2v1h-2zM191 440h1v1h-1zM305 440h2v1h-2zM384 440h1v1h-1zM575 440h1v1h-1zM1252 440h1v1h-1zM77 441h4v1h-4zM96 441h2v1h-2zM192 441h1v1h-1zM304 441h1v1h-1zM385 441h2v1h-2zM573 441h2v1h-2zM1253 441h2v1h-2zM81 442h4v1h-4zM93 442h3v1h-3zM193 442h1v1h-1zM302 442h2v1h-2zM387 442h1v1h-1zM572 442h1v1h-1zM1255 442h1v1h-1zM85 443h8v1h-8zM193 443h1v1h-1zM300 443h2v1h-2zM388 443h2v1h-2zM571 443h1v1h-1zM1256 443h1v1h-1zM194 444h1v1h-1zM299 444h1v1h-1zM390 444h2v1h-2zM569 444h2v1h-2zM1257 444h1v1h-1zM195 445h1v1h-1zM297 445h2v1h-2zM392 445h1v1h-1zM568 445h1v1h-1zM1257 445h1v1h-1zM196 446h1v1h-1zM296 446h1v1h-1zM393 446h1v1h-1zM567 446h1v1h-1zM1258 446h1v1h-1zM197 447h1v1h-1zM293 447h3v1h-3zM394 447h1v1h-1zM566 447h1v1h-1zM1259 447h1v1h-1zM197 448h1v1h-1zM289 448h4v1h-4zM395 448h1v1h-1zM565 448h1v1h-1zM1260 448h1v1h-1zM198 449h1v1h-1zM286 449h3v1h-3zM396 449h1v1h-1zM565 449h1v1h-1zM1261 449h2v1h-2zM199 450h1v1h-1zM284 450h2v1h-2zM397 450h2v1h-2zM564 450h1v1h-1zM1263 450h1v1h-1zM200 451h1v1h-1zM281 451h3v1h-3zM399 451h2v1h-2zM563 451h1v1h-1zM1264 451h1v1h-1zM201 452h1v1h-1zM279 452h2v1h-2zM401 452h7v1h-7zM562 452h1v1h-1zM1265 452h2v1h-2zM202 453h1v1h-1zM277 453h2v1h-2zM408 453h2v1h-2zM561 453h1v1h-1zM1267 453h1v1h-1zM203 454h1v1h-1zM276 454h1v1h-1zM410 454h2v1h-2zM561 454h1v1h-1zM204 455h1v1h-1zM275 455h1v1h-1zM412 455h2v1h-2zM560 455h1v1h-1zM205 456h1v1h-1zM274 456h1v1h-1zM414 456h3v1h-3zM559 456h1v1h-1zM205 457h1v1h-1zM273 457h1v1h-1zM417 457h3v1h-3zM558 457h1v1h-1zM206 458h1v1h-1zM272 458h1v1h-1zM420 458h2v1h-2zM557 458h1v1h-1zM207 459h1v1h-1zM271 459h1v1h-1zM422 459h2v1h-2zM556 459h1v1h-1zM208 460h1v1h-1zM269 460h2v1h-2zM424 460h1v1h-1zM555 460h1v1h-1zM209 461h1v1h-1zM268 461h1v1h-1zM425 461h2v1h-2zM554 461h1v1h-1zM209 462h1v1h-1zM267 462h1v1h-1zM427 462h1v1h-1zM553 462h1v1h-1zM210 463h1v1h-1zM265 463h2v1h-2zM428 463h2v1h-2zM552 463h1v1h-1zM211 464h1v1h-1zM264 464h1v1h-1zM430 464h2v1h-2zM551 464h1v1h-1zM212 465h1v1h-1zM263 465h1v1h-1zM432 465h1v1h-1zM550 465h1v1h-1zM213 466h1v1h-1zM261 466h2v1h-2zM433 466h2v1h-2zM549 466h1v1h-1zM214 467h1v1h-1zM260 467h1v1h-1zM435 467h1v1h-1zM548 467h1v1h-1zM215 468h1v1h-1zM258 468h2v1h-2zM436 468h1v1h-1zM547 468h1v1h-1zM216 469h2v1h-2zM256 469h2v1h-2zM437 469h1v1h-1zM545 469h2v1h-2zM218 470h2v1h-2zM254 470h2v1h-2zM438 470h1v1h-1zM544 470h1v1h-1zM220 471h2v1h-2zM252 471h2v1h-2zM439 471h1v1h-1zM543 471h1v1h-1zM222 472h3v1h-3zM249 472h3v1h-3zM440 472h1v1h-1zM541 472h2v1h-2zM225 473h4v1h-4zM245 473h4v1h-4zM441 473h2v1h-2zM540 473h1v1h-1zM229 474h4v1h-4zM241 474h4v1h-4zM443 474h1v1h-1zM539 474h1v1h-1zM233 475h8v1h-8zM444 475h1v1h-1zM537 475h2v1h-2zM445 476h1v1h-1zM536 476h1v1h-1zM446 477h1v1h-1zM535 477h1v1h-1zM447 478h1v1h-1zM533 478h2v1h-2zM448 479h2v1h-2zM532 479h1v1h-1zM450 480h2v1h-2zM530 480h2v1h-2zM452 481h1v1h-1zM528 481h2v1h-2zM453 482h2v1h-2zM525 482h3v1h-3zM455 483h1v1h-1zM522 483h3v1h-3zM456 484h1v1h-1zM520 484h2v1h-2zM457 485h1v1h-1zM519 485h1v1h-1zM458 486h1v1h-1zM517 486h2v1h-2zM459 487h1v1h-1zM516 487h1v1h-1zM460 488h1v1h-1zM515 488h1v1h-1zM461 489h2v1h-2zM513 489h2v1h-2zM463 490h1v1h-1zM512 490h1v1h-1zM464 491h2v1h-2zM509 491h3v1h-3zM466 492h2v1h-2zM505 492h4v1h-4zM468 493h2v1h-2zM502 493h3v1h-3zM470 494h2v1h-2zM500 494h2v1h-2zM472 495h2v1h-2zM498 495h2v1h-2zM474 496h3v1h-3zM496 496h2v1h-2zM477 497h4v1h-4zM493 497h3v1h-3zM481 498h12v1h-12z" fill="#ff0000"/>
<path d="M723 104h1v1h-1zM723 105h2v1h-2zM723 106h1v1h-1zM725 106h2v1h-2zM722 107h1v1h-1zM727 107h1v1h-1zM722 108h1v1h-1zM728 108h1v1h-1zM722 109h1v1h-1zM728 109h1v1h-1zM722 110h1v1h-1zM729 110h1v1h-1zM722 111h1v1h-1zM729 111h1v1h-1zM721 112h1v1h-1zM730 112h1v1h-1zM721 113h1v1h-1zM730 113h1v1h-1zM721 114h1v1h-1zM731 114h1v1h-1zM721 115h1v1h-1zM731 115h1v1h-1zM720 116h1v1h-1zM731 116h1v1h-1zM720 117h1v1h-1zM732 117h1v1h-1zM720 118h1v1h-1zM732 118h1v1h-1zM720 119h1v1h-1zM732 119h1v1h-1zM720 120h1v1h-1zM732 120h1v1h-1zM719 121h1v1h-1zM733 121h1v1h-1zM719 122h1v1h-1zM733 122h1v1h-1zM719 123h1v1h-1zM733 123h1v1h-1zM719 124h1v1h-1zM733 124h1v1h-1zM719 125h1v1h-1zM733 125h1v1h-1zM719 126h1v1h-1zM734 126h1v1h-1zM718 127h1v1h-1zM734 127h1v1h-1zM718 128h1v1h-1zM734 128h1v1h-1zM718 129h1v1h-1zM734 129h1v1h-1zM718 130h1v1h-1zM735 130h1v1h-1zM718 131h1v1h-1zM735 131h1v1h-1zM718 132h1v1h-1zM735 132h1v1h-1zM717 133h1v1h-1zM735 133h1v1h-1zM717 134h1v1h-1zM735 134h1v1h-1zM717 135h1v1h-1zM736 135h1v1h-1zM717 136h1v1h-1zM736 136h1v1h-1zM717 137h1v1h-1zM736 137h1v1h-1zM717 138h1v1h-1zM736 138h1v1h-1zM716 139h1v1h-1zM736 139h1v1h-1zM716 140h1v1h-1zM737 140h1v1h-1zM716 141h1v1h-1zM737 141h1v1h-1zM716 142h1v1h-1zM737 142h1v1h-1zM716 143h1v1h-1zM737 143h1v1h-1zM716 144h1v1h-1zM738 144h1v1h-1zM715 145h1v1h-1zM738 145h1v1h-1zM715 146h1v1h-1zM738 146h1v1h-1zM715 147h1v1h-1zM738 147h1v1h-1zM715 148h1v1h-1zM738 148h1v1h-1zM715 149h1v1h-1zM739 149h1v1h-1zM715 150h1v1h-1zM739 150h1v1h-1zM715 151h1v1h-1zM739 151h1v1h-1zM714 152h1v1h-1zM739 152h1v1h-1zM714 153h1v1h-1zM739 153h1v1h-1zM714 154h1v1h-1zM739 154h1v1h-1zM714 155h1v1h-1zM739 155h1v1h-1zM714 156h1v1h-1zM740 156h1v1h-1zM714 157h1v1h-1zM740 157h1v1h-1zM713 158h1v1h-1zM740 158h1v1h-1zM713 159h1v1h-1zM740 159h1v1h-1zM713 160h1v1h-1zM740 160h1v1h-1zM713 161h1v1h-1zM740 161h1v1h-1zM713 162h1v1h-1zM740 162h1v1h-1zM713 163h1v1h-1zM740 163h1v1h-1zM712 164h1v1h-1zM741 164h1v1h-1zM712 165h1v1h-1zM741 165h1v1h-1zM712 166h1v1h-1zM741 166h1v1h-1zM712 167h1v1h-1zM741 167h1v1h-1zM712 168h1v1h-1zM741 168h1v1h-1zM712 169h1v1h-1zM741 169h1v1h-1zM711 170h1v1h-1zM741 170h1v1h-1zM711 171h1v1h-1zM741 171h1v1h-1zM711 172h1v1h-1zM742 172h1v1h-1zM711 173h1v1h-1zM742 173h1v1h-1zM711 174h1v1h-1zM742 174h1v1h-1zM711 175h1v1h-1zM742 175h1v1h-1zM710 176h1v1h-1zM742 176h1v1h-1zM710 177h1v1h-1zM742 177h1v1h-1zM710 178h1v1h-1zM742 178h1v1h-1zM710 179h1v1h-1zM742 179h1v1h-1zM710 180h1v1h-1zM743 180h1v1h-1zM710 181h1v1h-1zM743 181h1v1h-1zM709 182h1v1h-1zM743 182h1v1h-1zM709 183h1v1h-1zM743 183h1v1h-1zM709 184h1v1h-1zM743 184h1v1h-1zM709 185h1v1h-1zM743 185h1v1h-1zM709 186h1v1h-1zM744 186h1v1h-1zM709 187h1v1h-1zM744 187h1v1h-1zM763 187h2v1h-2zM709 188h1v1h-1zM744 188h1v1h-1zM763 188h1v1h-1zM765 188h7v1h-7zM708 189h1v1h-1zM744 189h1v1h-1zM762 189h1v1h-1zM771 189h1v1h-1zM708 190h1v1h-1zM745 190h1v1h-1zM762 190h1v1h-1zM772 190h1v1h-1zM708 191h1v1h-1zM745 191h1v1h-1zM762 191h1v1h-1zM772 191h1v1h-1zM708 192h1v1h-1zM745 192h1v1h-1zM761 192h1v1h-1zM772 192h1v1h-1zM708 193h1v1h-1zM745 193h1v1h-1zM761 193h1v1h-1zM772 193h1v1h-1zM708 194h1v1h-1zM746 194h1v1h-1zM760 194h1v1h-1zM773 194h1v1h-1zM707 195h1v1h-1zM746 195h1v1h-1zM760 195h1v1h-1zM773 195h1v1h-1zM707 196h1v1h-1zM746 196h1v1h-1zM760 196h1v1h-1zM773 196h1v1h-1zM707 197h1v1h-1zM746 197h1v1h-1zM759 197h1v1h-1zM774 197h1v1h-1zM707 198h1v1h-1zM747 198h1v1h-1zM759 198h1v1h-1zM774 198h1v1h-1zM707 199h1v1h-1zM747 199h1v1h-1zM758 199h1v1h-1zM774 199h1v1h-1zM838 199h2v1h-2zM707 200h1v1h-1zM747 200h1v1h-1zM757 200h1v1h-1zM774 200h1v1h-1zM836 200h2v1h-2zM839 200h1v1h-1zM707 201h1v1h-1zM747 201h1v1h-1zM756 201h1v1h-1zM775 201h1v1h-1zM835 201h1v1h-1zM840 201h1v1h-1zM707 202h1v1h-1zM748 202h1v1h-1zM755 202h1v1h-1zM775 202h1v1h-1zM834 202h1v1h-1zM840 202h1v1h-1zM706 203h1v1h-1zM748 203h1v1h-1zM755 203h1v1h-1zM776 203h1v1h-1zM833 203h1v1h-1zM841 203h1v1h-1zM706 204h1v1h-1zM748 204h1v1h-1zM754 204h1v1h-1zM776 204h1v1h-1zM833 204h1v1h-1zM841 204h1v1h-1zM706 205h1v1h-1zM749 205h1v1h-1zM754 205h1v1h-1zM777 205h1v1h-1zM832 205h1v1h-1zM842 205h1v1h-1zM706 206h1v1h-1zM749 206h1v1h-1zM753 206h1v1h-1zM777 206h1v1h-1zM823 206h9v1h-9zM842 206h1v1h-1zM706 207h1v1h-1zM749 207h1v1h-1zM753 207h1v1h-1zM778 207h1v1h-1zM822 207h1v1h-1zM843 207h1v1h-1zM706 208h1v1h-1zM750 208h1v1h-1zM753 208h1v1h-1zM778 208h1v1h-1zM821 208h1v1h-1zM843 208h1v1h-1zM875 208h1v1h-1zM706 209h1v1h-1zM750 209h1v1h-1zM752 209h1v1h-1zM779 209h1v1h-1zM821 209h1v1h-1zM844 209h1v1h-1zM875 209h2v1h-2zM706 210h1v1h-1zM750 210h1v1h-1zM752 210h1v1h-1zM780 210h1v1h-1zM820 210h1v1h-1zM844 210h1v1h-1zM874 210h1v1h-1zM876 210h1v1h-1zM911 210h1v1h-1zM706 211h1v1h-1zM751 211h1v1h-1zM780 211h1v1h-1zM819 211h1v1h-1zM845 211h1v1h-1zM874 211h1v1h-1zM877 211h1v1h-1zM910 211h1v1h-1zM912 211h2v1h-2zM705 212h1v1h-1zM751 212h1v1h-1zM781 212h1v1h-1zM819 212h1v1h-1zM845 212h1v1h-1zM874 212h1v1h-1zM877 212h1v1h-1zM909 212h1v1h-1zM914 212h2v1h-2zM705 213h1v1h-1zM781 213h1v1h-1zM818 213h1v1h-1zM846 213h1v1h-1zM873 213h1v1h-1zM878 213h1v1h-1zM908 213h1v1h-1zM915 213h1v1h-1zM705 214h1v1h-1zM782 214h1v1h-1zM818 214h1v1h-1zM846 214h1v1h-1zM873 214h1v1h-1zM878 214h1v1h-1zM907 214h1v1h-1zM916 214h1v1h-1zM705 215h1v1h-1zM782 215h1v1h-1zM817 215h1v1h-1zM847 215h1v1h-1zM873 215h1v1h-1zM879 215h1v1h-1zM907 215h1v1h-1zM916 215h1v1h-1zM705 216h1v1h-1zM783 216h1v1h-1zM817 216h1v1h-1zM848 216h1v1h-1zM872 216h1v1h-1zM879 216h1v1h-1zM906 216h1v1h-1zM916 216h1v1h-1zM705 217h1v1h-1zM783 217h1v1h-1zM816 217h1v1h-1zM848 217h1v1h-1zM872 217h1v1h-1zM880 217h1v1h-1zM906 217h1v1h-1zM917 217h1v1h-1zM705 218h1v1h-1zM783 218h1v1h-1zM816 218h1v1h-1zM849 218h1v1h-1zM872 218h1v1h-1zM880 218h1v1h-1zM905 218h1v1h-1zM917 218h1v1h-1zM705 219h1v1h-1zM784 219h1v1h-1zM815 219h1v1h-1zM850 219h1v1h-1zM871 219h1v1h-1zM881 219h1v1h-1zM905 219h1v1h-1zM917 219h1v1h-1zM704 220h1v1h-1zM784 220h1v1h-1zM815 220h1v1h-1zM850 220h1v1h-1zM871 220h1v1h-1zM881 220h1v1h-1zM904 220h1v1h-1zM918 220h1v1h-1zM704 221h1v1h-1zM784 221h1v1h-1zM813 221h2v1h-2zM851 221h1v1h-1zM870 221h1v1h-1zM882 221h1v1h-1zM904 221h1v1h-1zM918 221h1v1h-1zM704 222h1v1h-1zM785 222h1v1h-1zM812 222h1v1h-1zM851 222h1v1h-1zM869 222h1v1h-1zM882 222h1v1h-1zM903 222h1v1h-1zM918 222h1v1h-1zM704 223h1v1h-1zM785 223h1v1h-1zM811 223h1v1h-1zM852 223h1v1h-1zM869 223h1v1h-1zM883 223h1v1h-1zM903 223h1v1h-1zM919 223h1v1h-1zM704 224h1v1h-1zM786 224h1v1h-1zM810 224h1v1h-1zM852 224h1v1h-1zM868 224h1v1h-1zM883 224h1v1h-1zM903 224h1v1h-1zM919 224h1v1h-1zM704 225h1v1h-1zM786 225h1v1h-1zM809 225h1v1h-1zM852 225h1v1h-1zM867 225h1v1h-1zM884 225h1v1h-1zM902 225h1v1h-1zM919 225h1v1h-1zM704 226h1v1h-1zM786 226h1v1h-1zM809 226h1v1h-1zM853 226h1v1h-1zM866 226h1v1h-1zM884 226h1v1h-1zM902 226h1v1h-1zM920 226h1v1h-1zM704 227h1v1h-1zM787 227h1v1h-1zM808 227h1v1h-1zM853 227h1v1h-1zM865 227h1v1h-1zM885 227h1v1h-1zM901 227h1v1h-1zM920 227h1v1h-1zM704 228h1v1h-1zM787 228h1v1h-1zM807 228h1v1h-1zM854 228h1v1h-1zM865 228h1v1h-1zM885 228h1v1h-1zM901 228h1v1h-1zM921 228h1v1h-1zM703 229h1v1h-1zM787 229h1v1h-1zM807 229h1v1h-1zM854 229h1v1h-1zM864 229h1v1h-1zM886 229h1v1h-1zM900 229h1v1h-1zM921 229h1v1h-1zM703 230h1v1h-1zM788 230h1v1h-1zM806 230h1v1h-1zM854 230h1v1h-1zM862 230h2v1h-2zM886 230h1v1h-1zM900 230h1v1h-1zM921 230h1v1h-1zM703 231h1v1h-1zM788 231h1v1h-1zM806 231h1v1h-1zM855 231h1v1h-1zM860 231h2v1h-2zM887 231h1v1h-1zM899 231h1v1h-1zM922 231h1v1h-1zM703 232h1v1h-1zM789 232h1v1h-1zM805 232h1v1h-1zM855 232h5v1h-5zM887 232h5v1h-5zM899 232h1v1h-1zM922 232h1v1h-1zM703 233h1v1h-1zM789 233h1v1h-1zM805 233h1v1h-1zM892 233h1v1h-1zM898 233h1v1h-1zM923 233h1v1h-1zM703 234h1v1h-1zM790 234h1v1h-1zM805 234h1v1h-1zM892 234h1v1h-1zM898 234h1v1h-1zM923 234h1v1h-1zM703 235h1v1h-1zM790 235h1v1h-1zM804 235h1v1h-1zM893 235h1v1h-1zM897 235h1v1h-1zM924 235h1v1h-1zM703 236h1v1h-1zM791 236h1v1h-1zM804 236h1v1h-1zM893 236h1v1h-1zM897 236h1v1h-1zM924 236h1v1h-1zM702 237h1v1h-1zM791 237h2v1h-2zM803 237h1v1h-1zM894 237h1v1h-1zM896 237h1v1h-1zM925 237h1v1h-1zM702 238h1v1h-1zM793 238h3v1h-3zM803 238h1v1h-1zM894 238h1v1h-1zM896 238h1v1h-1zM925 238h1v1h-1zM702 239h1v1h-1zM796 239h1v1h-1zM802 239h1v1h-1zM895 239h1v1h-1zM926 239h1v1h-1zM702 240h1v1h-1zM796 240h1v1h-1zM802 240h1v1h-1zM926 240h1v1h-1zM939 240h1v1h-1zM702 241h1v1h-1zM797 241h1v1h-1zM801 241h1v1h-1zM927 241h1v1h-1zM938 241h1v1h-1zM940 241h1v1h-1zM702 242h1v1h-1zM798 242h1v1h-1zM800 242h1v1h-1zM927 242h1v1h-1zM937 242h1v1h-1zM941 242h1v1h-1zM701 243h1v1h-1zM798 243h1v1h-1zM800 243h1v1h-1zM928 243h1v1h-1zM937 243h1v1h-1zM941 243h1v1h-1zM701 244h1v1h-1zM799 244h1v1h-1zM929 244h1v1h-1zM936 244h1v1h-1zM942 244h1v1h-1zM701 245h1v1h-1zM930 245h1v1h-1zM933 245h3v1h-3zM943 245h1v1h-1zM701 246h1v1h-1zM931 246h2v1h-2zM944 246h1v1h-1zM701 247h1v1h-1zM944 247h1v1h-1zM701 248h1v1h-1zM945 248h1v1h-1zM700 249h1v1h-1zM945 249h1v1h-1zM700 250h1v1h-1zM946 250h1v1h-1zM700 251h1v1h-1zM946 251h1v1h-1zM700 252h1v1h-1zM947 252h1v1h-1zM700 253h1v1h-1zM947 253h1v1h-1zM700 254h1v1h-1zM947 254h1v1h-1zM699 255h1v1h-1zM948 255h1v1h-1zM699 256h1v1h-1zM948 256h1v1h-1zM699 257h1v1h-1zM948 257h1v1h-1zM699 258h1v1h-1zM948 258h1v1h-1zM699 259h1v1h-1zM949 259h1v1h-1zM698 260h1v1h-1zM949 260h1v1h-1zM698 261h1v1h-1zM949 261h1v1h-1zM697 262h1v1h-1zM950 262h1v1h-1zM697 263h1v1h-1zM950 263h1v1h-1zM697 264h1v1h-1zM950 264h1v1h-1zM696 265h1v1h-1zM950 265h1v1h-1zM696 266h1v1h-1zM951 266h1v1h-1zM695 267h1v1h-1zM951 267h1v1h-1zM695 268h1v1h-1zM951 268h1v1h-1zM695 269h1v1h-1zM952 269h1v1h-1zM695 270h1v1h-1zM952 270h1v1h-1zM694 271h1v1h-1zM952 271h1v1h-1zM694 272h1v1h-1zM953 272h1v1h-1zM694 273h1v1h-1zM953 273h1v1h-1zM694 274h1v1h-1zM954 274h1v1h-1zM694 275h1v1h-1zM954 275h1v1h-1zM694 276h1v1h-1zM954 276h1v1h-1zM693 277h1v1h-1zM955 277h1v1h-1zM693 278h1v1h-1zM955 278h1v1h-1zM693 279h1v1h-1zM955 279h1v1h-1zM693 280h1v1h-1zM956 280h1v1h-1zM693 281h1v1h-1zM956 281h1v1h-1zM692 282h1v1h-1zM957 282h1v1h-1zM692 283h1v1h-1zM957 283h1v1h-1zM692 284h1v1h-1zM957 284h1v1h-1zM692 285h1v1h-1zM958 285h1v1h-1zM692 286h1v1h-1zM958 286h1v1h-1zM692 287h1v1h-1zM959 287h1v1h-1zM691 288h1v1h-1zM959 288h1v1h-1zM691 289h1v1h-1zM959 289h1v1h-1zM691 290h1v1h-1zM960 290h1v1h-1zM691 291h1v1h-1zM960 291h1v1h-1zM691 292h1v1h-1zM960 292h1v1h-1zM691 293h1v1h-1zM961 293h1v1h-1zM691 294h1v1h-1zM961 294h1v1h-1zM690 295h1v1h-1zM961 295h1v1h-1zM690 296h1v1h-1zM962 296h1v1h-1zM690 297h1v1h-1zM962 297h1v1h-1zM690 298h1v1h-1zM962 298h1v1h-1zM690 299h1v1h-1zM963 299h1v1h-1zM690 300h1v1h-1zM963 300h1v1h-1zM690 301h1v1h-1zM963 301h1v1h-1zM690 302h1v1h-1zM964 302h1v1h-1zM689 303h1v1h-1zM964 303h1v1h-1zM689 304h1v1h-1zM964 304h1v1h-1zM689 305h1v1h-1zM964 305h1v1h-1zM689 306h1v1h-1zM965 306h1v1h-1zM689 307h1v1h-1zM965 307h1v1h-1zM689 308h1v1h-1zM965 308h1v1h-1zM689 309h1v1h-1zM966 309h1v1h-1zM689 310h1v1h-1zM966 310h1v1h-1zM688 311h1v1h-1zM966 311h1v1h-1zM688 312h1v1h-1zM966 312h1v1h-1zM688 313h1v1h-1zM967 313h1v1h-1zM688 314h1v1h-1zM967 314h1v1h-1zM688 315h1v1h-1zM967 315h1v1h-1zM688 316h1v1h-1zM968 316h1v1h-1zM688 317h1v1h-1zM968 317h1v1h-1zM688 318h1v1h-1zM968 318h1v1h-1zM687 319h1v1h-1zM968 319h1v1h-1zM687 320h1v1h-1zM969 320h1v1h-1zM687 321h1v1h-1zM969 321h1v1h-1zM687 322h1v1h-1zM969 322h1v1h-1zM687 323h1v1h-1zM969 323h1v1h-1zM687 324h1v1h-1zM970 324h1v1h-1zM1059 324h5v1h-5zM687 325h1v1h-1zM970 325h1v1h-1zM1059 325h1v1h-1zM1064 325h1v1h-1zM686 326h1v1h-1zM970 326h1v1h-1zM1058 326h1v1h-1zM1065 326h1v1h-1zM686 327h1v1h-1zM970 327h1v1h-1zM1058 327h1v1h-1zM1065 327h1v1h-1zM686 328h1v1h-1zM971 328h1v1h-1zM1057 328h1v1h-1zM1066 328h1v1h-1zM686 329h1v1h-1zM971 329h1v1h-1zM1057 329h1v1h-1zM1067 329h1v1h-1zM686 330h1v1h-1zM971 330h1v1h-1zM1056 330h1v1h-1zM1068 330h1v1h-1zM686 331h1v1h-1zM972 331h1v1h-1zM1056 331h1v1h-1zM1069 331h1v1h-1zM685 332h1v1h-1zM972 332h1v1h-1zM1055 332h1v1h-1zM1069 332h1v1h-1zM685 333h1v1h-1zM972 333h1v1h-1zM1055 333h1v1h-1zM1070 333h1v1h-1zM685 334h1v1h-1zM972 334h1v1h-1zM1054 334h1v1h-1zM1071 334h1v1h-1zM685 335h1v1h-1zM973 335h1v1h-1zM1054 335h1v1h-1zM1072 335h1v1h-1zM685 336h1v1h-1zM973 336h1v1h-1zM1053 336h1v1h-1zM1073 336h1v1h-1zM685 337h1v1h-1zM973 337h1v1h-1zM1053 337h1v1h-1zM1073 337h1v1h-1zM684 338h1v1h-1zM973 338h1v1h-1zM1052 338h1v1h-1zM1074 338h1v1h-1zM684 339h1v1h-1zM974 339h1v1h-1zM1052 339h1v1h-1zM1075 339h1v1h-1zM684 340h1v1h-1zM974 340h1v1h-1zM1051 340h1v1h-1zM1076 340h1v1h-1zM684 341h1v1h-1zM974 341h1v1h-1zM1050 341h1v1h-1zM1076 341h1v1h-1zM684 342h1v1h-1zM974 342h1v1h-1zM1015 342h10v1h-10zM1049 342h1v1h-1zM1077 342h1v1h-1zM684 343h1v1h-1zM975 343h1v1h-1zM1015 343h1v1h-1zM1025 343h4v1h-4zM1048 343h1v1h-1zM1078 343h1v1h-1zM683 344h1v1h-1zM975 344h1v1h-1zM1014 344h1v1h-1zM1029 344h4v1h-4zM1047 344h1v1h-1zM1078 344h1v1h-1zM1111 344h1v1h-1zM683 345h1v1h-1zM975 345h1v1h-1zM1014 345h1v1h-1zM1033 345h3v1h-3zM1046 345h1v1h-1zM1079 345h1v1h-1zM1109 345h2v1h-2zM1112 345h1v1h-1zM683 346h1v1h-1zM975 346h1v1h-1zM1013 346h1v1h-1zM1036 346h1v1h-1zM1045 346h1v1h-1zM1080 346h1v1h-1zM1103 346h2v1h-2zM1108 346h1v1h-1zM1113 346h2v1h-2zM683 347h1v1h-1zM975 347h1v1h-1zM1013 347h1v1h-1zM1037 347h2v1h-2zM1044 347h1v1h-1zM1081 347h2v1h-2zM1085 347h3v1h-3zM1101 347h2v1h-2zM1105 347h3v1h-3zM1115 347h1v1h-1zM683 348h1v1h-1zM976 348h1v1h-1zM1013 348h1v1h-1zM1039 348h5v1h-5zM1083 348h2v1h-2zM1088 348h1v1h-1zM1100 348h1v1h-1zM1116 348h1v1h-1zM683 349h1v1h-1zM976 349h1v1h-1zM1012 349h1v1h-1zM1089 349h2v1h-2zM1097 349h3v1h-3zM1117 349h2v1h-2zM682 350h1v1h-1zM976 350h1v1h-1zM1012 350h1v1h-1zM1091 350h6v1h-6zM1119 350h9v1h-9zM682 351h1v1h-1zM976 351h1v1h-1zM1011 351h1v1h-1zM1128 351h1v1h-1zM682 352h1v1h-1zM976 352h1v1h-1zM1011 352h1v1h-1zM1129 352h1v1h-1zM682 353h1v1h-1zM977 353h1v1h-1zM1011 353h1v1h-1zM1130 353h1v1h-1zM681 354h1v1h-1zM977 354h1v1h-1zM1010 354h1v1h-1zM1131 354h1v1h-1zM681 355h1v1h-1zM977 355h1v1h-1zM1010 355h1v1h-1zM1132 355h1v1h-1zM681 356h1v1h-1zM977 356h1v1h-1zM1009 356h1v1h-1zM1133 356h1v1h-1zM681 357h1v1h-1zM977 357h1v1h-1zM1009 357h1v1h-1zM1134 357h1v1h-1zM681 358h1v1h-1zM978 358h1v1h-1zM1009 358h1v1h-1zM1135 358h1v1h-1zM680 359h1v1h-1zM978 359h1v1h-1zM1008 359h1v1h-1zM1136 359h1v1h-1zM680 360h1v1h-1zM978 360h1v1h-1zM1008 360h1v1h-1zM1136 360h1v1h-1zM680 361h1v1h-1zM978 361h1v1h-1zM1007 361h1v1h-1zM1137 361h1v1h-1zM680 362h1v1h-1zM978 362h1v1h-1zM1007 362h1v1h-1zM1137 362h1v1h-1zM679 363h1v1h-1zM979 363h1v1h-1zM1007 363h1v1h-1zM1138 363h1v1h-1zM679 364h1v1h-1zM979 364h1v1h-1zM1006 364h1v1h-1zM1138 364h1v1h-1zM679 365h1v1h-1zM979 365h1v1h-1zM1006 365h1v1h-1zM1139 365h1v1h-1zM679 366h1v1h-1zM979 366h1v1h-1zM1006 366h1v1h-1zM1139 366h1v1h-1zM679 367h1v1h-1zM980 367h1v1h-1zM1005 367h1v1h-1zM1139 367h1v1h-1zM678 368h1v1h-1zM980 368h1v1h-1zM1005 368h1v1h-1zM1140 368h1v1h-1zM678 369h1v1h-1zM981 369h1v1h-1zM1005 369h1v1h-1zM1140 369h1v1h-1zM678 370h1v1h-1zM981 370h1v1h-1zM1005 370h1v1h-1zM1140 370h1v1h-1zM678 371h1v1h-1zM982 371h1v1h-1zM1004 371h1v1h-1zM1141 371h1v1h-1zM678 372h1v1h-1zM982 372h1v1h-1zM1004 372h1v1h-1zM1141 372h1v1h-1zM677 373h1v1h-1zM983 373h1v1h-1zM1004 373h1v1h-1zM1142 373h1v1h-1zM677 374h1v1h-1zM983 374h1v1h-1zM1003 374h1v1h-1zM1142 374h1v1h-1zM677 375h1v1h-1zM984 375h1v1h-1zM1003 375h1v1h-1zM1142 375h1v1h-1zM677 376h1v1h-1zM984 376h1v1h-1zM1003 376h1v1h-1zM1143 376h1v1h-1zM677 377h1v1h-1zM985 377h1v1h-1zM1002 377h1v1h-1zM1143 377h1v1h-1zM677 378h1v1h-1zM985 378h1v1h-1zM1002 378h1v1h-1zM1144 378h1v1h-1zM676 379h1v1h-1zM986 379h1v1h-1zM1001 379h1v1h-1zM1144 379h1v1h-1zM676 380h1v1h-1zM986 380h1v1h-1zM1001 380h1v1h-1zM1145 380h1v1h-1zM676 381h1v1h-1zM987 381h1v1h-1zM1000 381h1v1h-1zM1145 381h1v1h-1zM676 382h1v1h-1zM988 382h1v1h-1zM1000 382h1v1h-1zM1146 382h1v1h-1zM676 383h1v1h-1zM989 383h1v1h-1zM999 383h1v1h-1zM1146 383h1v1h-1zM675 384h1v1h-1zM990 384h1v1h-1zM999 384h1v1h-1zM1147 384h1v1h-1zM675 385h1v1h-1zM991 385h1v1h-1zM999 385h1v1h-1zM1147 385h1v1h-1zM675 386h1v1h-1zM992 386h1v1h-1zM998 386h1v1h-1zM1148 386h1v1h-1zM675 387h1v1h-1zM992 387h1v1h-1zM998 387h1v1h-1zM1148 387h1v1h-1zM674 388h1v1h-1zM993 388h1v1h-1zM997 388h1v1h-1zM1149 388h1v1h-1zM674 389h1v1h-1zM993 389h1v1h-1zM997 389h1v1h-1zM1150 389h1v1h-1zM673 390h1v1h-1zM994 390h1v1h-1zM996 390h1v1h-1zM1150 390h1v1h-1zM673 391h1v1h-1zM994 391h1v1h-1zM996 391h1v1h-1zM1151 391h1v1h-1zM673 392h1v1h-1zM995 392h1v1h-1zM1152 392h1v1h-1zM672 393h1v1h-1zM1153 393h1v1h-1zM672 394h1v1h-1zM1154 394h1v1h-1zM671 395h1v1h-1zM1155 395h1v1h-1zM669 396h3v1h-3zM1156 396h2v1h-2zM1165 396h3v1h-3zM1178 396h6v1h-6zM666 397h3v1h-3zM1158 397h7v1h-7zM1168 397h2v1h-2zM1176 397h2v1h-2zM1183 397h1v1h-1zM658 398h3v1h-3zM664 398h2v1h-2zM1170 398h6v1h-6zM1184 398h1v1h-1zM656 399h2v1h-2zM661 399h3v1h-3zM1184 399h1v1h-1zM654 400h2v1h-2zM1185 400h1v1h-1zM652 401h2v1h-2zM1185 401h1v1h-1zM651 402h1v1h-1zM1185 402h1v1h-1zM650 403h1v1h-1zM1186 403h1v1h-1zM649 404h1v1h-1zM1186 404h1v1h-1zM649 405h1v1h-1zM1187 405h1v1h-1zM648 406h1v1h-1zM1187 406h1v1h-1zM647 407h1v1h-1zM1188 407h1v1h-1zM647 408h1v1h-1zM1189 408h1v1h-1zM646 409h1v1h-1zM1189 409h1v1h-1zM646 410h1v1h-1zM1190 410h1v1h-1zM1193 410h3v1h-3zM645 411h1v1h-1zM1191 411h2v1h-2zM1196 411h2v1h-2zM1206 411h2v1h-2zM645 412h1v1h-1zM1198 412h3v1h-3zM1204 412h2v1h-2zM1208 412h2v1h-2zM644 413h1v1h-1zM1201 413h3v1h-3zM1210 413h2v1h-2zM644 414h1v1h-1zM1211 414h1v1h-1zM643 415h1v1h-1zM1212 415h1v1h-1zM149 416h7v1h-7zM643 416h1v1h-1zM1212 416h1v1h-1zM147 417h2v1h-2zM156 417h1v1h-1zM642 417h1v1h-1zM1213 417h1v1h-1zM145 418h2v1h-2zM157 418h1v1h-1zM642 418h1v1h-1zM1213 418h1v1h-1zM29 419h3v1h-3zM144 419h1v1h-1zM158 419h1v1h-1zM642 419h1v1h-1zM1213 419h1v1h-1zM27 420h2v1h-2zM32 420h2v1h-2zM143 420h1v1h-1zM159 420h1v1h-1zM641 420h1v1h-1zM1214 420h1v1h-1zM25 421h2v1h-2zM34 421h2v1h-2zM142 421h1v1h-1zM160 421h1v1h-1zM578 421h3v1h-3zM641 421h1v1h-1zM1214 421h1v1h-1zM24 422h1v1h-1zM36 422h1v1h-1zM141 422h1v1h-1zM160 422h1v1h-1zM576 422h2v1h-2zM581 422h3v1h-3zM640 422h1v1h-1zM1215 422h1v1h-1zM3 423h2v1h-2zM22 423h2v1h-2zM37 423h2v1h-2zM141 423h1v1h-1zM161 423h1v1h-1zM321 423h8v1h-8zM574 423h2v1h-2zM584 423h2v1h-2zM640 423h1v1h-1zM1215 423h1v1h-1zM5 424h12v1h-12zM20 424h2v1h-2zM39 424h1v1h-1zM140 424h1v1h-1zM161 424h1v1h-1zM315 424h6v1h-6zM329 424h3v1h-3zM572 424h2v1h-2zM586 424h2v1h-2zM640 424h1v1h-1zM1216 424h1v1h-1zM17 425h3v1h-3zM40 425h1v1h-1zM139 425h1v1h-1zM162 425h1v1h-1zM314 425h1v1h-1zM332 425h2v1h-2zM571 425h1v1h-1zM588 425h2v1h-2zM639 425h1v1h-1zM1216 425h1v1h-1zM40 426h1v1h-1zM138 426h1v1h-1zM162 426h1v1h-1zM313 426h1v1h-1zM334 426h10v1h-10zM570 426h1v1h-1zM590 426h2v1h-2zM639 426h1v1h-1zM1217 426h1v1h-1zM41 427h1v1h-1zM137 427h1v1h-1zM163 427h1v1h-1zM312 427h1v1h-1zM344 427h1v1h-1zM569 427h1v1h-1zM592 427h2v1h-2zM639 427h1v1h-1zM1217 427h1v1h-1zM41 428h1v1h-1zM137 428h1v1h-1zM163 428h1v1h-1zM311 428h1v1h-1zM345 428h2v1h-2zM568 428h1v1h-1zM594 428h2v1h-2zM638 428h1v1h-1zM1218 428h1v1h-1zM42 429h1v1h-1zM98 429h3v1h-3zM105 429h8v1h-8zM136 429h1v1h-1zM164 429h1v1h-1zM310 429h1v1h-1zM347 429h1v1h-1zM567 429h1v1h-1zM596 429h1v1h-1zM638 429h1v1h-1zM1218 429h1v1h-1zM42 430h1v1h-1zM96 430h2v1h-2zM101 430h4v1h-4zM113 430h3v1h-3zM135 430h1v1h-1zM164 430h1v1h-1zM309 430h1v1h-1zM348 430h1v1h-1zM566 430h1v1h-1zM597 430h1v1h-1zM637 430h1v1h-1zM1219 430h1v1h-1zM43 431h1v1h-1zM94 431h2v1h-2zM116 431h2v1h-2zM133 431h2v1h-2zM165 431h1v1h-1zM309 431h1v1h-1zM349 431h1v1h-1zM565 431h1v1h-1zM598 431h1v1h-1zM637 431h1v1h-1zM1220 431h1v1h-1zM43 432h1v1h-1zM83 432h6v1h-6zM92 432h2v1h-2zM118 432h3v1h-3zM132 432h1v1h-1zM166 432h1v1h-1zM308 432h1v1h-1zM349 432h1v1h-1zM564 432h1v1h-1zM599 432h1v1h-1zM636 432h1v1h-1zM1221 432h1v1h-1zM43 433h1v1h-1zM82 433h1v1h-1zM89 433h3v1h-3zM121 433h3v1h-3zM131 433h1v1h-1zM166 433h1v1h-1zM307 433h1v1h-1zM350 433h1v1h-1zM563 433h1v1h-1zM600 433h1v1h-1zM636 433h1v1h-1zM1221 433h1v1h-1zM44 434h1v1h-1zM81 434h1v1h-1zM124 434h1v1h-1zM129 434h2v1h-2zM167 434h1v1h-1zM305 434h2v1h-2zM351 434h2v1h-2zM562 434h1v1h-1zM601 434h2v1h-2zM635 434h1v1h-1zM1222 434h1v1h-1zM44 435h1v1h-1zM80 435h1v1h-1zM125 435h2v1h-2zM128 435h1v1h-1zM168 435h1v1h-1zM304 435h1v1h-1zM353 435h3v1h-3zM561 435h1v1h-1zM603 435h6v1h-6zM633 435h2v1h-2zM1223 435h1v1h-1zM45 436h1v1h-1zM78 436h2v1h-2zM127 436h1v1h-1zM169 436h1v1h-1zM303 436h1v1h-1zM356 436h2v1h-2zM560 436h1v1h-1zM609 436h3v1h-3zM632 436h1v1h-1zM1224 436h1v1h-1zM45 437h1v1h-1zM76 437h2v1h-2zM169 437h1v1h-1zM301 437h2v1h-2zM358 437h2v1h-2zM559 437h1v1h-1zM612 437h2v1h-2zM631 437h1v1h-1zM1225 437h1v1h-1zM46 438h1v1h-1zM75 438h1v1h-1zM170 438h1v1h-1zM300 438h1v1h-1zM360 438h1v1h-1zM370 438h2v1h-2zM558 438h1v1h-1zM614 438h3v1h-3zM629 438h2v1h-2zM1225 438h1v1h-1zM46 439h1v1h-1zM74 439h1v1h-1zM171 439h1v1h-1zM285 439h4v1h-4zM298 439h2v1h-2zM361 439h2v1h-2zM368 439h2v1h-2zM372 439h1v1h-1zM557 439h1v1h-1zM617 439h3v1h-3zM628 439h1v1h-1zM1226 439h1v1h-1zM47 440h1v1h-1zM73 440h1v1h-1zM172 440h1v1h-1zM278 440h7v1h-7zM289 440h4v1h-4zM296 440h2v1h-2zM363 440h5v1h-5zM373 440h1v1h-1zM556 440h1v1h-1zM620 440h2v1h-2zM625 440h3v1h-3zM1227 440h1v1h-1zM47 441h1v1h-1zM73 441h1v1h-1zM172 441h1v1h-1zM276 441h2v1h-2zM293 441h3v1h-3zM374 441h1v1h-1zM555 441h1v1h-1zM622 441h3v1h-3zM1228 441h1v1h-1zM47 442h1v1h-1zM72 442h1v1h-1zM173 442h1v1h-1zM275 442h1v1h-1zM375 442h1v1h-1zM554 442h1v1h-1zM1229 442h1v1h-1zM48 443h1v1h-1zM71 443h1v1h-1zM173 443h1v1h-1zM274 443h1v1h-1zM376 443h1v1h-1zM553 443h1v1h-1zM1230 443h1v1h-1zM48 444h1v1h-1zM71 444h1v1h-1zM174 444h1v1h-1zM273 444h1v1h-1zM377 444h1v1h-1zM552 444h1v1h-1zM1231 444h1v1h-1zM49 445h1v1h-1zM70 445h1v1h-1zM174 445h1v1h-1zM272 445h1v1h-1zM378 445h1v1h-1zM551 445h1v1h-1zM1232 445h2v1h-2zM49 446h1v1h-1zM70 446h1v1h-1zM175 446h1v1h-1zM271 446h1v1h-1zM379 446h1v1h-1zM549 446h2v1h-2zM1234 446h2v1h-2zM49 447h1v1h-1zM69 447h1v1h-1zM176 447h1v1h-1zM269 447h2v1h-2zM380 447h2v1h-2zM548 447h1v1h-1zM1236 447h1v1h-1zM50 448h1v1h-1zM69 448h1v1h-1zM177 448h1v1h-1zM268 448h1v1h-1zM382 448h2v1h-2zM547 448h1v1h-1zM1237 448h1v1h-1zM50 449h1v1h-1zM68 449h1v1h-1zM178 449h1v1h-1zM267 449h1v1h-1zM384 449h1v1h-1zM546 449h1v1h-1zM1238 449h1v1h-1zM51 450h1v1h-1zM68 450h1v1h-1zM179 450h1v1h-1zM265 450h2v1h-2zM385 450h1v1h-1zM545 450h1v1h-1zM1239 450h1v1h-1zM1254 450h2v1h-2zM51 451h1v1h-1zM67 451h1v1h-1zM180 451h2v1h-2zM264 451h1v1h-1zM385 451h1v1h-1zM545 451h1v1h-1zM1240 451h1v1h-1zM1252 451h2v1h-2zM1256 451h1v1h-1zM52 452h1v1h-1zM66 452h1v1h-1zM182 452h2v1h-2zM263 452h1v1h-1zM386 452h1v1h-1zM544 452h1v1h-1zM1241 452h2v1h-2zM1250 452h2v1h-2zM1257 452h2v1h-2zM53 453h1v1h-1zM65 453h1v1h-1zM184 453h1v1h-1zM262 453h1v1h-1zM387 453h1v1h-1zM543 453h1v1h-1zM1243 453h2v1h-2zM1248 453h2v1h-2zM1259 453h1v1h-1zM53 454h1v1h-1zM65 454h1v1h-1zM185 454h2v1h-2zM261 454h1v1h-1zM388 454h1v1h-1zM542 454h1v1h-1zM1245 454h3v1h-3zM1260 454h1v1h-1zM54 455h1v1h-1zM64 455h1v1h-1zM187 455h1v1h-1zM260 455h1v1h-1zM389 455h2v1h-2zM541 455h1v1h-1zM1261 455h1v1h-1zM55 456h1v1h-1zM62 456h2v1h-2zM188 456h1v1h-1zM259 456h1v1h-1zM391 456h1v1h-1zM541 456h1v1h-1zM1261 456h1v1h-1zM56 457h2v1h-2zM60 457h2v1h-2zM188 457h1v1h-1zM258 457h1v1h-1zM392 457h1v1h-1zM540 457h1v1h-1zM1262 457h1v1h-1zM58 458h2v1h-2zM189 458h1v1h-1zM257 458h1v1h-1zM393 458h1v1h-1zM418 458h2v1h-2zM539 458h1v1h-1zM1263 458h1v1h-1zM190 459h1v1h-1zM256 459h1v1h-1zM394 459h1v1h-1zM416 459h2v1h-2zM420 459h1v1h-1zM537 459h2v1h-2zM1264 459h1v1h-1zM190 460h1v1h-1zM253 460h3v1h-3zM395 460h1v1h-1zM414 460h2v1h-2zM421 460h2v1h-2zM536 460h1v1h-1zM1265 460h2v1h-2zM191 461h1v1h-1zM243 461h2v1h-2zM249 461h4v1h-4zM396 461h1v1h-1zM412 461h2v1h-2zM423 461h1v1h-1zM535 461h1v1h-1zM1267 461h1v1h-1zM192 462h1v1h-1zM242 462h1v1h-1zM245 462h4v1h-4zM397 462h1v1h-1zM409 462h3v1h-3zM424 462h1v1h-1zM533 462h2v1h-2zM192 463h1v1h-1zM241 463h1v1h-1zM398 463h1v1h-1zM406 463h3v1h-3zM425 463h1v1h-1zM532 463h1v1h-1zM193 464h1v1h-1zM240 464h1v1h-1zM399 464h2v1h-2zM404 464h2v1h-2zM425 464h1v1h-1zM531 464h1v1h-1zM194 465h1v1h-1zM239 465h1v1h-1zM401 465h3v1h-3zM426 465h1v1h-1zM530 465h1v1h-1zM194 466h1v1h-1zM238 466h1v1h-1zM427 466h1v1h-1zM530 466h1v1h-1zM195 467h1v1h-1zM237 467h1v1h-1zM428 467h1v1h-1zM529 467h1v1h-1zM196 468h1v1h-1zM237 468h1v1h-1zM428 468h1v1h-1zM528 468h1v1h-1zM197 469h1v1h-1zM236 469h1v1h-1zM429 469h1v1h-1zM528 469h1v1h-1zM197 470h1v1h-1zM235 470h1v1h-1zM430 470h1v1h-1zM527 470h1v1h-1zM198 471h1v1h-1zM234 471h1v1h-1zM430 471h1v1h-1zM526 471h1v1h-1zM199 472h1v1h-1zM233 472h1v1h-1zM431 472h1v1h-1zM525 472h1v1h-1zM200 473h1v1h-1zM233 473h1v1h-1zM432 473h1v1h-1zM525 473h1v1h-1zM201 474h2v1h-2zM232 474h1v1h-1zM433 474h1v1h-1zM524 474h1v1h-1zM203 475h1v1h-1zM231 475h1v1h-1zM433 475h1v1h-1zM523 475h1v1h-1zM204 476h1v1h-1zM230 476h1v1h-1zM434 476h1v1h-1zM522 476h1v1h-1zM205 477h2v1h-2zM229 477h1v1h-1zM435 477h1v1h-1zM521 477h1v1h-1zM207 478h1v1h-1zM228 478h1v1h-1zM435 478h1v1h-1zM520 478h1v1h-1zM208 479h1v1h-1zM227 479h1v1h-1zM436 479h1v1h-1zM519 479h1v1h-1zM209 480h2v1h-2zM226 480h1v1h-1zM436 480h1v1h-1zM518 480h1v1h-1zM211 481h1v1h-1zM226 481h1v1h-1zM436 481h1v1h-1zM517 481h1v1h-1zM212 482h2v1h-2zM225 482h1v1h-1zM437 482h1v1h-1zM517 482h1v1h-1zM214 483h3v1h-3zM224 483h1v1h-1zM437 483h1v1h-1zM516 483h1v1h-1zM217 484h4v1h-4zM224 484h1v1h-1zM438 484h1v1h-1zM515 484h1v1h-1zM221 485h3v1h-3zM438 485h1v1h-1zM514 485h1v1h-1zM438 486h1v1h-1zM513 486h1v1h-1zM439 487h1v1h-1zM485 487h3v1h-3zM512 487h1v1h-1zM439 488h1v1h-1zM482 488h3v1h-3zM488 488h1v1h-1zM501 488h4v1h-4zM509 488h3v1h-3zM440 489h1v1h-1zM480 489h2v1h-2zM489 489h2v1h-2zM493 489h8v1h-8zM505 489h4v1h-4zM440 490h1v1h-1zM479 490h1v1h-1zM491 490h2v1h-2zM441 491h1v1h-1zM478 491h1v1h-1zM441 492h1v1h-1zM477 492h1v1h-1zM442 493h1v1h-1zM477 493h1v1h-1zM442 494h1v1h-1zM476 494h1v1h-1zM443 495h1v1h-1zM474 495h2v1h-2zM444 496h1v1h-1zM472 496h2v1h-2zM444 497h1v1h-1zM471 497h1v1h-1zM445 498h1v1h-1zM470 498h1v1h-1zM446 499h1v1h-1zM470 499h1v1h-1zM446 500h1v1h-1zM469 500h1v1h-1zM447 501h1v1h-1zM469 501h1v1h-1zM448 502h1v1h-1zM468 502h1v1h-1zM449 503h1v1h-1zM468 503h1v1h-1zM450 504h1v1h-1zM467 504h1v1h-1zM451 505h1v1h-1zM465 505h2v1h-2zM452 506h1v1h-1zM464 506h1v1h-1zM453 507h1v1h-1zM462 507h2v1h-2zM454 508h1v1h-1zM460 508h2v1h-2zM455 509h5v1h-5z" fill="#ffa500"/>
<rect x="2" y="24" width="1" height="506" fill="#000"/>
<rect x="3" y="349" width="1593" height="2" fill="#ff0000"/>
<rect x="3" y="388" width="1593" height="2" fill="#ff0000"/>
<rect x="3" y="420" width="1593" height="2" fill="#00ff00"/>
<rect x="3" y="464" width="1593" height="2" fill="#0000ff"/>
<rect x="3" y="502" width="1593" height="2" fill="#0000ff"/>
<rect x="2" y="500" width="6" height="6" fill="#0000ff"/><rect x="4" y="502" width="2" height="2" fill="#fff"/>
<rect x="1589" y="500" width="6" height="6" fill="#0000ff"/><rect x="1591" y="502" width="2" height="2" fill="#fff"/>
<path d="M1271 25 H1280 L1275.5 29.5 Z" fill="#c0c0c0" shape-rendering="auto"/>
<rect x="1596" y="31" width="2" height="1" fill="#000"/>
<text x="1601" y="35" font-size="9.6" fill="#000" textLength="32" lengthAdjust="spacingAndGlyphs">1.47340</text>
<rect x="1596" y="64" width="2" height="1" fill="#000"/>
<text x="1601" y="68" font-size="9.6" fill="#000" textLength="32" lengthAdjust="spacingAndGlyphs">1.46115</text>
<rect x="1596" y="97" width="2" height="1" fill="#000"/>
<text x="1601" y="101" font-size="9.6" fill="#000" textLength="32" lengthAdjust="spacingAndGlyphs">1.44890</text>
<rect x="1596" y="130" width="2" height="1" fill="#000"/>
<text x="1601" y="134" font-size="9.6" fill="#000" textLength="32" lengthAdjust="spacingAndGlyphs">1.43700</text>
<rect x="1596" y="163" width="2" height="1" fill="#000"/>
<text x="1601" y="167" font-size="9.6" fill="#000" textLength="32" lengthAdjust="spacingAndGlyphs">1.42475</text>
<rect x="1596" y="196" width="2" height="1" fill="#000"/>
<text x="1601" y="200" font-size="9.6" fill="#000" textLength="32" lengthAdjust="spacingAndGlyphs">1.41285</text>
<rect x="1596" y="229" width="2" height="1" fill="#000"/>
<text x="1601" y="233" font-size="9.6" fill="#000" textLength="32" lengthAdjust="spacingAndGlyphs">1.40060</text>
<rect x="1596" y="262" width="2" height="1" fill="#000"/>
<text x="1601" y="266" font-size="9.6" fill="#000" textLength="32" lengthAdjust="spacingAndGlyphs">1.38835</text>
<rect x="1596" y="295" width="2" height="1" fill="#000"/>
<text x="1601" y="299" font-size="9.6" fill="#000" textLength="32" lengthAdjust="spacingAndGlyphs">1.37645</text>
<rect x="1596" y="328" width="2" height="1" fill="#000"/>
<text x="1601" y="332" font-size="9.6" fill="#000" textLength="32" lengthAdjust="spacingAndGlyphs">1.36420</text>
<rect x="1596" y="361" width="2" height="1" fill="#000"/>
<text x="1601" y="365" font-size="9.6" fill="#000" textLength="32" lengthAdjust="spacingAndGlyphs">1.35230</text>
<rect x="1596" y="394" width="2" height="1" fill="#000"/>
<text x="1601" y="398" font-size="9.6" fill="#000" textLength="32" lengthAdjust="spacingAndGlyphs">1.34005</text>
<rect x="1596" y="427" width="2" height="1" fill="#000"/>
<text x="1601" y="431" font-size="9.6" fill="#000" textLength="32" lengthAdjust="spacingAndGlyphs">1.32780</text>
<rect x="1596" y="460" width="2" height="1" fill="#000"/>
<text x="1601" y="464" font-size="9.6" fill="#000" textLength="32" lengthAdjust="spacingAndGlyphs">1.31560</text>
<rect x="1596" y="493" width="2" height="1" fill="#000"/>
<text x="1601" y="497" font-size="9.6" fill="#000" textLength="32" lengthAdjust="spacingAndGlyphs">1.30365</text>
<rect x="1596" y="526" width="2" height="1" fill="#000"/>
<text x="1601" y="530" font-size="9.6" fill="#000" textLength="32" lengthAdjust="spacingAndGlyphs">1.29175</text>
<rect x="1597" y="465" width="40" height="11" fill="#000000"/>
<text x="1601" y="474" font-size="9.6" fill="#fff" textLength="32" lengthAdjust="spacingAndGlyphs">1.31224</text>
<rect x="1597" y="344" width="40" height="11" fill="#ff0000"/>
<text x="1601" y="353" font-size="9.6" fill="#fff" textLength="32" lengthAdjust="spacingAndGlyphs">1.35606</text>
<rect x="1597" y="383" width="40" height="11" fill="#ff0000"/>
<text x="1601" y="392" font-size="9.6" fill="#fff" textLength="32" lengthAdjust="spacingAndGlyphs">1.34206</text>
<rect x="1597" y="415" width="40" height="11" fill="#00ff00"/>
<text x="1601" y="424" font-size="9.6" fill="#fff" textLength="32" lengthAdjust="spacingAndGlyphs">1.33011</text>
<rect x="1597" y="459" width="40" height="11" fill="#0000ff"/>
<text x="1601" y="468" font-size="9.6" fill="#fff" textLength="32" lengthAdjust="spacingAndGlyphs">1.31405</text>
<rect x="1597" y="497" width="40" height="11" fill="#0000ff"/>
<text x="1601" y="506" font-size="9.6" fill="#fff" textLength="32" lengthAdjust="spacingAndGlyphs">1.30022</text>
<path d="M6 31 L13 31 L9.5 35 Z" fill="#000" shape-rendering="auto"/>
<text x="19" y="36" font-size="9.6" fill="#000" textLength="65" lengthAdjust="spacingAndGlyphs">USDCAD,Daily</text>
<text x="90" y="36" font-size="9.6" fill="#000" textLength="141" lengthAdjust="spacingAndGlyphs">1.31112 1.31405 1.31025 1.31224</text>
<text x="7" y="544" font-size="9.6" fill="#000" textLength="68" lengthAdjust="spacingAndGlyphs">RSI(14) 33.0726</text>
<line x1="4" y1="559.5" x2="1595" y2="559.5" stroke="#c0c0c0" stroke-dasharray="3,3"/>
<line x1="4" y1="595.5" x2="1595" y2="595.5" stroke="#c0c0c0" stroke-dasharray="3,3"/>
<rect x="1596" y="533" width="2" height="1" fill="#000"/>
<text x="1599.5" y="542" font-size="9.6" fill="#000" transform="translate(1599.5 0) scale(0.95 1) translate(-1599.5 0)">100</text>
<text x="1599.5" y="563" font-size="9.6" fill="#000" transform="translate(1599.5 0) scale(0.95 1) translate(-1599.5 0)">70</text>
<text x="1599.5" y="599" font-size="9.6" fill="#000" transform="translate(1599.5 0) scale(0.95 1) translate(-1599.5 0)">30</text>
<text x="1599.5" y="620" font-size="9.6" fill="#000" transform="translate(1599.5 0) scale(0.95 1) translate(-1599.5 0)">0</text>
<text x="7" y="638" font-size="9.6" fill="#000" textLength="154" lengthAdjust="spacingAndGlyphs">MACD(12,26,9) -0.007026 -0.007041</text>
<text x="1599" y="636" font-size="9.6" fill="#000" transform="translate(1599 0) scale(0.92 1) translate(-1599 0)">0.032972</text>
<rect x="1596" y="685" width="2" height="1" fill="#000"/>
<text x="1599" y="689" font-size="9.6" fill="#000" transform="translate(1599 0) scale(0.92 1) translate(-1599 0)">0.00</text>
<rect x="1596" y="716" width="2" height="1" fill="#000"/>
<text x="1599" y="714" font-size="9.6" fill="#000" transform="translate(1599 0) scale(0.92 1) translate(-1599 0)">-0.018154</text>
<path d="M707 543h1v1h-1zM706 544h1v1h-1zM708 544h1v1h-1zM691 545h1v1h-1zM705 545h1v1h-1zM709 545h1v1h-1zM689 546h2v1h-2zM692 546h1v1h-1zM704 546h1v1h-1zM710 546h1v1h-1zM679 547h1v1h-1zM688 547h1v1h-1zM692 547h1v1h-1zM703 547h1v1h-1zM711 547h1v1h-1zM679 548h2v1h-2zM687 548h1v1h-1zM693 548h1v1h-1zM702 548h1v1h-1zM712 548h1v1h-1zM678 549h1v1h-1zM681 549h1v1h-1zM685 549h2v1h-2zM693 549h1v1h-1zM701 549h1v1h-1zM712 549h1v1h-1zM678 550h1v1h-1zM682 550h1v1h-1zM684 550h1v1h-1zM694 550h1v1h-1zM700 550h1v1h-1zM713 550h1v1h-1zM722 550h2v1h-2zM677 551h1v1h-1zM683 551h1v1h-1zM694 551h1v1h-1zM697 551h3v1h-3zM714 551h1v1h-1zM720 551h2v1h-2zM724 551h1v1h-1zM578 552h2v1h-2zM677 552h1v1h-1zM695 552h2v1h-2zM714 552h1v1h-1zM717 552h3v1h-3zM725 552h1v1h-1zM576 553h2v1h-2zM579 553h1v1h-1zM643 553h1v1h-1zM677 553h1v1h-1zM715 553h2v1h-2zM725 553h1v1h-1zM561 554h15v1h-15zM580 554h1v1h-1zM642 554h1v1h-1zM644 554h1v1h-1zM676 554h1v1h-1zM726 554h1v1h-1zM557 555h4v1h-4zM580 555h1v1h-1zM641 555h1v1h-1zM645 555h1v1h-1zM676 555h1v1h-1zM727 555h1v1h-1zM555 556h2v1h-2zM581 556h1v1h-1zM641 556h1v1h-1zM645 556h1v1h-1zM675 556h1v1h-1zM728 556h1v1h-1zM554 557h1v1h-1zM581 557h1v1h-1zM640 557h1v1h-1zM646 557h1v1h-1zM675 557h1v1h-1zM728 557h1v1h-1zM553 558h1v1h-1zM581 558h1v1h-1zM639 558h1v1h-1zM647 558h1v1h-1zM675 558h1v1h-1zM729 558h1v1h-1zM552 559h1v1h-1zM582 559h1v1h-1zM638 559h1v1h-1zM648 559h1v1h-1zM674 559h1v1h-1zM729 559h1v1h-1zM542 560h10v1h-10zM582 560h1v1h-1zM638 560h1v1h-1zM649 560h2v1h-2zM674 560h1v1h-1zM730 560h1v1h-1zM540 561h2v1h-2zM583 561h1v1h-1zM637 561h1v1h-1zM651 561h1v1h-1zM666 561h2v1h-2zM673 561h1v1h-1zM730 561h1v1h-1zM539 562h1v1h-1zM583 562h1v1h-1zM637 562h1v1h-1zM651 562h1v1h-1zM664 562h2v1h-2zM668 562h1v1h-1zM673 562h1v1h-1zM731 562h1v1h-1zM537 563h2v1h-2zM584 563h1v1h-1zM636 563h1v1h-1zM652 563h1v1h-1zM661 563h3v1h-3zM669 563h1v1h-1zM672 563h1v1h-1zM731 563h1v1h-1zM299 564h1v1h-1zM313 564h3v1h-3zM536 564h1v1h-1zM584 564h1v1h-1zM636 564h1v1h-1zM652 564h1v1h-1zM659 564h2v1h-2zM670 564h1v1h-1zM672 564h1v1h-1zM732 564h1v1h-1zM277 565h3v1h-3zM299 565h2v1h-2zM309 565h4v1h-4zM316 565h1v1h-1zM531 565h5v1h-5zM585 565h1v1h-1zM634 565h2v1h-2zM653 565h1v1h-1zM658 565h1v1h-1zM671 565h1v1h-1zM732 565h1v1h-1zM274 566h3v1h-3zM280 566h1v1h-1zM298 566h1v1h-1zM301 566h1v1h-1zM306 566h3v1h-3zM317 566h2v1h-2zM530 566h1v1h-1zM586 566h1v1h-1zM632 566h2v1h-2zM653 566h1v1h-1zM658 566h1v1h-1zM732 566h1v1h-1zM137 567h3v1h-3zM272 567h2v1h-2zM280 567h1v1h-1zM298 567h1v1h-1zM302 567h1v1h-1zM304 567h2v1h-2zM319 567h1v1h-1zM519 567h1v1h-1zM529 567h1v1h-1zM586 567h1v1h-1zM631 567h1v1h-1zM654 567h1v1h-1zM657 567h1v1h-1zM733 567h1v1h-1zM133 568h4v1h-4zM140 568h2v1h-2zM261 568h3v1h-3zM271 568h1v1h-1zM281 568h1v1h-1zM297 568h1v1h-1zM303 568h1v1h-1zM320 568h1v1h-1zM338 568h2v1h-2zM518 568h1v1h-1zM520 568h1v1h-1zM528 568h1v1h-1zM587 568h1v1h-1zM594 568h2v1h-2zM629 568h2v1h-2zM654 568h1v1h-1zM656 568h1v1h-1zM733 568h1v1h-1zM29 569h3v1h-3zM131 569h2v1h-2zM142 569h2v1h-2zM151 569h1v1h-1zM259 569h2v1h-2zM264 569h1v1h-1zM269 569h2v1h-2zM281 569h1v1h-1zM297 569h1v1h-1zM321 569h2v1h-2zM325 569h3v1h-3zM336 569h2v1h-2zM340 569h1v1h-1zM517 569h1v1h-1zM521 569h1v1h-1zM526 569h2v1h-2zM588 569h2v1h-2zM592 569h2v1h-2zM596 569h1v1h-1zM628 569h1v1h-1zM655 569h2v1h-2zM733 569h1v1h-1zM23 570h6v1h-6zM31 570h1v1h-1zM131 570h1v1h-1zM144 570h1v1h-1zM150 570h1v1h-1zM152 570h1v1h-1zM258 570h1v1h-1zM265 570h2v1h-2zM268 570h1v1h-1zM282 570h1v1h-1zM287 570h1v1h-1zM296 570h1v1h-1zM323 570h2v1h-2zM328 570h2v1h-2zM333 570h3v1h-3zM341 570h2v1h-2zM516 570h1v1h-1zM522 570h1v1h-1zM524 570h2v1h-2zM590 570h2v1h-2zM597 570h2v1h-2zM627 570h1v1h-1zM655 570h1v1h-1zM734 570h1v1h-1zM755 570h1v1h-1zM823 570h1v1h-1zM21 571h2v1h-2zM32 571h1v1h-1zM130 571h1v1h-1zM145 571h1v1h-1zM149 571h1v1h-1zM153 571h2v1h-2zM258 571h1v1h-1zM267 571h1v1h-1zM282 571h1v1h-1zM285 571h2v1h-2zM288 571h1v1h-1zM296 571h1v1h-1zM330 571h3v1h-3zM343 571h1v1h-1zM515 571h1v1h-1zM523 571h1v1h-1zM599 571h1v1h-1zM607 571h1v1h-1zM627 571h1v1h-1zM734 571h1v1h-1zM747 571h1v1h-1zM753 571h2v1h-2zM756 571h1v1h-1zM822 571h1v1h-1zM824 571h1v1h-1zM11 572h2v1h-2zM20 572h1v1h-1zM32 572h1v1h-1zM70 572h2v1h-2zM83 572h1v1h-1zM130 572h1v1h-1zM146 572h1v1h-1zM148 572h1v1h-1zM155 572h1v1h-1zM257 572h1v1h-1zM283 572h2v1h-2zM289 572h1v1h-1zM295 572h1v1h-1zM343 572h1v1h-1zM514 572h1v1h-1zM600 572h1v1h-1zM605 572h2v1h-2zM608 572h1v1h-1zM626 572h1v1h-1zM734 572h1v1h-1zM746 572h1v1h-1zM748 572h2v1h-2zM752 572h1v1h-1zM757 572h2v1h-2zM765 572h3v1h-3zM805 572h3v1h-3zM821 572h1v1h-1zM825 572h1v1h-1zM3 573h1v1h-1zM9 573h2v1h-2zM13 573h7v1h-7zM32 573h1v1h-1zM68 573h2v1h-2zM72 573h1v1h-1zM82 573h1v1h-1zM84 573h1v1h-1zM106 573h2v1h-2zM130 573h1v1h-1zM147 573h1v1h-1zM156 573h1v1h-1zM257 573h1v1h-1zM283 573h1v1h-1zM289 573h1v1h-1zM293 573h2v1h-2zM344 573h1v1h-1zM514 573h1v1h-1zM601 573h2v1h-2zM604 573h1v1h-1zM609 573h2v1h-2zM626 573h1v1h-1zM735 573h1v1h-1zM737 573h3v1h-3zM746 573h1v1h-1zM750 573h2v1h-2zM759 573h6v1h-6zM768 573h2v1h-2zM803 573h2v1h-2zM808 573h1v1h-1zM821 573h1v1h-1zM826 573h1v1h-1zM875 573h1v1h-1zM1050 573h2v1h-2zM4 574h2v1h-2zM8 574h1v1h-1zM33 574h1v1h-1zM67 574h1v1h-1zM73 574h1v1h-1zM81 574h1v1h-1zM85 574h2v1h-2zM89 574h12v1h-12zM104 574h2v1h-2zM108 574h2v1h-2zM129 574h1v1h-1zM156 574h1v1h-1zM256 574h1v1h-1zM290 574h1v1h-1zM292 574h1v1h-1zM344 574h1v1h-1zM513 574h1v1h-1zM603 574h1v1h-1zM611 574h1v1h-1zM626 574h1v1h-1zM735 574h2v1h-2zM740 574h1v1h-1zM745 574h1v1h-1zM770 574h2v1h-2zM803 574h1v1h-1zM809 574h1v1h-1zM820 574h1v1h-1zM827 574h1v1h-1zM859 574h1v1h-1zM874 574h1v1h-1zM876 574h1v1h-1zM899 574h2v1h-2zM905 574h7v1h-7zM1048 574h2v1h-2zM1052 574h1v1h-1zM1058 574h2v1h-2zM6 575h2v1h-2zM33 575h1v1h-1zM66 575h1v1h-1zM73 575h1v1h-1zM80 575h1v1h-1zM87 575h2v1h-2zM101 575h3v1h-3zM110 575h2v1h-2zM129 575h1v1h-1zM157 575h1v1h-1zM227 575h1v1h-1zM250 575h3v1h-3zM256 575h1v1h-1zM291 575h1v1h-1zM345 575h1v1h-1zM355 575h2v1h-2zM513 575h1v1h-1zM612 575h2v1h-2zM625 575h1v1h-1zM741 575h1v1h-1zM745 575h1v1h-1zM772 575h1v1h-1zM802 575h1v1h-1zM809 575h1v1h-1zM818 575h2v1h-2zM828 575h1v1h-1zM834 575h6v1h-6zM859 575h3v1h-3zM865 575h3v1h-3zM873 575h1v1h-1zM876 575h1v1h-1zM898 575h1v1h-1zM901 575h4v1h-4zM912 575h1v1h-1zM1047 575h1v1h-1zM1053 575h2v1h-2zM1056 575h2v1h-2zM1060 575h1v1h-1zM34 576h1v1h-1zM66 576h1v1h-1zM74 576h1v1h-1zM77 576h3v1h-3zM112 576h1v1h-1zM129 576h1v1h-1zM157 576h1v1h-1zM227 576h2v1h-2zM248 576h2v1h-2zM253 576h3v1h-3zM345 576h1v1h-1zM355 576h1v1h-1zM357 576h3v1h-3zM471 576h1v1h-1zM512 576h1v1h-1zM614 576h2v1h-2zM625 576h1v1h-1zM741 576h1v1h-1zM744 576h1v1h-1zM772 576h1v1h-1zM802 576h1v1h-1zM810 576h1v1h-1zM816 576h2v1h-2zM829 576h2v1h-2zM832 576h2v1h-2zM840 576h1v1h-1zM858 576h1v1h-1zM862 576h3v1h-3zM868 576h1v1h-1zM873 576h1v1h-1zM877 576h1v1h-1zM897 576h1v1h-1zM912 576h1v1h-1zM1046 576h1v1h-1zM1055 576h1v1h-1zM1060 576h1v1h-1zM34 577h1v1h-1zM65 577h1v1h-1zM75 577h2v1h-2zM113 577h2v1h-2zM128 577h1v1h-1zM158 577h1v1h-1zM227 577h1v1h-1zM229 577h1v1h-1zM246 577h2v1h-2zM345 577h1v1h-1zM354 577h1v1h-1zM360 577h1v1h-1zM471 577h2v1h-2zM512 577h1v1h-1zM616 577h2v1h-2zM624 577h1v1h-1zM742 577h1v1h-1zM744 577h1v1h-1zM773 577h1v1h-1zM801 577h1v1h-1zM811 577h5v1h-5zM831 577h1v1h-1zM841 577h2v1h-2zM858 577h1v1h-1zM869 577h2v1h-2zM872 577h1v1h-1zM877 577h1v1h-1zM891 577h2v1h-2zM896 577h1v1h-1zM913 577h1v1h-1zM931 577h1v1h-1zM1045 577h1v1h-1zM1061 577h1v1h-1zM1111 577h1v1h-1zM34 578h1v1h-1zM64 578h1v1h-1zM115 578h2v1h-2zM121 578h3v1h-3zM128 578h1v1h-1zM158 578h1v1h-1zM226 578h1v1h-1zM230 578h1v1h-1zM244 578h2v1h-2zM346 578h1v1h-1zM354 578h1v1h-1zM361 578h1v1h-1zM470 578h1v1h-1zM472 578h1v1h-1zM510 578h2v1h-2zM618 578h2v1h-2zM624 578h1v1h-1zM743 578h1v1h-1zM774 578h1v1h-1zM778 578h3v1h-3zM801 578h1v1h-1zM843 578h1v1h-1zM857 578h1v1h-1zM871 578h1v1h-1zM878 578h1v1h-1zM890 578h1v1h-1zM893 578h3v1h-3zM913 578h1v1h-1zM930 578h1v1h-1zM932 578h2v1h-2zM1045 578h1v1h-1zM1061 578h1v1h-1zM1110 578h1v1h-1zM1112 578h1v1h-1zM35 579h1v1h-1zM64 579h1v1h-1zM117 579h4v1h-4zM124 579h1v1h-1zM128 579h1v1h-1zM159 579h1v1h-1zM226 579h1v1h-1zM231 579h13v1h-13zM346 579h1v1h-1zM354 579h1v1h-1zM362 579h1v1h-1zM365 579h3v1h-3zM470 579h1v1h-1zM473 579h1v1h-1zM486 579h2v1h-2zM501 579h4v1h-4zM508 579h2v1h-2zM620 579h1v1h-1zM624 579h1v1h-1zM774 579h1v1h-1zM776 579h2v1h-2zM781 579h4v1h-4zM801 579h1v1h-1zM844 579h2v1h-2zM857 579h1v1h-1zM878 579h1v1h-1zM889 579h1v1h-1zM914 579h1v1h-1zM929 579h1v1h-1zM934 579h3v1h-3zM1044 579h1v1h-1zM1062 579h1v1h-1zM1097 579h7v1h-7zM1109 579h1v1h-1zM1112 579h1v1h-1zM1123 579h5v1h-5zM35 580h5v1h-5zM61 580h3v1h-3zM125 580h3v1h-3zM159 580h1v1h-1zM226 580h1v1h-1zM347 580h1v1h-1zM353 580h1v1h-1zM363 580h2v1h-2zM368 580h2v1h-2zM469 580h1v1h-1zM473 580h1v1h-1zM479 580h2v1h-2zM484 580h2v1h-2zM488 580h1v1h-1zM498 580h3v1h-3zM505 580h3v1h-3zM621 580h3v1h-3zM775 580h1v1h-1zM785 580h11v1h-11zM800 580h1v1h-1zM846 580h2v1h-2zM857 580h1v1h-1zM879 580h1v1h-1zM889 580h1v1h-1zM914 580h1v1h-1zM928 580h1v1h-1zM937 580h3v1h-3zM1043 580h1v1h-1zM1062 580h1v1h-1zM1087 580h1v1h-1zM1095 580h2v1h-2zM1104 580h2v1h-2zM1108 580h1v1h-1zM1113 580h1v1h-1zM1121 580h2v1h-2zM1128 580h1v1h-1zM40 581h1v1h-1zM59 581h2v1h-2zM127 581h1v1h-1zM160 581h1v1h-1zM171 581h1v1h-1zM226 581h1v1h-1zM347 581h1v1h-1zM353 581h1v1h-1zM370 581h2v1h-2zM469 581h1v1h-1zM474 581h1v1h-1zM478 581h1v1h-1zM481 581h3v1h-3zM489 581h2v1h-2zM496 581h2v1h-2zM623 581h1v1h-1zM796 581h1v1h-1zM800 581h1v1h-1zM848 581h1v1h-1zM856 581h1v1h-1zM879 581h1v1h-1zM888 581h1v1h-1zM915 581h1v1h-1zM926 581h2v1h-2zM940 581h1v1h-1zM1006 581h6v1h-6zM1025 581h7v1h-7zM1042 581h1v1h-1zM1063 581h2v1h-2zM1069 581h4v1h-4zM1086 581h1v1h-1zM1088 581h1v1h-1zM1093 581h2v1h-2zM1106 581h2v1h-2zM1113 581h1v1h-1zM1120 581h1v1h-1zM1129 581h1v1h-1zM1195 581h2v1h-2zM40 582h1v1h-1zM58 582h1v1h-1zM160 582h1v1h-1zM170 582h1v1h-1zM172 582h1v1h-1zM225 582h1v1h-1zM348 582h1v1h-1zM353 582h1v1h-1zM372 582h1v1h-1zM405 582h7v1h-7zM468 582h1v1h-1zM474 582h1v1h-1zM477 582h1v1h-1zM491 582h5v1h-5zM797 582h3v1h-3zM849 582h2v1h-2zM856 582h1v1h-1zM880 582h2v1h-2zM885 582h3v1h-3zM916 582h1v1h-1zM924 582h2v1h-2zM940 582h1v1h-1zM1004 582h2v1h-2zM1012 582h1v1h-1zM1022 582h3v1h-3zM1032 582h1v1h-1zM1042 582h1v1h-1zM1065 582h4v1h-4zM1073 582h7v1h-7zM1085 582h1v1h-1zM1089 582h2v1h-2zM1092 582h1v1h-1zM1114 582h1v1h-1zM1118 582h2v1h-2zM1130 582h1v1h-1zM1167 582h1v1h-1zM1195 582h1v1h-1zM1197 582h3v1h-3zM41 583h1v1h-1zM58 583h1v1h-1zM161 583h1v1h-1zM170 583h1v1h-1zM173 583h1v1h-1zM225 583h1v1h-1zM348 583h1v1h-1zM352 583h1v1h-1zM373 583h1v1h-1zM378 583h2v1h-2zM403 583h2v1h-2zM412 583h2v1h-2zM417 583h3v1h-3zM468 583h1v1h-1zM475 583h2v1h-2zM799 583h1v1h-1zM851 583h2v1h-2zM855 583h1v1h-1zM882 583h3v1h-3zM917 583h1v1h-1zM922 583h2v1h-2zM941 583h1v1h-1zM1001 583h3v1h-3zM1013 583h2v1h-2zM1020 583h2v1h-2zM1033 583h1v1h-1zM1041 583h1v1h-1zM1080 583h2v1h-2zM1084 583h1v1h-1zM1091 583h1v1h-1zM1114 583h1v1h-1zM1116 583h2v1h-2zM1131 583h1v1h-1zM1167 583h2v1h-2zM1194 583h1v1h-1zM1200 583h2v1h-2zM41 584h1v1h-1zM57 584h1v1h-1zM161 584h1v1h-1zM169 584h1v1h-1zM174 584h1v1h-1zM225 584h1v1h-1zM349 584h1v1h-1zM352 584h1v1h-1zM374 584h1v1h-1zM376 584h2v1h-2zM380 584h2v1h-2zM402 584h1v1h-1zM414 584h3v1h-3zM420 584h1v1h-1zM467 584h1v1h-1zM475 584h1v1h-1zM853 584h3v1h-3zM918 584h1v1h-1zM920 584h2v1h-2zM941 584h1v1h-1zM999 584h2v1h-2zM1015 584h5v1h-5zM1034 584h1v1h-1zM1041 584h1v1h-1zM1082 584h2v1h-2zM1115 584h1v1h-1zM1132 584h1v1h-1zM1166 584h1v1h-1zM1169 584h1v1h-1zM1179 584h1v1h-1zM1194 584h1v1h-1zM1202 584h2v1h-2zM42 585h1v1h-1zM57 585h1v1h-1zM161 585h1v1h-1zM169 585h1v1h-1zM175 585h5v1h-5zM225 585h1v1h-1zM350 585h1v1h-1zM352 585h1v1h-1zM375 585h1v1h-1zM382 585h2v1h-2zM402 585h1v1h-1zM420 585h1v1h-1zM467 585h1v1h-1zM919 585h1v1h-1zM942 585h1v1h-1zM999 585h1v1h-1zM1035 585h1v1h-1zM1040 585h1v1h-1zM1132 585h1v1h-1zM1166 585h1v1h-1zM1169 585h1v1h-1zM1177 585h2v1h-2zM1180 585h1v1h-1zM1193 585h1v1h-1zM1204 585h1v1h-1zM42 586h1v1h-1zM45 586h3v1h-3zM56 586h1v1h-1zM162 586h1v1h-1zM168 586h1v1h-1zM180 586h1v1h-1zM224 586h1v1h-1zM350 586h2v1h-2zM384 586h1v1h-1zM401 586h1v1h-1zM421 586h1v1h-1zM465 586h2v1h-2zM942 586h1v1h-1zM955 586h2v1h-2zM998 586h1v1h-1zM1036 586h2v1h-2zM1040 586h1v1h-1zM1133 586h1v1h-1zM1165 586h1v1h-1zM1170 586h1v1h-1zM1176 586h1v1h-1zM1181 586h2v1h-2zM1193 586h1v1h-1zM1205 586h2v1h-2zM1251 586h1v1h-1zM43 587h2v1h-2zM48 587h1v1h-1zM56 587h1v1h-1zM162 587h1v1h-1zM168 587h1v1h-1zM181 587h1v1h-1zM224 587h1v1h-1zM351 587h1v1h-1zM385 587h1v1h-1zM390 587h2v1h-2zM400 587h1v1h-1zM422 587h1v1h-1zM464 587h1v1h-1zM943 587h2v1h-2zM953 587h2v1h-2zM957 587h3v1h-3zM998 587h1v1h-1zM1038 587h2v1h-2zM1134 587h1v1h-1zM1147 587h2v1h-2zM1165 587h1v1h-1zM1171 587h5v1h-5zM1183 587h1v1h-1zM1192 587h1v1h-1zM1207 587h1v1h-1zM1221 587h3v1h-3zM1250 587h1v1h-1zM1252 587h2v1h-2zM49 588h2v1h-2zM53 588h3v1h-3zM163 588h1v1h-1zM165 588h3v1h-3zM181 588h1v1h-1zM224 588h1v1h-1zM386 588h1v1h-1zM388 588h2v1h-2zM392 588h1v1h-1zM400 588h1v1h-1zM422 588h1v1h-1zM463 588h1v1h-1zM945 588h4v1h-4zM952 588h1v1h-1zM960 588h1v1h-1zM998 588h1v1h-1zM1134 588h1v1h-1zM1146 588h1v1h-1zM1149 588h3v1h-3zM1164 588h1v1h-1zM1184 588h1v1h-1zM1192 588h1v1h-1zM1208 588h1v1h-1zM1219 588h2v1h-2zM1224 588h1v1h-1zM1249 588h1v1h-1zM1254 588h2v1h-2zM51 589h2v1h-2zM163 589h2v1h-2zM182 589h1v1h-1zM224 589h1v1h-1zM387 589h1v1h-1zM393 589h1v1h-1zM399 589h1v1h-1zM423 589h1v1h-1zM463 589h1v1h-1zM949 589h3v1h-3zM960 589h1v1h-1zM997 589h1v1h-1zM1135 589h1v1h-1zM1146 589h1v1h-1zM1152 589h2v1h-2zM1164 589h1v1h-1zM1184 589h1v1h-1zM1191 589h1v1h-1zM1209 589h2v1h-2zM1218 589h1v1h-1zM1225 589h1v1h-1zM1243 589h2v1h-2zM1248 589h1v1h-1zM1256 589h1v1h-1zM183 590h2v1h-2zM223 590h1v1h-1zM393 590h1v1h-1zM397 590h2v1h-2zM424 590h1v1h-1zM462 590h1v1h-1zM961 590h1v1h-1zM997 590h1v1h-1zM1136 590h2v1h-2zM1145 590h1v1h-1zM1154 590h3v1h-3zM1161 590h3v1h-3zM1185 590h1v1h-1zM1191 590h1v1h-1zM1211 590h1v1h-1zM1217 590h1v1h-1zM1226 590h1v1h-1zM1241 590h2v1h-2zM1245 590h3v1h-3zM1257 590h1v1h-1zM185 591h7v1h-7zM223 591h1v1h-1zM394 591h1v1h-1zM396 591h1v1h-1zM425 591h2v1h-2zM462 591h1v1h-1zM961 591h1v1h-1zM997 591h1v1h-1zM1138 591h2v1h-2zM1145 591h1v1h-1zM1157 591h4v1h-4zM1185 591h1v1h-1zM1190 591h1v1h-1zM1212 591h2v1h-2zM1216 591h1v1h-1zM1227 591h2v1h-2zM1240 591h1v1h-1zM1258 591h1v1h-1zM192 592h1v1h-1zM222 592h2v1h-2zM395 592h1v1h-1zM427 592h1v1h-1zM461 592h1v1h-1zM962 592h1v1h-1zM997 592h1v1h-1zM1140 592h1v1h-1zM1144 592h1v1h-1zM1186 592h1v1h-1zM1189 592h1v1h-1zM1214 592h2v1h-2zM1229 592h11v1h-11zM1259 592h1v1h-1zM1266 592h2v1h-2zM193 593h2v1h-2zM202 593h2v1h-2zM220 593h2v1h-2zM428 593h2v1h-2zM461 593h1v1h-1zM962 593h1v1h-1zM996 593h1v1h-1zM1141 593h2v1h-2zM1144 593h1v1h-1zM1186 593h1v1h-1zM1188 593h1v1h-1zM1260 593h2v1h-2zM1264 593h2v1h-2zM195 594h2v1h-2zM200 594h2v1h-2zM204 594h2v1h-2zM218 594h2v1h-2zM430 594h3v1h-3zM460 594h1v1h-1zM963 594h1v1h-1zM996 594h1v1h-1zM1143 594h1v1h-1zM1187 594h1v1h-1zM1262 594h2v1h-2zM197 595h3v1h-3zM206 595h3v1h-3zM216 595h2v1h-2zM433 595h3v1h-3zM460 595h1v1h-1zM964 595h1v1h-1zM991 595h1v1h-1zM996 595h1v1h-1zM209 596h7v1h-7zM436 596h1v1h-1zM453 596h4v1h-4zM459 596h1v1h-1zM965 596h2v1h-2zM974 596h2v1h-2zM990 596h1v1h-1zM992 596h2v1h-2zM995 596h1v1h-1zM436 597h1v1h-1zM449 597h4v1h-4zM457 597h3v1h-3zM967 597h2v1h-2zM972 597h2v1h-2zM976 597h1v1h-1zM989 597h1v1h-1zM994 597h2v1h-2zM437 598h1v1h-1zM443 598h6v1h-6zM969 598h3v1h-3zM977 598h2v1h-2zM981 598h4v1h-4zM988 598h1v1h-1zM437 599h1v1h-1zM442 599h1v1h-1zM979 599h2v1h-2zM985 599h3v1h-3zM438 600h1v1h-1zM441 600h1v1h-1zM438 601h1v1h-1zM440 601h1v1h-1zM439 602h1v1h-1z" fill="#1e90ff"/>
<rect x="3" y="680" width="1" height="6" fill="#c0c0c0"/>
<rect x="7" y="680" width="1" height="6" fill="#c0c0c0"/>
<rect x="11" y="680" width="1" height="6" fill="#c0c0c0"/>
<rect x="15" y="681" width="1" height="5" fill="#c0c0c0"/>
<rect x="19" y="681" width="1" height="5" fill="#c0c0c0"/>
<rect x="23" y="681" width="1" height="5" fill="#c0c0c0"/>
<rect x="27" y="681" width="1" height="5" fill="#c0c0c0"/>
<rect x="31" y="681" width="1" height="5" fill="#c0c0c0"/>
<rect x="35" y="682" width="1" height="4" fill="#c0c0c0"/>
<rect x="39" y="683" width="1" height="3" fill="#c0c0c0"/>
<rect x="43" y="684" width="1" height="2" fill="#c0c0c0"/>
<rect x="47" y="685" width="1" height="2" fill="#c0c0c0"/>
<rect x="51" y="685" width="1" height="3" fill="#c0c0c0"/>
<rect x="55" y="685" width="1" height="4" fill="#c0c0c0"/>
<rect x="59" y="685" width="1" height="4" fill="#c0c0c0"/>
<rect x="63" y="685" width="1" height="4" fill="#c0c0c0"/>
<rect x="67" y="685" width="1" height="3" fill="#c0c0c0"/>
<rect x="71" y="685" width="1" height="2" fill="#c0c0c0"/>
<rect x="75" y="685" width="1" height="2" fill="#c0c0c0"/>
<rect x="79" y="685" width="1" height="2" fill="#c0c0c0"/>
<rect x="83" y="685" width="1" height="1" fill="#c0c0c0"/>
<rect x="87" y="685" width="1" height="1" fill="#c0c0c0"/>
<rect x="91" y="685" width="1" height="1" fill="#c0c0c0"/>
<rect x="95" y="684" width="1" height="2" fill="#c0c0c0"/>
<rect x="99" y="684" width="1" height="2" fill="#c0c0c0"/>
<rect x="103" y="684" width="1" height="2" fill="#c0c0c0"/>
<rect x="107" y="684" width="1" height="2" fill="#c0c0c0"/>
<rect x="111" y="684" width="1" height="2" fill="#c0c0c0"/>
<rect x="115" y="684" width="1" height="2" fill="#c0c0c0"/>
<rect x="119" y="684" width="1" height="2" fill="#c0c0c0"/>
<rect x="123" y="685" width="1" height="1" fill="#c0c0c0"/>
<rect x="127" y="685" width="1" height="1" fill="#c0c0c0"/>
<rect x="131" y="684" width="1" height="2" fill="#c0c0c0"/>
<rect x="135" y="683" width="1" height="3" fill="#c0c0c0"/>
<rect x="139" y="683" width="1" height="3" fill="#c0c0c0"/>
<rect x="143" y="682" width="1" height="4" fill="#c0c0c0"/>
<rect x="147" y="682" width="1" height="4" fill="#c0c0c0"/>
<rect x="151" y="682" width="1" height="4" fill="#c0c0c0"/>
<rect x="155" y="682" width="1" height="4" fill="#c0c0c0"/>
<rect x="159" y="682" width="1" height="4" fill="#c0c0c0"/>
<rect x="163" y="684" width="1" height="2" fill="#c0c0c0"/>
<rect x="167" y="685" width="1" height="2" fill="#c0c0c0"/>
<rect x="171" y="685" width="1" height="2" fill="#c0c0c0"/>
<rect x="175" y="685" width="1" height="3" fill="#c0c0c0"/>
<rect x="179" y="685" width="1" height="3" fill="#c0c0c0"/>
<rect x="183" y="685" width="1" height="5" fill="#c0c0c0"/>
<rect x="187" y="685" width="1" height="6" fill="#c0c0c0"/>
<rect x="191" y="685" width="1" height="6" fill="#c0c0c0"/>
<rect x="195" y="685" width="1" height="7" fill="#c0c0c0"/>
<rect x="199" y="685" width="1" height="8" fill="#c0c0c0"/>
<rect x="203" y="685" width="1" height="9" fill="#c0c0c0"/>
<rect x="207" y="685" width="1" height="9" fill="#c0c0c0"/>
<rect x="211" y="685" width="1" height="10" fill="#c0c0c0"/>
<rect x="215" y="685" width="1" height="10" fill="#c0c0c0"/>
<rect x="219" y="685" width="1" height="10" fill="#c0c0c0"/>
<rect x="223" y="685" width="1" height="10" fill="#c0c0c0"/>
<rect x="227" y="685" width="1" height="8" fill="#c0c0c0"/>
<rect x="231" y="685" width="1" height="7" fill="#c0c0c0"/>
<rect x="235" y="685" width="1" height="6" fill="#c0c0c0"/>
<rect x="239" y="685" width="1" height="6" fill="#c0c0c0"/>
<rect x="243" y="685" width="1" height="5" fill="#c0c0c0"/>
<rect x="247" y="685" width="1" height="4" fill="#c0c0c0"/>
<rect x="251" y="685" width="1" height="4" fill="#c0c0c0"/>
<rect x="255" y="685" width="1" height="3" fill="#c0c0c0"/>
<rect x="259" y="685" width="1" height="2" fill="#c0c0c0"/>
<rect x="263" y="685" width="1" height="1" fill="#c0c0c0"/>
<rect x="267" y="684" width="1" height="2" fill="#c0c0c0"/>
<rect x="271" y="684" width="1" height="2" fill="#c0c0c0"/>
<rect x="275" y="683" width="1" height="3" fill="#c0c0c0"/>
<rect x="279" y="682" width="1" height="4" fill="#c0c0c0"/>
<rect x="283" y="682" width="1" height="4" fill="#c0c0c0"/>
<rect x="287" y="682" width="1" height="4" fill="#c0c0c0"/>
<rect x="291" y="682" width="1" height="4" fill="#c0c0c0"/>
<rect x="295" y="682" width="1" height="4" fill="#c0c0c0"/>
<rect x="299" y="681" width="1" height="5" fill="#c0c0c0"/>
<rect x="303" y="681" width="1" height="5" fill="#c0c0c0"/>
<rect x="307" y="680" width="1" height="6" fill="#c0c0c0"/>
<rect x="311" y="680" width="1" height="6" fill="#c0c0c0"/>
<rect x="315" y="679" width="1" height="7" fill="#c0c0c0"/>
<rect x="319" y="679" width="1" height="7" fill="#c0c0c0"/>
<rect x="323" y="680" width="1" height="6" fill="#c0c0c0"/>
<rect x="327" y="680" width="1" height="6" fill="#c0c0c0"/>
<rect x="331" y="680" width="1" height="6" fill="#c0c0c0"/>
<rect x="335" y="680" width="1" height="6" fill="#c0c0c0"/>
<rect x="339" y="680" width="1" height="6" fill="#c0c0c0"/>
<rect x="343" y="681" width="1" height="5" fill="#c0c0c0"/>
<rect x="347" y="682" width="1" height="4" fill="#c0c0c0"/>
<rect x="351" y="683" width="1" height="3" fill="#c0c0c0"/>
<rect x="355" y="683" width="1" height="3" fill="#c0c0c0"/>
<rect x="359" y="683" width="1" height="3" fill="#c0c0c0"/>
<rect x="363" y="684" width="1" height="2" fill="#c0c0c0"/>
<rect x="367" y="684" width="1" height="2" fill="#c0c0c0"/>
<rect x="371" y="685" width="1" height="1" fill="#c0c0c0"/>
<rect x="375" y="685" width="1" height="1" fill="#c0c0c0"/>
<rect x="379" y="685" width="1" height="2" fill="#c0c0c0"/>
<rect x="383" y="685" width="1" height="3" fill="#c0c0c0"/>
<rect x="387" y="685" width="1" height="3" fill="#c0c0c0"/>
<rect x="391" y="685" width="1" height="4" fill="#c0c0c0"/>
<rect x="395" y="685" width="1" height="5" fill="#c0c0c0"/>
<rect x="399" y="685" width="1" height="6" fill="#c0c0c0"/>
<rect x="403" y="685" width="1" height="5" fill="#c0c0c0"/>
<rect x="407" y="685" width="1" height="5" fill="#c0c0c0"/>
<rect x="411" y="685" width="1" height="5" fill="#c0c0c0"/>
<rect x="415" y="685" width="1" height="5" fill="#c0c0c0"/>
<rect x="419" y="685" width="1" height="5" fill="#c0c0c0"/>
<rect x="423" y="685" width="1" height="5" fill="#c0c0c0"/>
<rect x="427" y="685" width="1" height="6" fill="#c0c0c0"/>
<rect x="431" y="685" width="1" height="7" fill="#c0c0c0"/>
<rect x="435" y="685" width="1" height="7" fill="#c0c0c0"/>
<rect x="439" y="685" width="1" height="9" fill="#c0c0c0"/>
<rect x="443" y="685" width="1" height="10" fill="#c0c0c0"/>
<rect x="447" y="685" width="1" height="11" fill="#c0c0c0"/>
<rect x="451" y="685" width="1" height="11" fill="#c0c0c0"/>
<rect x="455" y="685" width="1" height="11" fill="#c0c0c0"/>
<rect x="459" y="685" width="1" height="12" fill="#c0c0c0"/>
<rect x="463" y="685" width="1" height="11" fill="#c0c0c0"/>
<rect x="467" y="685" width="1" height="10" fill="#c0c0c0"/>
<rect x="471" y="685" width="1" height="9" fill="#c0c0c0"/>
<rect x="475" y="685" width="1" height="8" fill="#c0c0c0"/>
<rect x="479" y="685" width="1" height="7" fill="#c0c0c0"/>
<rect x="483" y="685" width="1" height="7" fill="#c0c0c0"/>
<rect x="487" y="685" width="1" height="6" fill="#c0c0c0"/>
<rect x="491" y="685" width="1" height="6" fill="#c0c0c0"/>
<rect x="495" y="685" width="1" height="5" fill="#c0c0c0"/>
<rect x="499" y="685" width="1" height="5" fill="#c0c0c0"/>
<rect x="503" y="685" width="1" height="4" fill="#c0c0c0"/>
<rect x="507" y="685" width="1" height="4" fill="#c0c0c0"/>
<rect x="511" y="685" width="1" height="4" fill="#c0c0c0"/>
<rect x="515" y="685" width="1" height="3" fill="#c0c0c0"/>
<rect x="519" y="685" width="1" height="1" fill="#c0c0c0"/>
<rect x="523" y="685" width="1" height="1" fill="#c0c0c0"/>
<rect x="527" y="684" width="1" height="2" fill="#c0c0c0"/>
<rect x="531" y="683" width="1" height="3" fill="#c0c0c0"/>
<rect x="535" y="682" width="1" height="4" fill="#c0c0c0"/>
<rect x="539" y="681" width="1" height="5" fill="#c0c0c0"/>
<rect x="543" y="680" width="1" height="6" fill="#c0c0c0"/>
<rect x="547" y="679" width="1" height="7" fill="#c0c0c0"/>
<rect x="551" y="679" width="1" height="7" fill="#c0c0c0"/>
<rect x="555" y="678" width="1" height="8" fill="#c0c0c0"/>
<rect x="559" y="677" width="1" height="9" fill="#c0c0c0"/>
<rect x="563" y="676" width="1" height="10" fill="#c0c0c0"/>
<rect x="567" y="676" width="1" height="10" fill="#c0c0c0"/>
<rect x="571" y="675" width="1" height="11" fill="#c0c0c0"/>
<rect x="575" y="675" width="1" height="11" fill="#c0c0c0"/>
<rect x="579" y="675" width="1" height="11" fill="#c0c0c0"/>
<rect x="583" y="675" width="1" height="11" fill="#c0c0c0"/>
<rect x="587" y="676" width="1" height="10" fill="#c0c0c0"/>
<rect x="591" y="677" width="1" height="9" fill="#c0c0c0"/>
<rect x="595" y="678" width="1" height="8" fill="#c0c0c0"/>
<rect x="599" y="678" width="1" height="8" fill="#c0c0c0"/>
<rect x="603" y="679" width="1" height="7" fill="#c0c0c0"/>
<rect x="607" y="680" width="1" height="6" fill="#c0c0c0"/>
<rect x="611" y="680" width="1" height="6" fill="#c0c0c0"/>
<rect x="615" y="681" width="1" height="5" fill="#c0c0c0"/>
<rect x="619" y="682" width="1" height="4" fill="#c0c0c0"/>
<rect x="623" y="682" width="1" height="4" fill="#c0c0c0"/>
<rect x="627" y="682" width="1" height="4" fill="#c0c0c0"/>
<rect x="631" y="682" width="1" height="4" fill="#c0c0c0"/>
<rect x="635" y="681" width="1" height="5" fill="#c0c0c0"/>
<rect x="639" y="680" width="1" height="6" fill="#c0c0c0"/>
<rect x="643" y="679" width="1" height="7" fill="#c0c0c0"/>
<rect x="647" y="678" width="1" height="8" fill="#c0c0c0"/>
<rect x="651" y="677" width="1" height="9" fill="#c0c0c0"/>
<rect x="655" y="678" width="1" height="8" fill="#c0c0c0"/>
<rect x="659" y="677" width="1" height="9" fill="#c0c0c0"/>
<rect x="663" y="677" width="1" height="9" fill="#c0c0c0"/>
<rect x="667" y="676" width="1" height="10" fill="#c0c0c0"/>
<rect x="671" y="676" width="1" height="10" fill="#c0c0c0"/>
<rect x="675" y="675" width="1" height="11" fill="#c0c0c0"/>
<rect x="679" y="670" width="1" height="16" fill="#c0c0c0"/>
<rect x="683" y="667" width="1" height="19" fill="#c0c0c0"/>
<rect x="687" y="663" width="1" height="23" fill="#c0c0c0"/>
<rect x="691" y="659" width="1" height="27" fill="#c0c0c0"/>
<rect x="695" y="657" width="1" height="29" fill="#c0c0c0"/>
<rect x="699" y="655" width="1" height="31" fill="#c0c0c0"/>
<rect x="703" y="650" width="1" height="36" fill="#c0c0c0"/>
<rect x="707" y="643" width="1" height="43" fill="#c0c0c0"/>
<rect x="711" y="638" width="1" height="48" fill="#c0c0c0"/>
<rect x="715" y="636" width="1" height="50" fill="#c0c0c0"/>
<rect x="719" y="635" width="1" height="51" fill="#c0c0c0"/>
<rect x="723" y="633" width="1" height="53" fill="#c0c0c0"/>
<rect x="727" y="632" width="1" height="54" fill="#c0c0c0"/>
<rect x="731" y="635" width="1" height="51" fill="#c0c0c0"/>
<rect x="735" y="641" width="1" height="45" fill="#c0c0c0"/>
<rect x="739" y="646" width="1" height="40" fill="#c0c0c0"/>
<rect x="743" y="652" width="1" height="34" fill="#c0c0c0"/>
<rect x="747" y="654" width="1" height="32" fill="#c0c0c0"/>
<rect x="751" y="657" width="1" height="29" fill="#c0c0c0"/>
<rect x="755" y="658" width="1" height="28" fill="#c0c0c0"/>
<rect x="759" y="660" width="1" height="26" fill="#c0c0c0"/>
<rect x="763" y="662" width="1" height="24" fill="#c0c0c0"/>
<rect x="767" y="664" width="1" height="22" fill="#c0c0c0"/>
<rect x="771" y="666" width="1" height="20" fill="#c0c0c0"/>
<rect x="775" y="670" width="1" height="16" fill="#c0c0c0"/>
<rect x="779" y="672" width="1" height="14" fill="#c0c0c0"/>
<rect x="783" y="675" width="1" height="11" fill="#c0c0c0"/>
<rect x="787" y="678" width="1" height="8" fill="#c0c0c0"/>
<rect x="791" y="680" width="1" height="6" fill="#c0c0c0"/>
<rect x="795" y="681" width="1" height="5" fill="#c0c0c0"/>
<rect x="799" y="683" width="1" height="3" fill="#c0c0c0"/>
<rect x="803" y="682" width="1" height="4" fill="#c0c0c0"/>
<rect x="807" y="681" width="1" height="5" fill="#c0c0c0"/>
<rect x="811" y="681" width="1" height="5" fill="#c0c0c0"/>
<rect x="815" y="682" width="1" height="4" fill="#c0c0c0"/>
<rect x="819" y="682" width="1" height="4" fill="#c0c0c0"/>
<rect x="823" y="680" width="1" height="6" fill="#c0c0c0"/>
<rect x="827" y="679" width="1" height="7" fill="#c0c0c0"/>
<rect x="831" y="680" width="1" height="6" fill="#c0c0c0"/>
<rect x="835" y="680" width="1" height="6" fill="#c0c0c0"/>
<rect x="839" y="680" width="1" height="6" fill="#c0c0c0"/>
<rect x="843" y="681" width="1" height="5" fill="#c0c0c0"/>
<rect x="847" y="683" width="1" height="3" fill="#c0c0c0"/>
<rect x="851" y="685" width="1" height="1" fill="#c0c0c0"/>
<rect x="855" y="685" width="1" height="2" fill="#c0c0c0"/>
<rect x="859" y="685" width="1" height="1" fill="#c0c0c0"/>
<rect x="863" y="685" width="1" height="1" fill="#c0c0c0"/>
<rect x="867" y="684" width="1" height="2" fill="#c0c0c0"/>
<rect x="871" y="684" width="1" height="2" fill="#c0c0c0"/>
<rect x="875" y="683" width="1" height="3" fill="#c0c0c0"/>
<rect x="879" y="685" width="1" height="1" fill="#c0c0c0"/>
<rect x="883" y="685" width="1" height="2" fill="#c0c0c0"/>
<rect x="887" y="685" width="1" height="4" fill="#c0c0c0"/>
<rect x="891" y="685" width="1" height="3" fill="#c0c0c0"/>
<rect x="895" y="685" width="1" height="3" fill="#c0c0c0"/>
<rect x="899" y="685" width="1" height="2" fill="#c0c0c0"/>
<rect x="903" y="685" width="1" height="1" fill="#c0c0c0"/>
<rect x="907" y="684" width="1" height="2" fill="#c0c0c0"/>
<rect x="911" y="683" width="1" height="3" fill="#c0c0c0"/>
<rect x="915" y="685" width="1" height="1" fill="#c0c0c0"/>
<rect x="919" y="685" width="1" height="3" fill="#c0c0c0"/>
<rect x="923" y="685" width="1" height="4" fill="#c0c0c0"/>
<rect x="927" y="685" width="1" height="5" fill="#c0c0c0"/>
<rect x="931" y="685" width="1" height="4" fill="#c0c0c0"/>
<rect x="935" y="685" width="1" height="4" fill="#c0c0c0"/>
<rect x="939" y="685" width="1" height="4" fill="#c0c0c0"/>
<rect x="943" y="685" width="1" height="6" fill="#c0c0c0"/>
<rect x="947" y="685" width="1" height="8" fill="#c0c0c0"/>
<rect x="951" y="685" width="1" height="10" fill="#c0c0c0"/>
<rect x="955" y="685" width="1" height="11" fill="#c0c0c0"/>
<rect x="959" y="685" width="1" height="12" fill="#c0c0c0"/>
<rect x="963" y="685" width="1" height="15" fill="#c0c0c0"/>
<rect x="967" y="685" width="1" height="18" fill="#c0c0c0"/>
<rect x="971" y="685" width="1" height="21" fill="#c0c0c0"/>
<rect x="975" y="685" width="1" height="22" fill="#c0c0c0"/>
<rect x="979" y="685" width="1" height="25" fill="#c0c0c0"/>
<rect x="983" y="685" width="1" height="26" fill="#c0c0c0"/>
<rect x="987" y="685" width="1" height="28" fill="#c0c0c0"/>
<rect x="991" y="685" width="1" height="28" fill="#c0c0c0"/>
<rect x="995" y="685" width="1" height="28" fill="#c0c0c0"/>
<rect x="999" y="685" width="1" height="26" fill="#c0c0c0"/>
<rect x="1003" y="685" width="1" height="23" fill="#c0c0c0"/>
<rect x="1007" y="685" width="1" height="21" fill="#c0c0c0"/>
<rect x="1011" y="685" width="1" height="19" fill="#c0c0c0"/>
<rect x="1015" y="685" width="1" height="17" fill="#c0c0c0"/>
<rect x="1019" y="685" width="1" height="16" fill="#c0c0c0"/>
<rect x="1023" y="685" width="1" height="15" fill="#c0c0c0"/>
<rect x="1027" y="685" width="1" height="13" fill="#c0c0c0"/>
<rect x="1031" y="685" width="1" height="12" fill="#c0c0c0"/>
<rect x="1035" y="685" width="1" height="12" fill="#c0c0c0"/>
<rect x="1039" y="685" width="1" height="12" fill="#c0c0c0"/>
<rect x="1043" y="685" width="1" height="10" fill="#c0c0c0"/>
<rect x="1047" y="685" width="1" height="8" fill="#c0c0c0"/>
<rect x="1051" y="685" width="1" height="6" fill="#c0c0c0"/>
<rect x="1055" y="685" width="1" height="5" fill="#c0c0c0"/>
<rect x="1059" y="685" width="1" height="4" fill="#c0c0c0"/>
<rect x="1063" y="685" width="1" height="4" fill="#c0c0c0"/>
<rect x="1067" y="685" width="1" height="4" fill="#c0c0c0"/>
<rect x="1071" y="685" width="1" height="4" fill="#c0c0c0"/>
<rect x="1075" y="685" width="1" height="5" fill="#c0c0c0"/>
<rect x="1079" y="685" width="1" height="5" fill="#c0c0c0"/>
<rect x="1083" y="685" width="1" height="5" fill="#c0c0c0"/>
<rect x="1087" y="685" width="1" height="5" fill="#c0c0c0"/>
<rect x="1091" y="685" width="1" height="5" fill="#c0c0c0"/>
<rect x="1095" y="685" width="1" height="5" fill="#c0c0c0"/>
<rect x="1099" y="685" width="1" height="5" fill="#c0c0c0"/>
<rect x="1103" y="685" width="1" height="4" fill="#c0c0c0"/>
<rect x="1107" y="685" width="1" height="4" fill="#c0c0c0"/>
<rect x="1111" y="685" width="1" height="4" fill="#c0c0c0"/>
<rect x="1115" y="685" width="1" height="4" fill="#c0c0c0"/>
<rect x="1119" y="685" width="1" height="5" fill="#c0c0c0"/>
<rect x="1123" y="685" width="1" height="4" fill="#c0c0c0"/>
<rect x="1127" y="685" width="1" height="4" fill="#c0c0c0"/>
<rect x="1131" y="685" width="1" height="4" fill="#c0c0c0"/>
<rect x="1135" y="685" width="1" height="6" fill="#c0c0c0"/>
<rect x="1139" y="685" width="1" height="7" fill="#c0c0c0"/>
<rect x="1143" y="685" width="1" height="9" fill="#c0c0c0"/>
<rect x="1147" y="685" width="1" height="9" fill="#c0c0c0"/>
<rect x="1151" y="685" width="1" height="10" fill="#c0c0c0"/>
<rect x="1155" y="685" width="1" height="10" fill="#c0c0c0"/>
<rect x="1159" y="685" width="1" height="11" fill="#c0c0c0"/>
<rect x="1163" y="685" width="1" height="11" fill="#c0c0c0"/>
<rect x="1167" y="685" width="1" height="11" fill="#c0c0c0"/>
<rect x="1171" y="685" width="1" height="11" fill="#c0c0c0"/>
<rect x="1175" y="685" width="1" height="11" fill="#c0c0c0"/>
<rect x="1179" y="685" width="1" height="10" fill="#c0c0c0"/>
<rect x="1183" y="685" width="1" height="10" fill="#c0c0c0"/>
<rect x="1187" y="685" width="1" height="12" fill="#c0c0c0"/>
<rect x="1191" y="685" width="1" height="12" fill="#c0c0c0"/>
<rect x="1195" y="685" width="1" height="11" fill="#c0c0c0"/>
<rect x="1199" y="685" width="1" height="10" fill="#c0c0c0"/>
<rect x="1203" y="685" width="1" height="10" fill="#c0c0c0"/>
<rect x="1207" y="685" width="1" height="10" fill="#c0c0c0"/>
<rect x="1211" y="685" width="1" height="11" fill="#c0c0c0"/>
<rect x="1215" y="685" width="1" height="12" fill="#c0c0c0"/>
<rect x="1219" y="685" width="1" height="12" fill="#c0c0c0"/>
<rect x="1223" y="685" width="1" height="12" fill="#c0c0c0"/>
<rect x="1227" y="685" width="1" height="13" fill="#c0c0c0"/>
<rect x="1231" y="685" width="1" height="13" fill="#c0c0c0"/>
<rect x="1235" y="685" width="1" height="14" fill="#c0c0c0"/>
<rect x="1239" y="685" width="1" height="14" fill="#c0c0c0"/>
<rect x="1243" y="685" width="1" height="14" fill="#c0c0c0"/>
<rect x="1247" y="685" width="1" height="13" fill="#c0c0c0"/>
<rect x="1251" y="685" width="1" height="13" fill="#c0c0c0"/>
<rect x="1255" y="685" width="1" height="12" fill="#c0c0c0"/>
<rect x="1259" y="685" width="1" height="13" fill="#c0c0c0"/>
<rect x="1263" y="685" width="1" height="13" fill="#c0c0c0"/>
<rect x="1267" y="685" width="1" height="13" fill="#c0c0c0"/>
<path d="M735 638h3v1h-3zM741 639h3v1h-3zM730 640h2v1h-2zM747 640h1v1h-1zM729 641h1v1h-1zM748 641h1v1h-1zM749 642h1v1h-1zM725 643h1v1h-1zM724 644h1v1h-1zM753 644h1v1h-1zM723 645h1v1h-1zM754 645h2v1h-2zM719 648h1v1h-1zM759 648h1v1h-1zM718 649h1v1h-1zM760 649h1v1h-1zM717 650h1v1h-1zM761 650h1v1h-1zM713 654h1v1h-1zM765 654h2v1h-2zM712 655h1v1h-1zM767 655h1v1h-1zM711 656h1v1h-1zM771 658h1v1h-1zM772 659h1v1h-1zM707 660h1v1h-1zM773 660h1v1h-1zM706 661h1v1h-1zM705 662h1v1h-1zM777 662h1v1h-1zM778 663h2v1h-2zM700 665h2v1h-2zM783 665h1v1h-1zM699 666h1v1h-1zM784 666h2v1h-2zM694 669h2v1h-2zM789 669h2v1h-2zM693 670h1v1h-1zM791 670h1v1h-1zM688 672h2v1h-2zM795 672h1v1h-1zM687 673h1v1h-1zM796 673h2v1h-2zM681 675h3v1h-3zM801 675h1v1h-1zM581 676h1v1h-1zM585 676h3v1h-3zM591 676h3v1h-3zM597 676h3v1h-3zM677 676h1v1h-1zM802 676h2v1h-2zM573 677h3v1h-3zM579 677h2v1h-2zM603 677h3v1h-3zM669 677h3v1h-3zM675 677h2v1h-2zM569 678h1v1h-1zM609 678h3v1h-3zM615 678h2v1h-2zM665 678h1v1h-1zM807 678h2v1h-2zM3 679h3v1h-3zM9 679h3v1h-3zM561 679h3v1h-3zM567 679h2v1h-2zM617 679h1v1h-1zM657 679h3v1h-3zM663 679h2v1h-2zM809 679h1v1h-1zM15 680h3v1h-3zM21 680h3v1h-3zM27 680h3v1h-3zM327 680h3v1h-3zM333 680h3v1h-3zM339 680h3v1h-3zM345 680h3v1h-3zM351 680h2v1h-2zM557 680h1v1h-1zM621 680h3v1h-3zM627 680h2v1h-2zM651 680h3v1h-3zM813 680h3v1h-3zM33 681h3v1h-3zM39 681h3v1h-3zM309 681h3v1h-3zM315 681h3v1h-3zM321 681h3v1h-3zM353 681h1v1h-1zM357 681h3v1h-3zM555 681h2v1h-2zM629 681h1v1h-1zM633 681h3v1h-3zM639 681h3v1h-3zM645 681h3v1h-3zM819 681h3v1h-3zM825 681h3v1h-3zM831 681h3v1h-3zM837 681h3v1h-3zM843 681h3v1h-3zM849 681h3v1h-3zM45 682h3v1h-3zM303 682h3v1h-3zM363 682h3v1h-3zM549 682h3v1h-3zM855 682h3v1h-3zM51 683h2v1h-2zM149 683h1v1h-1zM153 683h3v1h-3zM159 683h3v1h-3zM165 683h3v1h-3zM171 683h2v1h-2zM291 683h3v1h-3zM297 683h3v1h-3zM369 683h3v1h-3zM375 683h2v1h-2zM545 683h1v1h-1zM861 683h3v1h-3zM867 683h2v1h-2zM53 684h1v1h-1zM57 684h3v1h-3zM113 684h1v1h-1zM117 684h3v1h-3zM123 684h3v1h-3zM129 684h3v1h-3zM135 684h3v1h-3zM141 684h3v1h-3zM147 684h2v1h-2zM173 684h1v1h-1zM177 684h3v1h-3zM285 684h3v1h-3zM377 684h1v1h-1zM381 684h3v1h-3zM543 684h2v1h-2zM869 684h1v1h-1zM873 684h3v1h-3zM879 684h2v1h-2zM63 685h2v1h-2zM99 685h3v1h-3zM105 685h3v1h-3zM111 685h2v1h-2zM183 685h2v1h-2zM279 685h3v1h-3zM387 685h3v1h-3zM533 685h1v1h-1zM537 685h3v1h-3zM881 685h1v1h-1zM885 685h3v1h-3zM891 685h3v1h-3zM65 686h1v1h-1zM89 686h1v1h-1zM93 686h3v1h-3zM185 686h1v1h-1zM273 686h3v1h-3zM393 686h3v1h-3zM531 686h2v1h-2zM897 686h3v1h-3zM903 686h3v1h-3zM909 686h3v1h-3zM915 686h3v1h-3zM921 686h3v1h-3zM927 686h3v1h-3zM933 686h3v1h-3zM69 687h3v1h-3zM75 687h3v1h-3zM81 687h3v1h-3zM87 687h2v1h-2zM189 687h3v1h-3zM269 687h1v1h-1zM399 687h3v1h-3zM525 687h3v1h-3zM939 687h3v1h-3zM195 688h2v1h-2zM261 688h3v1h-3zM267 688h2v1h-2zM405 688h3v1h-3zM411 688h2v1h-2zM519 688h3v1h-3zM945 688h3v1h-3zM1121 688h1v1h-1zM1125 688h3v1h-3zM1131 688h3v1h-3zM197 689h1v1h-1zM201 689h3v1h-3zM257 689h1v1h-1zM413 689h1v1h-1zM417 689h3v1h-3zM423 689h3v1h-3zM429 689h3v1h-3zM509 689h1v1h-1zM513 689h3v1h-3zM951 689h2v1h-2zM1077 689h3v1h-3zM1083 689h3v1h-3zM1089 689h3v1h-3zM1095 689h3v1h-3zM1101 689h3v1h-3zM1107 689h3v1h-3zM1113 689h3v1h-3zM1119 689h2v1h-2zM1137 689h3v1h-3zM1143 689h2v1h-2zM207 690h2v1h-2zM255 690h2v1h-2zM435 690h3v1h-3zM501 690h3v1h-3zM507 690h2v1h-2zM953 690h1v1h-1zM1073 690h1v1h-1zM1145 690h1v1h-1zM1149 690h3v1h-3zM209 691h1v1h-1zM245 691h1v1h-1zM249 691h3v1h-3zM441 691h3v1h-3zM447 691h2v1h-2zM497 691h1v1h-1zM957 691h3v1h-3zM1065 691h3v1h-3zM1071 691h2v1h-2zM1155 691h2v1h-2zM213 692h3v1h-3zM219 692h2v1h-2zM243 692h2v1h-2zM449 692h1v1h-1zM489 692h3v1h-3zM495 692h2v1h-2zM963 692h1v1h-1zM1061 692h1v1h-1zM1157 692h1v1h-1zM221 693h1v1h-1zM225 693h3v1h-3zM231 693h3v1h-3zM237 693h3v1h-3zM453 693h3v1h-3zM459 693h2v1h-2zM485 693h1v1h-1zM964 693h2v1h-2zM1059 693h2v1h-2zM1161 693h3v1h-3zM1167 693h2v1h-2zM461 694h1v1h-1zM465 694h3v1h-3zM473 694h1v1h-1zM477 694h3v1h-3zM483 694h2v1h-2zM1054 694h2v1h-2zM1169 694h1v1h-1zM1173 694h3v1h-3zM1179 694h2v1h-2zM471 695h2v1h-2zM969 695h1v1h-1zM1053 695h1v1h-1zM1181 695h1v1h-1zM1185 695h3v1h-3zM1191 695h3v1h-3zM1197 695h3v1h-3zM1203 695h3v1h-3zM1209 695h3v1h-3zM1215 695h3v1h-3zM1221 695h3v1h-3zM1227 695h2v1h-2zM970 696h2v1h-2zM1049 696h1v1h-1zM1229 696h1v1h-1zM1233 696h3v1h-3zM1239 696h2v1h-2zM1047 697h2v1h-2zM1241 697h1v1h-1zM1245 697h3v1h-3zM1251 697h3v1h-3zM1257 697h3v1h-3zM1263 697h3v1h-3zM975 698h1v1h-1zM1041 698h3v1h-3zM976 699h2v1h-2zM1037 699h1v1h-1zM1035 700h2v1h-2zM981 701h1v1h-1zM982 702h2v1h-2zM1030 702h2v1h-2zM1029 703h1v1h-1zM987 704h2v1h-2zM1025 704h1v1h-1zM989 705h1v1h-1zM1023 705h2v1h-2zM993 706h1v1h-1zM994 707h2v1h-2zM1017 707h3v1h-3zM1013 708h1v1h-1zM999 709h3v1h-3zM1005 709h3v1h-3zM1011 709h2v1h-2z" fill="#ff0000"/>
<rect x="3" y="718" width="1" height="3" fill="#000"/>
<text x="2" y="730" font-size="10" fill="#000" transform="translate(2 0) scale(0.93 1) translate(-2 0)">26 Aug 2019</text>
<rect x="67" y="718" width="1" height="3" fill="#000"/>
<text x="66" y="730" font-size="10" fill="#000" transform="translate(66 0) scale(0.93 1) translate(-66 0)">13 Sep 2019</text>
<rect x="131" y="718" width="1" height="3" fill="#000"/>
<text x="130" y="730" font-size="10" fill="#000" transform="translate(130 0) scale(0.93 1) translate(-130 0)">2 Oct 2019</text>
<rect x="195" y="718" width="1" height="3" fill="#000"/>
<text x="194" y="730" font-size="10" fill="#000" transform="translate(194 0) scale(0.93 1) translate(-194 0)">21 Oct 2019</text>
<rect x="259" y="718" width="1" height="3" fill="#000"/>
<text x="258" y="730" font-size="10" fill="#000" transform="translate(258 0) scale(0.93 1) translate(-258 0)">8 Nov 2019</text>
<rect x="323" y="718" width="1" height="3" fill="#000"/>
<text x="322" y="730" font-size="10" fill="#000" transform="translate(322 0) scale(0.93 1) translate(-322 0)">27 Nov 2019</text>
<rect x="387" y="718" width="1" height="3" fill="#000"/>
<text x="386" y="730" font-size="10" fill="#000" transform="translate(386 0) scale(0.93 1) translate(-386 0)">16 Dec 2019</text>
<rect x="451" y="718" width="1" height="3" fill="#000"/>
<text x="450" y="730" font-size="10" fill="#000" transform="translate(450 0) scale(0.93 1) translate(-450 0)">3 Jan 2020</text>
<rect x="515" y="718" width="1" height="3" fill="#000"/>
<text x="514" y="730" font-size="10" fill="#000" transform="translate(514 0) scale(0.93 1) translate(-514 0)">22 Jan 2020</text>
<rect x="579" y="718" width="1" height="3" fill="#000"/>
<text x="578" y="730" font-size="10" fill="#000" transform="translate(578 0) scale(0.93 1) translate(-578 0)">10 Feb 2020</text>
<rect x="643" y="718" width="1" height="3" fill="#000"/>
<text x="642" y="730" font-size="10" fill="#000" transform="translate(642 0) scale(0.93 1) translate(-642 0)">28 Feb 2020</text>
<rect x="707" y="718" width="1" height="3" fill="#000"/>
<text x="706" y="730" font-size="10" fill="#000" transform="translate(706 0) scale(0.93 1) translate(-706 0)">18 Mar 2020</text>
<rect x="771" y="718" width="1" height="3" fill="#000"/>
<text x="770" y="730" font-size="10" fill="#000" transform="translate(770 0) scale(0.93 1) translate(-770 0)">6 Apr 2020</text>
<rect x="835" y="718" width="1" height="3" fill="#000"/>
<text x="834" y="730" font-size="10" fill="#000" transform="translate(834 0) scale(0.93 1) translate(-834 0)">24 Apr 2020</text>
<rect x="899" y="718" width="1" height="3" fill="#000"/>
<text x="898" y="730" font-size="10" fill="#000" transform="translate(898 0) scale(0.93 1) translate(-898 0)">13 May 2020</text>
<rect x="963" y="718" width="1" height="3" fill="#000"/>
<text x="962" y="730" font-size="10" fill="#000" transform="translate(962 0) scale(0.93 1) translate(-962 0)">1 Jun 2020</text>
<rect x="1027" y="718" width="1" height="3" fill="#000"/>
<text x="1026" y="730" font-size="10" fill="#000" transform="translate(1026 0) scale(0.93 1) translate(-1026 0)">19 Jun 2020</text>
<rect x="1091" y="718" width="1" height="3" fill="#000"/>
<text x="1090" y="730" font-size="10" fill="#000" transform="translate(1090 0) scale(0.93 1) translate(-1090 0)">8 Jul 2020</text>
<rect x="1155" y="718" width="1" height="3" fill="#000"/>
<text x="1154" y="730" font-size="10" fill="#000" transform="translate(1154 0) scale(0.93 1) translate(-1154 0)">27 Jul 2020</text>
<rect x="1219" y="718" width="1" height="3" fill="#000"/>
<text x="1218" y="730" font-size="10" fill="#000" transform="translate(1218 0) scale(0.93 1) translate(-1218 0)">14 Aug 2020</text>
<rect x="0" y="738" width="1637" height="23" fill="#f0f0f0"/>
<rect x="0" y="738" width="1637" height="1" fill="#e3e3e3"/>
<rect x="0" y="740" width="1637" height="1" fill="#000"/>
<rect x="0" y="741" width="1637" height="1" fill="#fbfbfb"/>
<rect x="0" y="760" width="1637" height="1" fill="#fafafa"/>
<rect x="311" y="740" width="106" height="20" fill="#fff"/>
<path d="M312.5 740 V758.5 H415.5 V740" fill="none" stroke="#000"/>
<text x="16.3" y="755" font-size="13" fill="#6d6d6d" textLength="79.7" lengthAdjust="spacingAndGlyphs">EURUSD,Daily</text>
<text x="118.5" y="755" font-size="13" fill="#6d6d6d" textLength="78.7" lengthAdjust="spacingAndGlyphs">USDCHF,Daily</text>
<text x="219.3" y="755" font-size="13" fill="#6d6d6d" textLength="81.5" lengthAdjust="spacingAndGlyphs">AUDUSD,Daily</text>
<text x="323.3" y="755" font-size="13" fill="#000" textLength="80.7" lengthAdjust="spacingAndGlyphs">USDCAD,Daily</text>
<text x="425.7" y="755" font-size="13" fill="#6d6d6d" textLength="83.3" lengthAdjust="spacingAndGlyphs">USDCNH,Daily</text>
<text x="532" y="755" font-size="13" fill="#6d6d6d" textLength="80.0" lengthAdjust="spacingAndGlyphs">EURUSD,Daily</text>
<text x="636" y="755" font-size="13" fill="#6d6d6d" textLength="68.0" lengthAdjust="spacingAndGlyphs">GBPUSD,H4</text>
<text x="727" y="755" font-size="13" fill="#6d6d6d" textLength="68.8" lengthAdjust="spacingAndGlyphs">XAUUSD,H1</text>
<text x="819" y="755" font-size="13" fill="#6d6d6d" textLength="50.0" lengthAdjust="spacingAndGlyphs">HK50,H1</text>
<text x="891.6" y="755" font-size="13" fill="#6d6d6d" textLength="56.2" lengthAdjust="spacingAndGlyphs">UK100,H1</text>
<text x="971" y="755" font-size="13" fill="#6d6d6d" textLength="56.5" lengthAdjust="spacingAndGlyphs">UK100,H1</text>
<text x="1051" y="755" font-size="13" fill="#6d6d6d" textLength="56.6" lengthAdjust="spacingAndGlyphs">GER30,H1</text>
<text x="1130" y="755" font-size="13" fill="#6d6d6d" textLength="54.5" lengthAdjust="spacingAndGlyphs">FRA40,H1</text>
<text x="1206" y="755" font-size="13" fill="#6d6d6d" textLength="51.0" lengthAdjust="spacingAndGlyphs">USOil,H4</text>
<text x="1278" y="755" font-size="13" fill="#6d6d6d" textLength="62.0" lengthAdjust="spacingAndGlyphs">USDJPY,H1</text>
<text x="1362" y="755" font-size="13" fill="#6d6d6d" textLength="59.0" lengthAdjust="spacingAndGlyphs">DJ30,Daily</text>
<text x="1442" y="755" font-size="13" fill="#6d6d6d" textLength="78.6" lengthAdjust="spacingAndGlyphs">CHINA300,H1</text>
<text x="1542" y="755" font-size="13" fill="#6d6d6d" textLength="50.4" lengthAdjust="spacingAndGlyphs">USOil,H1</text>
<rect x="108" y="743" width="1" height="14" fill="#6d6d6d"/>
<rect x="208" y="743" width="1" height="14" fill="#6d6d6d"/>
<rect x="520" y="743" width="1" height="14" fill="#6d6d6d"/>
<rect x="624" y="743" width="1" height="14" fill="#6d6d6d"/>
<rect x="716" y="743" width="1" height="14" fill="#6d6d6d"/>
<rect x="808" y="743" width="1" height="14" fill="#6d6d6d"/>
<rect x="880" y="743" width="1" height="14" fill="#6d6d6d"/>
<rect x="960" y="743" width="1" height="14" fill="#6d6d6d"/>
<rect x="1040" y="743" width="1" height="14" fill="#6d6d6d"/>
<rect x="1120" y="743" width="1" height="14" fill="#6d6d6d"/>
<rect x="1196" y="743" width="1" height="14" fill="#6d6d6d"/>
<rect x="1268" y="743" width="1" height="14" fill="#6d6d6d"/>
<rect x="1352" y="743" width="1" height="14" fill="#6d6d6d"/>
<rect x="1432" y="743" width="1" height="14" fill="#6d6d6d"/>
<rect x="1532" y="743" width="1" height="14" fill="#6d6d6d"/>
<rect x="1604" y="743" width="1" height="14" fill="#6d6d6d"/>
<path d="M1610.8 749.2 L1614.2 745.8 L1614.2 752.6 Z" fill="#a0a0a0" shape-rendering="auto"/>
<path d="M1633.6 749.2 L1630.2 745.8 L1630.2 752.6 Z" fill="#000" shape-rendering="auto"/>
</svg></body></html>
